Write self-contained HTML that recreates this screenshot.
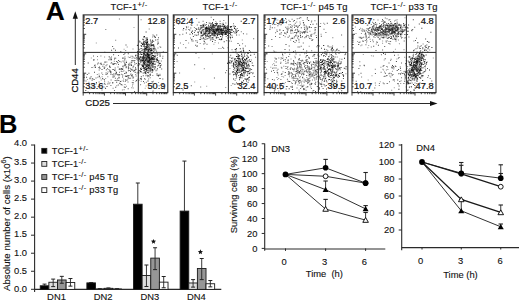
<!DOCTYPE html>
<html><head><meta charset="utf-8"><style>
html,body{margin:0;padding:0;background:#fff;width:520px;height:301px;overflow:hidden}
svg{display:block}
</style></head><body>
<svg width="520" height="301" viewBox="0 0 520 301">
<rect width="520" height="301" fill="#fff"/>
<path fill="#999" d="M90.8 57.4h1v1h-1zM86.9 79.1h1v1h-1zM91.5 78.4h1v1h-1zM122.1 84.6h1v1h-1zM87.6 91.3h1v1h-1zM132.3 84.1h1v1h-1zM130.4 55.7h1v1h-1zM102.4 64.5h1v1h-1zM102.2 66.1h1v1h-1zM107.2 83.6h1v1h-1zM103.7 86.5h1v1h-1zM116.0 63.6h1v1h-1zM131.7 82.0h1v1h-1zM120.7 80.7h1v1h-1zM110.9 58.4h1v1h-1zM127.4 78.5h1v1h-1zM89.6 88.3h1v1h-1zM132.7 77.0h1v1h-1zM105.2 78.1h1v1h-1zM132.1 77.4h1v1h-1zM133.0 59.9h1v1h-1zM109.1 83.3h1v1h-1zM127.9 66.6h1v1h-1zM110.4 62.7h1v1h-1zM127.8 56.4h1v1h-1zM119.0 68.3h1v1h-1zM98.0 67.0h1v1h-1zM105.1 84.1h1v1h-1zM109.9 57.6h1v1h-1zM93.6 66.6h1v1h-1zM115.4 70.8h1v1h-1zM124.2 58.2h1v1h-1zM98.5 73.5h1v1h-1zM130.2 77.4h1v1h-1zM108.2 59.3h1v1h-1zM97.0 59.2h1v1h-1zM123.6 48.8h1v1h-1zM95.8 42.4h1v1h-1zM133.5 27.1h1v1h-1zM142.8 39.2h1v1h-1zM162.0 21.2h1v1h-1zM159.4 46.2h1v1h-1zM153.7 35.6h1v1h-1zM152.9 80.7h1v1h-1zM145.6 85.6h1v1h-1zM144.7 87.8h1v1h-1zM159.5 73.8h1v1h-1zM152.1 91.5h1v1h-1zM156.4 61.7h1v1h-1zM156.3 58.0h1v1h-1zM158.1 82.1h1v1h-1zM146.8 55.9h1v1h-1zM152.4 82.9h1v1h-1z"/>
<path fill="#888" d="M114.3 57.6h1v1h-1zM125.5 71.5h1v1h-1zM100.7 79.4h1v1h-1zM105.8 69.4h1v1h-1zM107.8 81.6h1v1h-1zM135.0 69.0h1v1h-1zM124.8 58.2h1v1h-1zM125.8 60.8h1v1h-1zM132.7 80.0h1v1h-1zM101.6 76.2h1v1h-1zM99.8 77.4h1v1h-1zM135.4 54.5h1v1h-1zM96.0 83.3h1v1h-1zM127.9 68.3h1v1h-1zM118.5 77.7h1v1h-1zM130.0 73.7h1v1h-1zM97.3 76.7h1v1h-1zM119.2 68.2h1v1h-1zM136.8 78.8h1v1h-1zM114.4 74.4h1v1h-1zM137.5 55.6h1v1h-1zM117.9 74.0h1v1h-1zM122.7 66.6h1v1h-1zM115.5 73.5h1v1h-1zM130.6 73.6h1v1h-1zM125.2 50.1h1v1h-1zM107.6 83.2h1v1h-1zM126.7 46.4h1v1h-1zM96.8 74.0h1v1h-1zM117.1 61.7h1v1h-1zM122.6 80.3h1v1h-1zM122.1 57.9h1v1h-1zM131.6 57.7h1v1h-1zM131.8 74.1h1v1h-1zM110.0 66.7h1v1h-1zM120.7 61.4h1v1h-1zM135.2 73.9h1v1h-1zM144.9 78.8h1v1h-1zM123.4 70.3h1v1h-1zM102.2 73.9h1v1h-1zM134.9 72.0h1v1h-1zM128.4 75.2h1v1h-1zM123.1 78.6h1v1h-1zM134.4 63.9h1v1h-1zM140.7 80.8h1v1h-1zM124.8 75.5h1v1h-1zM99.9 67.7h1v1h-1zM122.4 70.9h1v1h-1zM108.3 68.9h1v1h-1zM149.8 73.6h1v1h-1zM119.8 83.3h1v1h-1zM94.8 66.3h1v1h-1zM159.6 62.8h1v1h-1zM138.6 79.8h1v1h-1zM123.0 80.7h1v1h-1zM132.0 85.4h1v1h-1zM109.9 70.6h1v1h-1zM107.0 68.0h1v1h-1zM88.4 81.8h1v1h-1zM118.6 68.7h1v1h-1zM144.7 62.3h1v1h-1zM138.3 64.6h1v1h-1zM125.4 66.3h1v1h-1zM133.7 57.6h1v1h-1zM118.8 73.9h1v1h-1zM129.6 67.7h1v1h-1zM125.0 79.2h1v1h-1zM131.2 87.3h1v1h-1zM110.5 73.4h1v1h-1zM108.7 59.2h1v1h-1zM106.3 69.1h1v1h-1zM137.5 58.6h1v1h-1zM132.4 67.2h1v1h-1zM128.0 75.5h1v1h-1zM124.1 64.7h1v1h-1zM129.2 64.7h1v1h-1zM112.1 76.4h1v1h-1zM152.3 75.1h1v1h-1zM116.5 80.0h1v1h-1zM98.8 75.3h1v1h-1zM140.6 72.0h1v1h-1zM109.1 65.2h1v1h-1zM104.1 56.5h1v1h-1zM132.7 87.6h1v1h-1zM104.9 88.0h1v1h-1zM109.5 82.2h1v1h-1zM104.3 66.9h1v1h-1zM93.9 79.0h1v1h-1zM133.1 76.6h1v1h-1zM115.8 71.7h1v1h-1zM107.3 76.3h1v1h-1zM132.5 48.6h1v1h-1zM138.0 56.5h1v1h-1zM136.0 57.6h1v1h-1zM133.2 69.8h1v1h-1zM132.8 77.6h1v1h-1zM121.9 89.5h1v1h-1z"/>
<path fill="#777" d="M155.9 59.5h1v1h-1zM152.3 58.8h1v1h-1zM150.0 48.2h1v1h-1zM145.9 46.0h1v1h-1zM147.9 54.0h1v1h-1zM149.2 66.3h1v1h-1zM152.3 57.4h1v1h-1zM142.0 60.1h1v1h-1zM137.5 64.5h1v1h-1zM156.9 56.9h1v1h-1zM146.1 58.9h1v1h-1zM151.7 59.0h1v1h-1zM160.8 60.4h1v1h-1zM151.4 65.0h1v1h-1zM149.6 67.3h1v1h-1zM153.2 40.9h1v1h-1zM156.4 69.6h1v1h-1zM144.1 58.6h1v1h-1zM146.7 53.1h1v1h-1zM144.8 73.1h1v1h-1zM152.5 44.0h1v1h-1zM141.8 49.6h1v1h-1zM146.8 64.4h1v1h-1zM153.7 47.3h1v1h-1zM156.8 55.1h1v1h-1zM139.2 49.3h1v1h-1zM148.7 61.2h1v1h-1zM151.3 45.0h1v1h-1zM144.2 60.7h1v1h-1zM140.5 58.9h1v1h-1zM136.4 58.8h1v1h-1zM143.3 49.0h1v1h-1zM149.7 63.7h1v1h-1zM141.2 58.9h1v1h-1zM148.2 61.1h1v1h-1zM156.9 59.0h1v1h-1zM149.1 64.7h1v1h-1zM145.3 58.5h1v1h-1zM153.3 58.4h1v1h-1zM153.4 51.7h1v1h-1zM143.0 59.0h1v1h-1zM142.4 48.4h1v1h-1zM147.4 75.6h1v1h-1zM145.7 51.7h1v1h-1zM148.0 60.8h1v1h-1zM140.8 42.5h1v1h-1zM160.9 64.4h1v1h-1zM142.2 60.0h1v1h-1zM146.6 55.7h1v1h-1zM144.2 44.3h1v1h-1zM152.9 51.1h1v1h-1zM142.3 56.5h1v1h-1zM153.9 55.7h1v1h-1zM145.6 58.6h1v1h-1zM148.5 46.0h1v1h-1zM147.2 62.3h1v1h-1zM148.8 58.1h1v1h-1zM148.2 43.6h1v1h-1zM144.5 52.1h1v1h-1zM146.7 74.8h1v1h-1zM142.9 45.8h1v1h-1zM133.0 70.8h1v1h-1zM156.1 50.7h1v1h-1zM148.0 58.3h1v1h-1zM148.1 52.5h1v1h-1zM147.5 61.1h1v1h-1zM148.9 47.4h1v1h-1zM146.2 57.7h1v1h-1zM149.3 61.0h1v1h-1zM150.6 61.4h1v1h-1zM154.9 63.6h1v1h-1zM140.3 62.2h1v1h-1zM147.9 72.5h1v1h-1zM144.3 67.5h1v1h-1zM143.0 62.1h1v1h-1zM143.7 53.9h1v1h-1zM133.3 65.4h1v1h-1zM152.8 61.6h1v1h-1zM155.9 60.7h1v1h-1zM140.2 67.9h1v1h-1zM145.9 63.2h1v1h-1zM152.2 53.0h1v1h-1zM155.2 55.3h1v1h-1zM149.1 50.7h1v1h-1zM149.7 57.8h1v1h-1zM148.4 68.6h1v1h-1zM162.4 55.8h1v1h-1zM151.2 69.3h1v1h-1zM152.0 41.8h1v1h-1zM146.7 52.7h1v1h-1zM148.6 75.8h1v1h-1zM140.2 61.9h1v1h-1zM148.3 44.7h1v1h-1zM148.1 58.5h1v1h-1zM148.1 78.4h1v1h-1zM149.2 61.3h1v1h-1zM145.6 53.3h1v1h-1zM151.5 53.3h1v1h-1zM157.2 61.7h1v1h-1zM137.6 53.5h1v1h-1zM150.8 69.5h1v1h-1zM157.5 47.5h1v1h-1zM145.0 59.8h1v1h-1zM143.9 55.1h1v1h-1zM136.9 55.0h1v1h-1zM151.6 65.8h1v1h-1zM149.7 71.3h1v1h-1zM145.7 65.5h1v1h-1zM149.1 59.1h1v1h-1zM149.9 65.6h1v1h-1zM150.2 55.3h1v1h-1zM147.2 50.8h1v1h-1zM147.3 76.2h1v1h-1zM156.2 58.6h1v1h-1zM136.8 54.6h1v1h-1zM147.5 53.0h1v1h-1zM141.3 58.2h1v1h-1zM150.5 53.5h1v1h-1zM154.6 55.4h1v1h-1zM146.8 65.9h1v1h-1zM148.1 65.3h1v1h-1zM153.8 50.2h1v1h-1zM151.2 58.8h1v1h-1zM146.6 68.0h1v1h-1zM144.0 62.9h1v1h-1zM144.9 67.2h1v1h-1zM136.3 57.1h1v1h-1zM142.6 44.1h1v1h-1zM146.7 61.5h1v1h-1zM147.1 64.0h1v1h-1zM145.4 41.8h1v1h-1zM143.1 43.4h1v1h-1zM142.0 38.8h1v1h-1zM152.3 40.4h1v1h-1zM153.6 35.4h1v1h-1zM152.1 36.4h1v1h-1zM150.6 46.4h1v1h-1zM150.5 45.9h1v1h-1zM145.0 40.2h1v1h-1zM148.6 45.2h1v1h-1zM143.6 43.0h1v1h-1zM143.7 37.0h1v1h-1zM148.4 45.0h1v1h-1zM144.2 40.8h1v1h-1zM146.5 44.3h1v1h-1zM149.4 45.2h1v1h-1zM138.8 40.4h1v1h-1zM146.7 45.0h1v1h-1zM149.9 48.6h1v1h-1zM146.2 48.3h1v1h-1zM146.9 48.6h1v1h-1zM149.7 52.0h1v1h-1zM112.9 69.1h1v1h-1zM135.3 80.8h1v1h-1zM112.6 87.8h1v1h-1zM107.5 71.4h1v1h-1zM113.0 74.5h1v1h-1zM121.1 73.8h1v1h-1zM125.8 85.7h1v1h-1zM106.3 61.6h1v1h-1zM97.0 55.9h1v1h-1zM124.8 81.0h1v1h-1zM99.8 63.1h1v1h-1zM109.4 57.4h1v1h-1zM114.0 89.9h1v1h-1zM112.0 74.3h1v1h-1zM135.0 67.4h1v1h-1zM124.5 84.0h1v1h-1zM132.6 56.6h1v1h-1zM123.6 89.3h1v1h-1zM116.3 85.3h1v1h-1zM113.8 60.8h1v1h-1zM123.3 57.8h1v1h-1zM125.0 64.7h1v1h-1zM100.4 55.5h1v1h-1zM100.1 62.8h1v1h-1zM99.0 84.2h1v1h-1zM113.8 75.7h1v1h-1zM130.7 61.8h1v1h-1zM118.0 55.1h1v1h-1zM131.7 55.7h1v1h-1zM91.6 79.9h1v1h-1zM100.9 62.8h1v1h-1zM92.6 78.9h1v1h-1zM92.6 83.4h1v1h-1zM132.4 82.2h1v1h-1zM104.1 80.8h1v1h-1zM110.8 71.6h1v1h-1zM118.9 18.4h1v1h-1zM105.3 29.1h1v1h-1zM115.2 39.8h1v1h-1zM162.8 51.2h1v1h-1zM140.6 19.3h1v1h-1zM141.2 43.0h1v1h-1zM143.3 37.2h1v1h-1zM148.7 28.6h1v1h-1zM157.2 65.6h1v1h-1zM142.3 91.5h1v1h-1zM158.6 85.3h1v1h-1zM142.7 57.0h1v1h-1zM153.2 57.7h1v1h-1zM143.9 82.5h1v1h-1zM149.0 65.8h1v1h-1zM155.0 66.5h1v1h-1zM149.7 77.2h1v1h-1z"/>
<path fill="#666" d="M139.9 78.0h1v1h-1zM124.3 63.2h1v1h-1zM103.8 83.5h1v1h-1zM114.7 67.6h1v1h-1zM110.4 73.7h1v1h-1zM129.4 64.3h1v1h-1zM140.1 84.3h1v1h-1zM131.7 74.9h1v1h-1zM130.0 71.1h1v1h-1zM110.6 79.6h1v1h-1zM113.3 76.4h1v1h-1zM115.2 57.7h1v1h-1zM102.5 78.4h1v1h-1zM119.0 71.7h1v1h-1zM114.7 62.9h1v1h-1zM145.4 75.2h1v1h-1zM131.6 69.8h1v1h-1zM101.5 89.4h1v1h-1zM102.0 78.1h1v1h-1zM117.2 78.3h1v1h-1zM118.0 64.1h1v1h-1zM137.6 52.3h1v1h-1zM131.6 76.0h1v1h-1zM135.2 55.6h1v1h-1zM112.9 76.4h1v1h-1zM125.3 72.7h1v1h-1zM93.0 55.5h1v1h-1zM138.3 72.2h1v1h-1zM100.6 87.6h1v1h-1zM150.2 49.4h1v1h-1zM93.2 86.4h1v1h-1zM104.5 61.8h1v1h-1zM131.6 69.9h1v1h-1zM85.5 80.5h1v1h-1zM116.1 73.2h1v1h-1zM124.4 56.6h1v1h-1zM139.9 59.2h1v1h-1zM127.5 81.6h1v1h-1zM135.7 68.7h1v1h-1zM113.4 73.2h1v1h-1zM140.8 78.0h1v1h-1zM124.4 64.6h1v1h-1zM134.0 70.0h1v1h-1zM131.4 59.9h1v1h-1zM125.6 67.2h1v1h-1zM110.4 84.9h1v1h-1zM114.9 77.7h1v1h-1zM129.3 62.7h1v1h-1zM91.6 85.6h1v1h-1zM111.0 56.4h1v1h-1zM97.1 63.4h1v1h-1zM117.5 66.4h1v1h-1zM109.6 70.9h1v1h-1zM94.6 64.4h1v1h-1zM113.6 63.1h1v1h-1zM119.1 69.1h1v1h-1zM128.5 75.1h1v1h-1zM143.6 53.9h1v1h-1zM110.1 72.0h1v1h-1zM112.4 63.6h1v1h-1zM123.6 65.3h1v1h-1zM138.4 72.4h1v1h-1zM129.5 78.1h1v1h-1zM152.5 56.6h1v1h-1zM114.0 63.0h1v1h-1zM95.5 77.4h1v1h-1zM105.5 65.2h1v1h-1zM134.3 60.0h1v1h-1zM128.1 67.1h1v1h-1zM98.8 76.3h1v1h-1zM120.3 50.9h1v1h-1zM124.0 72.9h1v1h-1zM124.7 64.1h1v1h-1zM98.6 81.4h1v1h-1zM138.6 63.0h1v1h-1zM110.4 59.2h1v1h-1zM135.0 67.2h1v1h-1zM134.4 71.4h1v1h-1zM116.5 79.8h1v1h-1zM101.3 72.5h1v1h-1zM125.5 75.9h1v1h-1zM152.8 63.1h1v1h-1zM109.0 66.1h1v1h-1zM106.5 64.2h1v1h-1zM122.5 60.5h1v1h-1zM104.2 82.7h1v1h-1zM138.4 54.1h1v1h-1zM130.8 75.1h1v1h-1zM98.7 69.5h1v1h-1zM124.5 62.5h1v1h-1zM144.0 69.3h1v1h-1zM135.6 75.4h1v1h-1zM122.4 57.2h1v1h-1zM155.5 70.2h1v1h-1zM145.8 81.7h1v1h-1zM128.4 77.4h1v1h-1zM92.2 77.9h1v1h-1z"/>
<path fill="#555" d="M143.0 55.1h1v1h-1zM143.4 59.9h1v1h-1zM147.2 43.3h1v1h-1zM149.1 58.6h1v1h-1zM153.4 58.7h1v1h-1zM140.0 70.5h1v1h-1zM151.7 59.6h1v1h-1zM146.0 60.7h1v1h-1zM144.1 47.8h1v1h-1zM146.5 56.2h1v1h-1zM142.4 57.3h1v1h-1zM154.3 56.1h1v1h-1zM143.6 56.4h1v1h-1zM147.4 57.5h1v1h-1zM143.8 61.2h1v1h-1zM150.5 49.4h1v1h-1zM140.0 60.1h1v1h-1zM145.5 68.3h1v1h-1zM148.6 67.2h1v1h-1zM144.1 47.3h1v1h-1zM145.0 57.2h1v1h-1zM147.7 54.4h1v1h-1zM145.7 55.3h1v1h-1zM145.4 62.3h1v1h-1zM153.6 66.1h1v1h-1zM156.7 75.0h1v1h-1zM136.9 45.0h1v1h-1zM143.2 57.6h1v1h-1zM143.6 50.5h1v1h-1zM148.0 66.5h1v1h-1zM154.9 56.5h1v1h-1zM148.8 70.3h1v1h-1zM152.9 59.3h1v1h-1zM147.7 48.2h1v1h-1zM134.1 62.2h1v1h-1zM150.3 69.1h1v1h-1zM153.5 67.2h1v1h-1zM151.6 71.9h1v1h-1zM142.4 56.1h1v1h-1zM147.2 45.5h1v1h-1zM149.6 53.9h1v1h-1zM150.3 50.1h1v1h-1zM151.5 61.2h1v1h-1zM143.3 67.2h1v1h-1zM148.3 56.5h1v1h-1zM150.6 44.7h1v1h-1zM144.8 55.8h1v1h-1zM142.2 57.5h1v1h-1zM147.8 63.4h1v1h-1zM154.0 60.8h1v1h-1zM141.8 60.8h1v1h-1zM146.4 70.4h1v1h-1zM139.3 60.4h1v1h-1zM146.0 54.7h1v1h-1zM153.4 58.6h1v1h-1zM144.2 71.7h1v1h-1zM142.5 58.6h1v1h-1zM142.6 64.5h1v1h-1zM150.6 49.4h1v1h-1zM138.4 48.7h1v1h-1zM142.8 75.2h1v1h-1zM146.5 47.2h1v1h-1zM140.2 56.6h1v1h-1zM148.3 55.7h1v1h-1zM147.7 74.9h1v1h-1zM147.9 64.2h1v1h-1zM148.5 61.0h1v1h-1zM149.3 59.8h1v1h-1zM141.9 59.8h1v1h-1zM149.8 62.9h1v1h-1zM140.2 60.8h1v1h-1zM134.6 57.7h1v1h-1zM158.1 61.3h1v1h-1zM149.1 62.4h1v1h-1zM146.8 62.4h1v1h-1zM146.5 44.6h1v1h-1zM148.4 53.9h1v1h-1zM150.2 68.6h1v1h-1zM148.2 57.6h1v1h-1zM152.8 57.3h1v1h-1zM151.2 67.8h1v1h-1zM149.6 51.7h1v1h-1zM145.0 66.8h1v1h-1zM147.8 72.0h1v1h-1zM144.3 64.7h1v1h-1zM142.9 55.9h1v1h-1zM142.8 45.4h1v1h-1zM146.5 57.0h1v1h-1zM152.3 63.8h1v1h-1zM150.5 44.6h1v1h-1zM154.6 61.2h1v1h-1zM137.5 59.7h1v1h-1zM145.1 54.4h1v1h-1zM156.4 53.2h1v1h-1zM146.4 49.8h1v1h-1zM153.6 57.2h1v1h-1zM137.8 71.7h1v1h-1zM146.9 65.4h1v1h-1zM150.5 53.5h1v1h-1zM150.9 48.6h1v1h-1zM148.7 64.4h1v1h-1zM149.6 56.8h1v1h-1zM144.5 58.2h1v1h-1zM143.0 80.9h1v1h-1zM143.2 50.7h1v1h-1zM145.9 43.9h1v1h-1zM144.1 49.1h1v1h-1zM162.2 57.7h1v1h-1zM147.0 44.2h1v1h-1zM160.0 66.4h1v1h-1zM152.6 62.9h1v1h-1zM153.3 58.8h1v1h-1zM161.2 68.6h1v1h-1zM154.3 47.8h1v1h-1zM151.2 59.3h1v1h-1zM146.0 67.8h1v1h-1zM155.4 49.6h1v1h-1zM152.4 62.5h1v1h-1zM145.4 59.3h1v1h-1zM144.0 78.3h1v1h-1zM152.8 64.6h1v1h-1zM152.0 39.8h1v1h-1zM139.9 51.2h1v1h-1zM151.7 58.2h1v1h-1zM146.3 67.7h1v1h-1zM158.3 62.2h1v1h-1zM138.6 56.6h1v1h-1zM140.6 61.3h1v1h-1zM141.0 64.5h1v1h-1zM143.1 60.1h1v1h-1zM145.7 48.5h1v1h-1zM152.2 40.6h1v1h-1zM150.9 43.5h1v1h-1zM149.2 52.5h1v1h-1zM146.5 38.6h1v1h-1zM148.2 44.1h1v1h-1zM142.9 42.4h1v1h-1zM148.4 55.0h1v1h-1zM150.4 43.4h1v1h-1zM148.6 47.0h1v1h-1zM153.0 45.1h1v1h-1zM143.5 35.9h1v1h-1zM143.6 52.1h1v1h-1zM148.6 47.5h1v1h-1zM157.5 41.6h1v1h-1zM139.6 41.3h1v1h-1zM144.3 44.0h1v1h-1zM145.3 41.8h1v1h-1zM144.5 45.9h1v1h-1zM153.3 44.4h1v1h-1zM139.2 41.4h1v1h-1zM148.8 44.0h1v1h-1zM136.6 72.4h1v1h-1zM134.1 91.1h1v1h-1zM127.7 88.2h1v1h-1zM128.0 65.5h1v1h-1zM127.8 77.2h1v1h-1zM99.0 66.6h1v1h-1zM103.5 63.8h1v1h-1zM85.3 90.0h1v1h-1zM90.6 76.3h1v1h-1zM114.5 69.2h1v1h-1zM124.2 59.5h1v1h-1zM107.0 73.2h1v1h-1zM98.9 75.9h1v1h-1zM89.5 78.2h1v1h-1zM97.8 62.4h1v1h-1zM117.8 84.5h1v1h-1zM112.4 69.1h1v1h-1zM118.4 75.3h1v1h-1zM114.7 80.0h1v1h-1zM128.0 68.2h1v1h-1zM88.4 72.8h1v1h-1zM124.1 59.5h1v1h-1zM86.8 73.9h1v1h-1zM129.3 69.9h1v1h-1zM97.7 86.0h1v1h-1zM130.8 63.7h1v1h-1zM123.8 86.5h1v1h-1zM125.4 79.7h1v1h-1zM132.6 82.2h1v1h-1zM124.7 86.9h1v1h-1zM110.8 59.3h1v1h-1zM123.6 61.6h1v1h-1zM126.6 79.5h1v1h-1zM111.1 62.3h1v1h-1zM94.2 65.0h1v1h-1zM93.4 58.9h1v1h-1zM104.3 51.7h1v1h-1zM112.1 45.9h1v1h-1zM156.2 34.6h1v1h-1zM152.5 34.6h1v1h-1zM160.2 46.8h1v1h-1zM158.0 37.2h1v1h-1zM157.9 42.7h1v1h-1zM152.2 81.5h1v1h-1zM140.7 67.4h1v1h-1zM162.3 78.4h1v1h-1zM151.5 81.3h1v1h-1zM162.4 84.0h1v1h-1zM149.7 75.0h1v1h-1zM152.6 90.4h1v1h-1zM148.3 71.4h1v1h-1zM159.6 55.5h1v1h-1zM164.1 88.3h1v1h-1z"/>
<path fill="#444" d="M112.2 82.6h1v1h-1zM112.3 81.9h1v1h-1zM142.6 64.7h1v1h-1zM136.1 79.9h1v1h-1zM111.1 49.8h1v1h-1zM101.5 69.1h1v1h-1zM117.1 74.3h1v1h-1zM118.5 77.1h1v1h-1zM120.6 68.8h1v1h-1zM128.1 63.8h1v1h-1zM106.5 85.9h1v1h-1zM94.9 67.0h1v1h-1zM121.2 68.0h1v1h-1zM93.3 59.7h1v1h-1zM122.1 76.5h1v1h-1zM113.3 48.3h1v1h-1zM114.0 58.6h1v1h-1zM145.5 73.2h1v1h-1zM138.1 64.9h1v1h-1zM129.4 56.9h1v1h-1zM124.4 52.8h1v1h-1zM87.7 62.6h1v1h-1zM94.0 71.7h1v1h-1zM138.9 57.8h1v1h-1zM108.7 56.2h1v1h-1zM125.4 75.7h1v1h-1zM105.6 73.9h1v1h-1zM91.5 67.1h1v1h-1zM137.7 65.2h1v1h-1zM122.3 68.6h1v1h-1zM131.1 65.0h1v1h-1zM120.8 84.3h1v1h-1zM140.7 79.1h1v1h-1zM126.2 76.0h1v1h-1zM123.4 54.1h1v1h-1zM119.2 74.2h1v1h-1zM95.9 81.9h1v1h-1zM125.5 44.4h1v1h-1zM141.1 60.1h1v1h-1zM113.1 54.3h1v1h-1zM119.3 60.9h1v1h-1zM109.4 66.8h1v1h-1zM120.3 68.4h1v1h-1zM127.5 75.2h1v1h-1zM115.2 86.7h1v1h-1zM105.1 87.8h1v1h-1zM112.4 63.5h1v1h-1zM110.8 58.8h1v1h-1zM122.2 74.6h1v1h-1zM114.2 70.0h1v1h-1zM122.3 65.8h1v1h-1zM104.6 61.4h1v1h-1zM135.7 63.1h1v1h-1zM120.7 83.9h1v1h-1zM105.6 72.6h1v1h-1zM118.1 60.0h1v1h-1zM130.3 68.4h1v1h-1zM116.2 81.8h1v1h-1zM126.6 75.5h1v1h-1zM149.9 63.0h1v1h-1zM120.8 70.8h1v1h-1zM98.9 67.5h1v1h-1zM118.3 79.9h1v1h-1zM131.8 60.2h1v1h-1zM131.4 69.1h1v1h-1zM134.4 69.8h1v1h-1zM127.9 70.3h1v1h-1zM125.3 64.3h1v1h-1zM89.6 77.4h1v1h-1zM121.8 69.1h1v1h-1zM126.1 66.6h1v1h-1zM115.9 72.0h1v1h-1zM100.7 64.1h1v1h-1zM139.2 51.2h1v1h-1zM115.2 51.9h1v1h-1zM135.1 55.1h1v1h-1zM133.6 60.5h1v1h-1zM126.0 62.0h1v1h-1zM119.9 80.9h1v1h-1zM117.3 62.3h1v1h-1zM115.2 73.3h1v1h-1zM115.0 49.8h1v1h-1zM109.3 69.8h1v1h-1zM131.3 61.7h1v1h-1zM127.8 53.3h1v1h-1zM132.7 66.2h1v1h-1zM86.1 76.8h1v1h-1zM138.7 69.9h1v1h-1zM116.2 60.9h1v1h-1zM103.9 79.2h1v1h-1zM103.8 68.1h1v1h-1zM103.6 66.6h1v1h-1zM126.0 72.2h1v1h-1zM109.8 71.2h1v1h-1zM119.2 82.7h1v1h-1zM130.8 64.8h1v1h-1zM113.3 64.0h1v1h-1z"/>
<path fill="#333" d="M143.6 56.7h1v1h-1zM150.5 63.2h1v1h-1zM141.4 42.8h1v1h-1zM145.5 37.6h1v1h-1zM144.1 68.0h1v1h-1zM148.9 48.6h1v1h-1zM141.9 65.5h1v1h-1zM144.8 71.2h1v1h-1zM154.8 66.6h1v1h-1zM152.3 69.7h1v1h-1zM147.8 62.0h1v1h-1zM152.2 58.8h1v1h-1zM137.3 44.7h1v1h-1zM151.2 60.7h1v1h-1zM142.7 59.3h1v1h-1zM137.5 58.0h1v1h-1zM152.8 51.8h1v1h-1zM143.1 57.6h1v1h-1zM147.7 69.7h1v1h-1zM146.9 55.8h1v1h-1zM140.5 71.0h1v1h-1zM151.0 52.6h1v1h-1zM148.3 61.5h1v1h-1zM152.2 69.0h1v1h-1zM152.8 63.6h1v1h-1zM153.3 63.2h1v1h-1zM153.1 58.9h1v1h-1zM140.2 51.7h1v1h-1zM144.9 50.6h1v1h-1zM140.8 76.2h1v1h-1zM148.9 58.3h1v1h-1zM145.6 31.4h1v1h-1zM148.2 59.4h1v1h-1zM154.5 53.2h1v1h-1zM152.7 55.1h1v1h-1zM147.5 56.7h1v1h-1zM157.1 43.6h1v1h-1zM148.8 57.3h1v1h-1zM148.9 63.3h1v1h-1zM149.1 57.1h1v1h-1zM146.8 72.0h1v1h-1zM147.4 56.8h1v1h-1zM156.9 68.2h1v1h-1zM156.6 59.4h1v1h-1zM150.1 60.8h1v1h-1zM148.8 64.0h1v1h-1zM139.1 57.7h1v1h-1zM148.2 49.1h1v1h-1zM145.9 68.2h1v1h-1zM147.4 65.8h1v1h-1zM154.2 55.8h1v1h-1zM151.8 70.5h1v1h-1zM144.9 72.5h1v1h-1zM142.8 61.9h1v1h-1zM141.4 50.3h1v1h-1zM145.7 66.3h1v1h-1zM151.8 57.7h1v1h-1zM139.0 58.7h1v1h-1zM144.4 49.8h1v1h-1zM143.2 62.7h1v1h-1zM148.8 60.4h1v1h-1zM143.2 66.0h1v1h-1zM142.6 67.8h1v1h-1zM138.1 51.6h1v1h-1zM155.6 58.7h1v1h-1zM142.8 58.5h1v1h-1zM145.5 57.0h1v1h-1zM137.1 56.5h1v1h-1zM145.5 56.7h1v1h-1zM139.3 63.7h1v1h-1zM150.9 64.4h1v1h-1zM153.7 45.8h1v1h-1zM146.5 69.8h1v1h-1zM150.8 53.1h1v1h-1zM154.4 64.0h1v1h-1zM150.2 58.5h1v1h-1zM150.6 66.6h1v1h-1zM157.9 64.8h1v1h-1zM159.3 66.7h1v1h-1zM147.5 50.8h1v1h-1zM140.1 53.4h1v1h-1zM143.5 68.3h1v1h-1zM146.6 59.6h1v1h-1zM149.7 59.5h1v1h-1zM140.6 45.0h1v1h-1zM143.6 63.2h1v1h-1zM152.4 57.1h1v1h-1zM159.8 65.1h1v1h-1zM157.9 75.4h1v1h-1zM146.6 64.8h1v1h-1zM155.2 39.4h1v1h-1zM145.7 48.7h1v1h-1zM148.1 56.3h1v1h-1zM152.4 70.2h1v1h-1zM148.0 55.3h1v1h-1zM142.4 65.0h1v1h-1zM145.6 59.7h1v1h-1zM139.8 70.9h1v1h-1zM140.3 55.9h1v1h-1zM143.4 52.6h1v1h-1zM149.1 62.0h1v1h-1zM147.6 46.6h1v1h-1zM147.0 44.5h1v1h-1zM153.9 58.7h1v1h-1zM148.3 54.9h1v1h-1zM147.5 60.3h1v1h-1zM145.3 64.4h1v1h-1zM145.2 67.0h1v1h-1zM145.8 69.3h1v1h-1zM142.4 65.9h1v1h-1zM147.9 51.1h1v1h-1zM142.2 57.9h1v1h-1zM142.7 60.6h1v1h-1zM157.0 59.9h1v1h-1zM152.5 61.4h1v1h-1zM148.9 60.3h1v1h-1zM145.0 69.1h1v1h-1zM146.2 69.1h1v1h-1zM148.9 54.8h1v1h-1zM151.7 69.2h1v1h-1zM143.2 42.4h1v1h-1zM154.2 58.3h1v1h-1zM143.5 62.2h1v1h-1zM148.6 67.9h1v1h-1zM143.5 59.7h1v1h-1zM159.6 55.4h1v1h-1zM148.8 59.5h1v1h-1zM147.3 52.9h1v1h-1zM142.7 72.5h1v1h-1zM149.6 73.9h1v1h-1zM154.8 37.1h1v1h-1zM147.5 54.8h1v1h-1zM143.9 48.5h1v1h-1zM150.4 42.5h1v1h-1zM143.6 41.2h1v1h-1zM146.0 45.7h1v1h-1zM147.6 45.9h1v1h-1zM157.4 39.2h1v1h-1zM146.0 42.8h1v1h-1zM146.2 49.2h1v1h-1zM150.4 40.7h1v1h-1zM143.8 49.6h1v1h-1zM149.9 39.6h1v1h-1zM152.8 45.6h1v1h-1zM146.7 45.4h1v1h-1zM144.8 41.7h1v1h-1zM147.1 47.0h1v1h-1zM145.5 45.9h1v1h-1zM146.3 41.6h1v1h-1zM152.3 49.5h1v1h-1zM144.6 43.5h1v1h-1zM146.1 41.7h1v1h-1zM143.1 39.2h1v1h-1z"/>
<path fill="#111" d="M150.1 59.0h1v1h-1zM145.1 54.8h1v1h-1zM146.0 47.6h1v1h-1zM147.5 60.3h1v1h-1zM144.1 50.7h1v1h-1zM148.9 59.9h1v1h-1zM159.5 53.5h1v1h-1zM152.2 58.4h1v1h-1zM147.4 54.1h1v1h-1zM148.0 55.1h1v1h-1zM146.8 55.4h1v1h-1zM152.1 68.9h1v1h-1zM150.4 48.0h1v1h-1zM145.1 51.9h1v1h-1zM148.1 50.2h1v1h-1zM145.2 59.8h1v1h-1zM152.7 44.2h1v1h-1zM147.0 58.4h1v1h-1zM141.5 53.7h1v1h-1zM148.5 54.2h1v1h-1zM150.4 50.0h1v1h-1zM148.9 58.8h1v1h-1zM145.7 70.4h1v1h-1zM148.6 57.7h1v1h-1zM147.7 67.2h1v1h-1zM153.2 48.4h1v1h-1zM142.9 65.9h1v1h-1zM148.7 56.9h1v1h-1zM150.7 58.5h1v1h-1zM150.4 62.0h1v1h-1zM152.6 55.1h1v1h-1zM137.7 53.1h1v1h-1zM149.4 68.6h1v1h-1zM151.3 50.1h1v1h-1zM156.5 73.6h1v1h-1zM142.6 59.7h1v1h-1zM146.4 54.3h1v1h-1zM147.1 60.8h1v1h-1zM157.3 53.6h1v1h-1zM147.3 55.7h1v1h-1zM151.7 52.4h1v1h-1zM159.6 62.9h1v1h-1zM143.5 69.9h1v1h-1zM141.1 54.0h1v1h-1zM147.4 61.5h1v1h-1zM158.8 63.3h1v1h-1zM152.4 66.3h1v1h-1zM144.2 60.8h1v1h-1zM154.3 68.5h1v1h-1zM140.6 48.0h1v1h-1zM150.7 60.5h1v1h-1zM138.1 62.9h1v1h-1zM147.5 80.6h1v1h-1zM154.4 48.4h1v1h-1zM146.8 52.0h1v1h-1zM143.1 53.5h1v1h-1zM151.7 52.6h1v1h-1zM143.5 67.1h1v1h-1zM140.1 68.4h1v1h-1zM144.3 64.0h1v1h-1zM148.3 61.1h1v1h-1zM152.6 47.7h1v1h-1zM142.6 63.5h1v1h-1zM146.3 66.0h1v1h-1zM148.1 49.5h1v1h-1zM144.4 53.8h1v1h-1zM143.3 52.8h1v1h-1zM145.1 47.6h1v1h-1zM143.1 55.8h1v1h-1zM146.1 57.8h1v1h-1zM147.1 53.4h1v1h-1zM149.8 67.6h1v1h-1zM145.0 48.0h1v1h-1zM141.6 56.9h1v1h-1zM152.5 58.5h1v1h-1zM151.7 45.1h1v1h-1zM146.7 39.8h1v1h-1zM151.5 57.9h1v1h-1zM148.3 54.4h1v1h-1zM156.6 58.7h1v1h-1zM150.4 51.2h1v1h-1zM147.2 67.7h1v1h-1zM143.4 61.2h1v1h-1zM159.5 78.0h1v1h-1zM143.9 62.8h1v1h-1zM146.7 64.3h1v1h-1zM146.6 52.7h1v1h-1zM147.9 67.1h1v1h-1zM145.7 64.7h1v1h-1zM150.9 57.4h1v1h-1zM146.6 53.9h1v1h-1zM143.6 43.7h1v1h-1zM147.9 61.5h1v1h-1zM159.4 74.7h1v1h-1zM149.0 56.5h1v1h-1zM151.4 57.0h1v1h-1zM144.8 72.2h1v1h-1zM151.8 64.6h1v1h-1zM137.1 51.2h1v1h-1zM140.1 57.3h1v1h-1zM147.9 64.9h1v1h-1zM150.8 62.3h1v1h-1zM141.8 59.9h1v1h-1zM144.5 63.7h1v1h-1zM142.2 65.7h1v1h-1zM146.2 46.7h1v1h-1zM143.6 58.3h1v1h-1zM145.9 68.9h1v1h-1zM150.3 58.3h1v1h-1zM150.2 70.2h1v1h-1zM158.3 60.3h1v1h-1zM149.2 56.6h1v1h-1zM142.6 64.7h1v1h-1zM149.2 65.3h1v1h-1zM144.8 60.6h1v1h-1zM152.3 66.7h1v1h-1zM140.9 69.1h1v1h-1zM153.6 56.0h1v1h-1zM145.6 58.7h1v1h-1zM153.4 60.8h1v1h-1zM157.9 74.8h1v1h-1zM152.1 62.9h1v1h-1zM143.6 57.1h1v1h-1zM147.7 67.7h1v1h-1zM147.6 56.9h1v1h-1zM150.7 62.0h1v1h-1zM150.9 55.8h1v1h-1zM144.5 62.2h1v1h-1zM143.2 41.6h1v1h-1zM151.6 58.5h1v1h-1zM150.7 44.8h1v1h-1zM145.8 39.5h1v1h-1zM151.5 41.7h1v1h-1zM143.9 36.1h1v1h-1zM150.9 49.6h1v1h-1zM142.0 43.9h1v1h-1zM147.0 42.1h1v1h-1zM143.9 53.2h1v1h-1zM146.1 42.8h1v1h-1zM146.8 41.4h1v1h-1zM146.4 43.8h1v1h-1zM144.0 45.6h1v1h-1zM146.8 49.2h1v1h-1zM151.8 54.8h1v1h-1zM147.2 41.2h1v1h-1zM149.0 49.2h1v1h-1zM142.4 43.5h1v1h-1zM154.3 36.2h1v1h-1zM146.6 37.5h1v1h-1zM144.8 48.7h1v1h-1zM140.9 45.8h1v1h-1zM151.5 44.7h1v1h-1zM146.9 39.0h1v1h-1z"/>
<rect x="83.2" y="14.9" width="84.60" height="77.70" fill="none" stroke="#2a2a2a" stroke-width="1.1"/>
<line x1="138.3" y1="14.9" x2="138.3" y2="92.6" stroke="#2a2a2a" stroke-width="1"/>
<line x1="83.2" y1="52.4" x2="167.8" y2="52.4" stroke="#2a2a2a" stroke-width="1"/>
<path d="M83.2 92.6H86.2M83.2 92.6V95.6M83.2 86.8H84.8M89.6 92.6V94.2M83.2 83.3H84.8M93.3 92.6V94.2M83.2 80.9H84.8M95.9 92.6V94.2M83.2 79.0H84.8M98.0 92.6V94.2M83.2 77.5H84.8M99.7 92.6V94.2M83.2 76.2H84.8M101.1 92.6V94.2M83.2 75.1H84.8M102.3 92.6V94.2M83.2 74.1H84.8M103.4 92.6V94.2M83.2 73.2H86.2M104.4 92.6V95.6M83.2 67.3H84.8M110.7 92.6V94.2M83.2 63.9H84.8M114.4 92.6V94.2M83.2 61.5H84.8M117.1 92.6V94.2M83.2 59.6H84.8M119.1 92.6V94.2M83.2 58.1H84.8M120.8 92.6V94.2M83.2 56.8H84.8M122.2 92.6V94.2M83.2 55.6H84.8M123.5 92.6V94.2M83.2 54.6H84.8M124.5 92.6V94.2M83.2 53.8H86.2M125.5 92.6V95.6M83.2 47.9H84.8M131.9 92.6V94.2M83.2 44.5H84.8M135.6 92.6V94.2M83.2 42.1H84.8M138.2 92.6V94.2M83.2 40.2H84.8M140.3 92.6V94.2M83.2 38.6H84.8M142.0 92.6V94.2M83.2 37.3H84.8M143.4 92.6V94.2M83.2 36.2H84.8M144.6 92.6V94.2M83.2 35.2H84.8M145.7 92.6V94.2M83.2 34.3H86.2M146.7 92.6V95.6M83.2 28.5H84.8M153.0 92.6V94.2M83.2 25.1H84.8M156.7 92.6V94.2M83.2 22.6H84.8M159.4 92.6V94.2M83.2 20.7H84.8M161.4 92.6V94.2M83.2 19.2H84.8M163.1 92.6V94.2M83.2 17.9H84.8M164.5 92.6V94.2M83.2 16.8H84.8M165.8 92.6V94.2M83.2 15.8H84.8M166.8 92.6V94.2" stroke="#2a2a2a" stroke-width="0.9" fill="none"/>
<path fill="#999" d="M182.9 43.9h1v1h-1zM215.3 20.9h1v1h-1zM214.5 41.9h1v1h-1zM220.5 47.9h1v1h-1zM218.0 42.6h1v1h-1zM227.3 47.2h1v1h-1zM196.9 40.4h1v1h-1zM209.5 38.0h1v1h-1zM201.2 30.7h1v1h-1zM196.8 45.1h1v1h-1zM182.7 19.5h1v1h-1zM203.2 26.7h1v1h-1zM220.6 30.6h1v1h-1zM213.4 43.8h1v1h-1zM225.9 40.0h1v1h-1zM210.2 29.2h1v1h-1zM188.1 42.5h1v1h-1zM232.2 59.7h1v1h-1zM245.5 61.1h1v1h-1zM236.0 61.6h1v1h-1zM237.7 59.6h1v1h-1zM252.1 73.2h1v1h-1zM230.7 85.0h1v1h-1zM236.6 68.7h1v1h-1zM237.2 84.0h1v1h-1zM248.5 67.7h1v1h-1zM237.9 70.4h1v1h-1zM176.6 61.0h1v1h-1zM206.2 85.8h1v1h-1zM211.8 53.6h1v1h-1zM198.4 57.2h1v1h-1zM194.2 81.6h1v1h-1zM225.2 87.1h1v1h-1zM235.5 31.3h1v1h-1zM238.7 34.6h1v1h-1zM241.8 39.6h1v1h-1z"/>
<path fill="#888" d="M208.8 31.5h1v1h-1zM199.1 39.0h1v1h-1zM205.5 38.5h1v1h-1zM190.0 37.6h1v1h-1zM213.2 39.0h1v1h-1zM204.7 39.1h1v1h-1zM197.6 28.8h1v1h-1zM205.4 31.7h1v1h-1zM199.7 43.0h1v1h-1zM206.5 38.5h1v1h-1zM197.4 28.8h1v1h-1zM218.4 48.1h1v1h-1zM204.8 32.9h1v1h-1zM209.0 35.8h1v1h-1zM191.5 31.0h1v1h-1zM200.2 36.9h1v1h-1zM187.7 26.5h1v1h-1zM188.1 29.1h1v1h-1zM206.5 32.1h1v1h-1zM211.6 39.2h1v1h-1zM204.8 30.3h1v1h-1zM202.6 32.7h1v1h-1zM192.8 40.5h1v1h-1zM206.1 33.1h1v1h-1zM213.2 32.5h1v1h-1zM193.9 26.9h1v1h-1zM198.8 28.9h1v1h-1z"/>
<path fill="#777" d="M227.0 32.6h1v1h-1zM220.4 32.2h1v1h-1zM233.0 23.2h1v1h-1zM209.5 31.8h1v1h-1zM205.3 28.0h1v1h-1zM233.7 32.3h1v1h-1zM216.6 27.8h1v1h-1zM206.3 25.9h1v1h-1zM218.4 26.0h1v1h-1zM219.1 27.9h1v1h-1zM230.0 38.2h1v1h-1zM225.2 27.1h1v1h-1zM233.9 25.6h1v1h-1zM211.9 33.8h1v1h-1zM230.8 26.2h1v1h-1zM200.8 26.6h1v1h-1zM218.7 26.1h1v1h-1zM225.7 30.0h1v1h-1zM222.1 34.6h1v1h-1zM223.4 30.6h1v1h-1zM226.7 29.2h1v1h-1zM210.7 16.8h1v1h-1zM214.3 29.5h1v1h-1zM213.6 30.3h1v1h-1zM231.8 29.0h1v1h-1zM219.7 32.0h1v1h-1zM204.9 24.8h1v1h-1zM210.4 26.9h1v1h-1zM218.0 32.4h1v1h-1zM223.1 25.7h1v1h-1zM224.1 30.9h1v1h-1zM212.3 24.7h1v1h-1zM211.1 27.0h1v1h-1zM208.9 29.9h1v1h-1zM213.5 27.2h1v1h-1zM217.2 27.5h1v1h-1zM215.5 25.1h1v1h-1zM225.7 36.0h1v1h-1zM208.6 22.4h1v1h-1zM224.2 30.3h1v1h-1zM224.9 27.4h1v1h-1zM221.5 29.7h1v1h-1zM224.9 29.8h1v1h-1zM217.5 30.2h1v1h-1zM227.9 29.9h1v1h-1zM236.0 31.8h1v1h-1zM216.6 28.7h1v1h-1zM210.6 38.5h1v1h-1zM211.1 23.6h1v1h-1zM211.3 28.1h1v1h-1zM218.2 26.6h1v1h-1zM222.7 29.6h1v1h-1zM213.1 30.4h1v1h-1zM231.3 29.8h1v1h-1zM228.4 28.5h1v1h-1zM232.1 29.8h1v1h-1zM219.4 29.3h1v1h-1zM201.6 30.8h1v1h-1zM209.9 25.8h1v1h-1zM224.0 25.5h1v1h-1zM219.8 24.9h1v1h-1zM218.3 31.6h1v1h-1zM240.8 31.2h1v1h-1zM202.8 35.1h1v1h-1zM222.3 31.8h1v1h-1zM236.8 28.1h1v1h-1zM204.8 27.0h1v1h-1zM207.5 27.7h1v1h-1zM202.5 25.1h1v1h-1zM202.3 38.2h1v1h-1zM223.1 30.3h1v1h-1zM220.4 26.4h1v1h-1zM203.3 30.6h1v1h-1zM221.6 23.5h1v1h-1zM221.2 28.8h1v1h-1zM220.4 30.2h1v1h-1zM221.2 30.8h1v1h-1zM213.4 25.5h1v1h-1zM206.3 30.1h1v1h-1zM235.1 30.4h1v1h-1zM209.1 26.2h1v1h-1zM232.7 25.5h1v1h-1zM209.1 33.1h1v1h-1zM208.9 33.0h1v1h-1zM221.9 29.5h1v1h-1zM223.8 27.0h1v1h-1zM211.9 27.2h1v1h-1zM226.1 30.9h1v1h-1zM223.2 28.5h1v1h-1zM221.3 31.2h1v1h-1zM215.2 31.9h1v1h-1zM208.1 26.5h1v1h-1zM210.3 32.6h1v1h-1zM211.2 27.3h1v1h-1zM222.5 24.1h1v1h-1zM219.4 26.8h1v1h-1zM217.6 25.2h1v1h-1zM216.7 27.4h1v1h-1zM211.2 25.9h1v1h-1zM219.7 29.9h1v1h-1zM213.8 34.3h1v1h-1zM210.6 27.3h1v1h-1zM218.9 31.3h1v1h-1zM225.2 34.0h1v1h-1zM204.9 36.6h1v1h-1zM200.8 31.0h1v1h-1zM208.1 25.6h1v1h-1zM206.0 23.9h1v1h-1zM205.2 27.8h1v1h-1zM224.5 24.9h1v1h-1zM211.7 35.0h1v1h-1zM233.4 25.7h1v1h-1zM216.5 27.6h1v1h-1zM202.9 34.0h1v1h-1zM216.4 37.3h1v1h-1zM212.5 37.5h1v1h-1zM217.4 30.6h1v1h-1zM212.4 26.6h1v1h-1zM246.3 33.6h1v1h-1zM202.9 36.9h1v1h-1zM216.9 25.9h1v1h-1zM203.1 25.0h1v1h-1zM212.8 27.5h1v1h-1zM223.2 29.2h1v1h-1zM208.8 29.5h1v1h-1zM187.1 22.0h1v1h-1zM223.3 20.1h1v1h-1zM209.5 35.1h1v1h-1zM196.2 18.1h1v1h-1zM223.2 47.9h1v1h-1zM219.7 25.9h1v1h-1zM203.1 33.6h1v1h-1zM226.4 40.2h1v1h-1zM179.9 42.5h1v1h-1zM222.4 47.1h1v1h-1zM203.7 23.4h1v1h-1zM204.2 48.2h1v1h-1zM187.1 18.6h1v1h-1zM205.0 29.6h1v1h-1zM225.3 22.4h1v1h-1zM178.1 23.6h1v1h-1zM222.0 46.7h1v1h-1zM242.8 48.8h1v1h-1zM241.6 54.7h1v1h-1zM241.0 62.1h1v1h-1zM249.1 59.0h1v1h-1zM244.9 67.9h1v1h-1zM249.4 72.8h1v1h-1zM238.5 62.0h1v1h-1zM241.0 54.1h1v1h-1zM239.4 58.5h1v1h-1zM243.8 73.7h1v1h-1zM232.9 64.2h1v1h-1zM243.1 60.7h1v1h-1zM241.3 68.5h1v1h-1zM235.6 67.5h1v1h-1zM228.6 62.2h1v1h-1zM235.7 62.0h1v1h-1zM234.5 63.8h1v1h-1zM235.6 52.3h1v1h-1zM241.6 65.6h1v1h-1zM241.9 62.9h1v1h-1zM237.6 57.2h1v1h-1zM240.3 76.7h1v1h-1zM240.9 70.6h1v1h-1zM239.6 58.8h1v1h-1zM240.9 55.9h1v1h-1zM243.1 61.1h1v1h-1zM232.8 62.7h1v1h-1zM237.6 56.0h1v1h-1zM237.5 71.8h1v1h-1zM246.9 56.2h1v1h-1zM237.3 68.8h1v1h-1zM226.1 70.1h1v1h-1zM248.8 70.3h1v1h-1zM246.4 57.9h1v1h-1zM243.8 52.4h1v1h-1zM236.4 62.6h1v1h-1zM244.1 61.2h1v1h-1zM246.2 64.5h1v1h-1zM234.8 58.4h1v1h-1zM245.3 70.5h1v1h-1zM242.1 67.5h1v1h-1zM233.2 69.1h1v1h-1zM241.4 58.6h1v1h-1zM235.5 58.6h1v1h-1zM231.5 49.2h1v1h-1zM242.1 43.2h1v1h-1zM234.5 71.8h1v1h-1zM238.2 67.9h1v1h-1zM239.6 62.6h1v1h-1zM231.8 60.7h1v1h-1zM240.1 60.4h1v1h-1zM241.5 77.3h1v1h-1zM238.4 60.8h1v1h-1zM234.1 64.4h1v1h-1zM244.0 66.9h1v1h-1zM231.6 65.3h1v1h-1zM240.1 60.2h1v1h-1zM233.5 51.7h1v1h-1zM243.1 75.6h1v1h-1zM240.3 62.0h1v1h-1zM239.3 67.5h1v1h-1zM247.8 65.6h1v1h-1zM235.5 78.1h1v1h-1zM255.1 56.8h1v1h-1zM244.1 62.9h1v1h-1zM238.6 55.9h1v1h-1zM239.8 61.2h1v1h-1zM231.2 58.1h1v1h-1zM253.1 65.2h1v1h-1zM243.0 66.6h1v1h-1zM244.9 45.4h1v1h-1zM242.2 61.3h1v1h-1zM233.3 64.2h1v1h-1zM243.7 70.2h1v1h-1zM236.5 63.7h1v1h-1zM241.9 56.7h1v1h-1zM235.4 61.2h1v1h-1zM241.0 62.5h1v1h-1zM232.4 51.8h1v1h-1zM235.3 64.8h1v1h-1zM242.1 70.0h1v1h-1zM238.7 63.2h1v1h-1zM247.6 56.2h1v1h-1zM241.5 77.6h1v1h-1zM229.4 68.0h1v1h-1zM233.9 60.4h1v1h-1zM239.0 70.3h1v1h-1zM244.9 72.0h1v1h-1zM244.6 52.8h1v1h-1zM247.7 78.1h1v1h-1zM250.9 59.4h1v1h-1zM236.0 82.2h1v1h-1zM200.2 86.5h1v1h-1zM203.8 68.2h1v1h-1zM186.9 88.1h1v1h-1zM195.5 53.1h1v1h-1zM175.7 88.4h1v1h-1zM179.1 72.4h1v1h-1zM230.8 40.8h1v1h-1zM229.1 40.4h1v1h-1z"/>
<path fill="#666" d="M201.0 35.1h1v1h-1zM200.3 31.5h1v1h-1zM196.8 24.5h1v1h-1zM200.6 38.2h1v1h-1zM201.3 27.1h1v1h-1zM197.1 31.8h1v1h-1zM216.6 36.6h1v1h-1zM191.5 38.7h1v1h-1zM202.3 34.3h1v1h-1zM226.2 32.5h1v1h-1zM200.6 34.8h1v1h-1zM206.2 35.4h1v1h-1zM203.5 40.5h1v1h-1zM205.1 32.5h1v1h-1zM202.6 20.7h1v1h-1zM212.7 28.8h1v1h-1zM211.7 34.3h1v1h-1zM182.3 33.7h1v1h-1zM185.5 29.2h1v1h-1zM196.8 42.1h1v1h-1zM190.6 24.3h1v1h-1zM214.4 30.5h1v1h-1zM182.6 29.4h1v1h-1zM206.8 29.2h1v1h-1zM185.9 26.3h1v1h-1zM202.7 26.8h1v1h-1z"/>
<path fill="#555" d="M207.2 31.0h1v1h-1zM226.9 25.3h1v1h-1zM224.1 32.0h1v1h-1zM198.2 28.6h1v1h-1zM209.3 27.2h1v1h-1zM207.5 30.6h1v1h-1zM222.9 27.2h1v1h-1zM208.3 33.1h1v1h-1zM206.5 33.4h1v1h-1zM197.9 31.4h1v1h-1zM222.6 22.7h1v1h-1zM208.3 27.9h1v1h-1zM209.3 27.4h1v1h-1zM219.2 27.4h1v1h-1zM222.1 32.7h1v1h-1zM214.0 26.4h1v1h-1zM211.1 29.7h1v1h-1zM219.7 29.1h1v1h-1zM212.2 32.7h1v1h-1zM211.7 28.2h1v1h-1zM223.9 27.4h1v1h-1zM217.7 30.1h1v1h-1zM218.6 28.6h1v1h-1zM215.9 33.4h1v1h-1zM209.6 27.2h1v1h-1zM212.2 38.5h1v1h-1zM219.7 29.1h1v1h-1zM242.9 33.2h1v1h-1zM221.8 32.1h1v1h-1zM231.4 34.7h1v1h-1zM220.9 28.6h1v1h-1zM213.4 31.1h1v1h-1zM200.3 26.6h1v1h-1zM211.9 31.1h1v1h-1zM217.6 31.2h1v1h-1zM219.6 20.8h1v1h-1zM217.6 28.0h1v1h-1zM218.6 34.3h1v1h-1zM218.9 30.7h1v1h-1zM200.1 32.5h1v1h-1zM220.2 31.5h1v1h-1zM202.2 26.2h1v1h-1zM216.3 27.9h1v1h-1zM226.7 31.7h1v1h-1zM224.3 30.4h1v1h-1zM214.1 26.8h1v1h-1zM206.0 21.9h1v1h-1zM197.9 34.2h1v1h-1zM210.4 32.6h1v1h-1zM201.2 25.1h1v1h-1zM221.7 26.1h1v1h-1zM217.1 27.2h1v1h-1zM227.0 28.9h1v1h-1zM230.2 29.1h1v1h-1zM218.3 25.7h1v1h-1zM223.6 33.5h1v1h-1zM219.7 25.2h1v1h-1zM205.4 36.4h1v1h-1zM217.3 32.9h1v1h-1zM219.9 30.4h1v1h-1zM216.3 28.5h1v1h-1zM204.6 24.6h1v1h-1zM208.0 24.7h1v1h-1zM227.6 26.3h1v1h-1zM209.5 35.5h1v1h-1zM204.9 31.8h1v1h-1zM200.6 31.8h1v1h-1zM223.4 32.6h1v1h-1zM214.0 26.4h1v1h-1zM212.8 32.4h1v1h-1zM198.2 27.2h1v1h-1zM211.3 26.9h1v1h-1zM221.8 25.7h1v1h-1zM217.2 31.4h1v1h-1zM199.9 25.1h1v1h-1zM210.4 34.9h1v1h-1zM213.9 31.3h1v1h-1zM206.9 27.7h1v1h-1zM220.7 29.2h1v1h-1zM230.2 27.0h1v1h-1zM214.3 34.6h1v1h-1zM226.3 31.7h1v1h-1zM226.7 28.3h1v1h-1zM225.8 27.6h1v1h-1zM206.4 29.5h1v1h-1zM209.9 39.6h1v1h-1zM209.0 33.2h1v1h-1zM226.8 27.7h1v1h-1zM229.3 30.7h1v1h-1zM213.8 28.8h1v1h-1zM230.0 33.7h1v1h-1zM198.0 32.5h1v1h-1zM219.4 33.2h1v1h-1zM217.8 31.4h1v1h-1zM190.3 27.5h1v1h-1zM224.7 29.2h1v1h-1zM205.4 28.7h1v1h-1zM208.6 27.6h1v1h-1zM224.1 28.1h1v1h-1zM218.4 29.2h1v1h-1zM229.0 31.1h1v1h-1zM224.2 25.6h1v1h-1zM215.2 24.7h1v1h-1zM217.4 29.3h1v1h-1zM220.4 25.5h1v1h-1zM198.5 21.8h1v1h-1zM196.0 28.9h1v1h-1zM211.4 37.3h1v1h-1zM225.5 27.2h1v1h-1zM224.9 30.3h1v1h-1zM215.1 28.2h1v1h-1zM215.8 32.6h1v1h-1zM222.3 28.5h1v1h-1zM230.9 29.5h1v1h-1zM217.6 27.9h1v1h-1zM203.0 37.8h1v1h-1zM227.2 31.6h1v1h-1zM219.1 27.8h1v1h-1zM235.7 29.7h1v1h-1zM217.7 36.9h1v1h-1zM212.7 32.5h1v1h-1zM226.5 29.9h1v1h-1zM216.3 30.1h1v1h-1zM209.1 32.6h1v1h-1zM219.5 38.9h1v1h-1zM213.7 26.4h1v1h-1zM203.8 38.6h1v1h-1zM206.5 43.8h1v1h-1zM196.5 46.1h1v1h-1zM217.7 30.3h1v1h-1zM227.5 31.4h1v1h-1zM214.7 40.0h1v1h-1zM179.3 34.3h1v1h-1zM217.4 26.4h1v1h-1zM203.9 41.0h1v1h-1zM178.0 47.5h1v1h-1zM221.2 38.1h1v1h-1zM191.6 40.5h1v1h-1zM185.3 47.2h1v1h-1zM226.5 30.0h1v1h-1zM211.6 33.4h1v1h-1zM246.1 65.6h1v1h-1zM250.0 51.6h1v1h-1zM246.2 63.5h1v1h-1zM237.6 66.6h1v1h-1zM228.0 80.6h1v1h-1zM232.3 57.6h1v1h-1zM240.8 74.0h1v1h-1zM239.0 79.2h1v1h-1zM242.8 61.4h1v1h-1zM243.2 69.3h1v1h-1zM243.8 72.1h1v1h-1zM246.7 54.7h1v1h-1zM231.1 57.7h1v1h-1zM244.3 61.9h1v1h-1zM239.0 78.7h1v1h-1zM237.0 69.7h1v1h-1zM243.6 65.4h1v1h-1zM246.9 75.0h1v1h-1zM234.6 58.0h1v1h-1zM229.4 56.7h1v1h-1zM241.7 64.6h1v1h-1zM242.1 74.6h1v1h-1zM245.0 67.6h1v1h-1zM241.8 68.9h1v1h-1zM239.1 84.1h1v1h-1zM238.0 65.6h1v1h-1zM239.3 69.3h1v1h-1zM241.7 65.4h1v1h-1zM238.6 51.7h1v1h-1zM233.7 74.0h1v1h-1zM241.1 71.2h1v1h-1zM243.8 72.3h1v1h-1zM238.0 53.9h1v1h-1zM241.3 81.6h1v1h-1zM238.9 76.9h1v1h-1zM238.1 63.1h1v1h-1zM245.2 85.5h1v1h-1zM234.5 69.7h1v1h-1zM246.1 65.8h1v1h-1zM250.6 72.0h1v1h-1zM253.7 76.1h1v1h-1zM235.1 72.9h1v1h-1zM247.5 61.5h1v1h-1zM244.2 56.1h1v1h-1zM246.4 70.9h1v1h-1zM235.1 62.0h1v1h-1zM247.0 78.8h1v1h-1zM242.3 68.5h1v1h-1zM246.3 64.5h1v1h-1zM244.1 59.1h1v1h-1zM246.7 74.6h1v1h-1zM229.7 62.4h1v1h-1zM247.0 52.3h1v1h-1zM244.0 66.3h1v1h-1zM237.0 73.2h1v1h-1zM238.6 72.1h1v1h-1zM241.3 70.5h1v1h-1zM235.4 50.8h1v1h-1zM238.2 75.1h1v1h-1zM244.4 64.1h1v1h-1zM239.3 61.8h1v1h-1zM251.1 68.9h1v1h-1zM234.6 79.7h1v1h-1zM243.0 51.8h1v1h-1zM246.4 54.7h1v1h-1zM243.2 50.6h1v1h-1zM248.3 76.9h1v1h-1zM233.7 72.3h1v1h-1zM229.4 73.5h1v1h-1zM246.3 65.2h1v1h-1zM239.7 70.8h1v1h-1zM235.1 72.4h1v1h-1zM246.9 78.0h1v1h-1zM242.6 67.9h1v1h-1zM246.9 61.2h1v1h-1zM246.7 65.4h1v1h-1zM248.0 57.1h1v1h-1zM243.9 63.4h1v1h-1zM242.1 64.3h1v1h-1zM243.7 75.4h1v1h-1zM240.2 65.0h1v1h-1zM243.3 68.9h1v1h-1zM241.6 55.8h1v1h-1zM247.5 59.8h1v1h-1zM239.3 60.5h1v1h-1zM253.8 53.8h1v1h-1zM244.5 78.2h1v1h-1zM242.0 58.7h1v1h-1zM236.6 63.5h1v1h-1zM230.2 54.7h1v1h-1zM251.9 64.9h1v1h-1zM253.0 83.9h1v1h-1zM244.4 72.8h1v1h-1zM194.2 64.2h1v1h-1zM182.5 89.4h1v1h-1zM213.9 77.4h1v1h-1zM190.8 85.3h1v1h-1zM225.1 72.2h1v1h-1zM176.8 54.8h1v1h-1zM240.9 50.8h1v1h-1zM240.0 51.3h1v1h-1zM253.2 38.3h1v1h-1z"/>
<path fill="#444" d="M186.1 27.3h1v1h-1zM209.9 34.9h1v1h-1zM200.6 35.7h1v1h-1zM204.5 42.5h1v1h-1zM193.9 31.9h1v1h-1zM195.2 44.8h1v1h-1zM204.2 33.1h1v1h-1zM185.9 32.5h1v1h-1zM207.4 38.0h1v1h-1zM192.9 36.0h1v1h-1zM185.5 40.1h1v1h-1zM191.1 39.3h1v1h-1zM215.9 36.7h1v1h-1zM203.3 43.6h1v1h-1zM189.5 33.7h1v1h-1zM201.7 27.3h1v1h-1zM199.9 38.9h1v1h-1zM191.0 31.9h1v1h-1zM204.6 27.4h1v1h-1zM195.4 40.2h1v1h-1zM208.0 28.4h1v1h-1zM199.2 30.5h1v1h-1zM214.2 35.0h1v1h-1zM215.5 24.8h1v1h-1zM210.3 29.1h1v1h-1zM212.0 41.0h1v1h-1zM214.5 34.9h1v1h-1z"/>
<path fill="#333" d="M206.6 35.7h1v1h-1zM211.6 29.8h1v1h-1zM230.4 31.8h1v1h-1zM213.3 26.5h1v1h-1zM218.6 29.1h1v1h-1zM202.6 29.0h1v1h-1zM202.6 23.9h1v1h-1zM209.5 28.8h1v1h-1zM220.5 39.2h1v1h-1zM209.4 37.0h1v1h-1zM217.5 31.5h1v1h-1zM202.6 29.6h1v1h-1zM214.5 30.3h1v1h-1zM227.4 37.6h1v1h-1zM229.5 30.3h1v1h-1zM208.7 30.4h1v1h-1zM222.2 34.3h1v1h-1zM213.0 26.2h1v1h-1zM214.4 27.6h1v1h-1zM212.1 30.6h1v1h-1zM225.5 27.9h1v1h-1zM208.7 30.7h1v1h-1zM218.3 34.1h1v1h-1zM207.2 34.3h1v1h-1zM223.9 30.9h1v1h-1zM226.3 31.9h1v1h-1zM203.3 31.5h1v1h-1zM224.5 34.1h1v1h-1zM214.3 33.5h1v1h-1zM211.7 25.0h1v1h-1zM216.8 29.3h1v1h-1zM211.8 32.9h1v1h-1zM222.5 31.5h1v1h-1zM213.7 31.4h1v1h-1zM211.7 26.1h1v1h-1zM213.1 31.2h1v1h-1zM208.6 29.2h1v1h-1zM234.7 32.5h1v1h-1zM218.5 30.6h1v1h-1zM216.6 30.0h1v1h-1zM204.5 33.7h1v1h-1zM208.8 29.6h1v1h-1zM208.6 28.0h1v1h-1zM222.7 28.3h1v1h-1zM225.0 31.4h1v1h-1zM217.0 25.8h1v1h-1zM212.2 36.9h1v1h-1zM220.1 36.0h1v1h-1zM226.5 31.9h1v1h-1zM210.2 31.2h1v1h-1zM211.5 31.8h1v1h-1zM216.2 25.2h1v1h-1zM222.9 27.9h1v1h-1zM214.5 35.5h1v1h-1zM218.8 38.7h1v1h-1zM225.5 32.9h1v1h-1zM212.6 33.8h1v1h-1zM212.2 24.3h1v1h-1zM204.4 28.8h1v1h-1zM219.5 27.8h1v1h-1zM205.5 30.8h1v1h-1zM218.7 33.9h1v1h-1zM207.7 32.9h1v1h-1zM233.2 31.0h1v1h-1zM218.1 30.6h1v1h-1zM220.8 32.7h1v1h-1zM225.1 32.2h1v1h-1zM223.7 41.3h1v1h-1zM205.6 27.6h1v1h-1zM225.7 33.8h1v1h-1zM204.9 31.4h1v1h-1zM206.1 31.0h1v1h-1zM234.9 26.1h1v1h-1zM227.2 27.1h1v1h-1zM212.0 26.3h1v1h-1zM230.9 28.8h1v1h-1zM204.9 28.3h1v1h-1zM195.5 28.1h1v1h-1zM217.1 27.6h1v1h-1zM227.1 35.0h1v1h-1zM221.7 30.2h1v1h-1zM226.4 26.1h1v1h-1zM200.9 27.4h1v1h-1zM208.5 29.8h1v1h-1zM191.3 24.8h1v1h-1zM206.9 29.8h1v1h-1zM200.4 27.4h1v1h-1zM215.4 29.2h1v1h-1zM203.7 32.7h1v1h-1zM225.3 31.2h1v1h-1zM218.4 30.0h1v1h-1zM194.5 34.4h1v1h-1zM221.8 36.4h1v1h-1zM215.1 29.8h1v1h-1zM210.1 35.6h1v1h-1zM229.6 35.6h1v1h-1zM213.4 33.6h1v1h-1zM201.6 29.8h1v1h-1zM225.3 29.8h1v1h-1zM236.1 34.6h1v1h-1zM208.1 27.5h1v1h-1zM211.6 22.9h1v1h-1zM216.1 24.0h1v1h-1zM221.0 32.1h1v1h-1zM220.9 33.5h1v1h-1zM219.3 28.7h1v1h-1zM218.7 32.2h1v1h-1zM213.5 24.8h1v1h-1zM220.4 26.0h1v1h-1zM221.9 29.9h1v1h-1zM202.8 28.9h1v1h-1zM237.8 30.1h1v1h-1zM221.3 30.6h1v1h-1zM214.7 25.8h1v1h-1zM215.8 30.9h1v1h-1zM220.1 26.2h1v1h-1zM220.5 32.3h1v1h-1zM206.5 27.7h1v1h-1zM225.5 30.0h1v1h-1zM189.2 29.4h1v1h-1zM191.9 30.5h1v1h-1zM221.7 33.6h1v1h-1zM217.0 28.4h1v1h-1zM210.2 25.3h1v1h-1zM205.5 34.7h1v1h-1zM235.5 49.2h1v1h-1zM244.6 62.3h1v1h-1zM243.0 80.2h1v1h-1zM238.7 64.2h1v1h-1zM250.0 68.5h1v1h-1zM239.9 76.6h1v1h-1zM235.9 47.9h1v1h-1zM239.3 61.2h1v1h-1zM240.4 68.0h1v1h-1zM238.7 64.7h1v1h-1zM245.4 71.2h1v1h-1zM229.6 60.3h1v1h-1zM242.9 59.9h1v1h-1zM245.9 62.5h1v1h-1zM242.6 47.7h1v1h-1zM251.7 62.5h1v1h-1zM242.9 56.8h1v1h-1zM244.9 69.9h1v1h-1zM242.3 70.2h1v1h-1zM244.9 59.5h1v1h-1zM239.2 54.9h1v1h-1zM248.9 60.4h1v1h-1zM243.5 70.4h1v1h-1zM239.8 48.2h1v1h-1zM241.5 69.9h1v1h-1zM233.1 66.1h1v1h-1zM233.0 64.7h1v1h-1zM239.1 44.8h1v1h-1zM246.0 80.5h1v1h-1zM234.1 67.7h1v1h-1zM247.2 72.6h1v1h-1zM239.4 65.8h1v1h-1zM236.1 76.6h1v1h-1zM239.5 77.5h1v1h-1zM244.8 78.8h1v1h-1zM240.8 66.4h1v1h-1zM248.9 50.1h1v1h-1zM237.5 58.1h1v1h-1zM242.3 73.6h1v1h-1zM249.4 70.2h1v1h-1zM235.2 64.5h1v1h-1zM232.3 71.7h1v1h-1zM243.4 67.5h1v1h-1zM232.4 83.3h1v1h-1zM247.3 68.1h1v1h-1zM233.4 66.9h1v1h-1zM234.8 61.7h1v1h-1zM237.5 43.1h1v1h-1zM237.7 61.4h1v1h-1zM243.1 67.9h1v1h-1zM248.7 68.5h1v1h-1zM243.9 70.2h1v1h-1zM230.8 62.3h1v1h-1zM245.5 66.7h1v1h-1zM242.1 82.0h1v1h-1zM247.6 81.8h1v1h-1zM235.6 72.5h1v1h-1zM247.4 66.7h1v1h-1zM236.7 53.6h1v1h-1zM248.0 71.1h1v1h-1zM235.7 63.4h1v1h-1zM240.2 59.5h1v1h-1zM242.6 70.0h1v1h-1zM238.4 55.8h1v1h-1zM235.7 75.3h1v1h-1zM237.3 72.0h1v1h-1zM233.0 74.2h1v1h-1zM237.3 67.0h1v1h-1zM236.5 70.4h1v1h-1zM249.0 65.4h1v1h-1zM234.7 49.0h1v1h-1zM238.0 64.2h1v1h-1zM245.9 59.2h1v1h-1zM234.4 83.7h1v1h-1zM248.7 73.2h1v1h-1zM246.9 71.0h1v1h-1zM242.6 65.0h1v1h-1zM238.5 58.2h1v1h-1zM245.9 67.9h1v1h-1zM242.2 67.1h1v1h-1zM235.3 60.6h1v1h-1zM242.5 63.3h1v1h-1z"/>
<path fill="#111" d="M222.1 34.6h1v1h-1zM207.1 27.5h1v1h-1zM221.3 31.7h1v1h-1zM228.2 29.1h1v1h-1zM202.0 35.2h1v1h-1zM216.1 29.4h1v1h-1zM213.0 24.2h1v1h-1zM216.9 35.0h1v1h-1zM202.8 24.9h1v1h-1zM213.4 29.2h1v1h-1zM217.4 33.2h1v1h-1zM225.3 33.6h1v1h-1zM214.8 23.1h1v1h-1zM206.0 27.1h1v1h-1zM207.3 35.2h1v1h-1zM227.2 28.6h1v1h-1zM229.8 37.1h1v1h-1zM206.6 30.3h1v1h-1zM213.1 30.5h1v1h-1zM199.9 28.6h1v1h-1zM204.9 34.8h1v1h-1zM208.4 28.7h1v1h-1zM216.9 23.2h1v1h-1zM210.8 27.9h1v1h-1zM214.4 31.7h1v1h-1zM213.2 35.3h1v1h-1zM214.4 24.9h1v1h-1zM212.9 24.8h1v1h-1zM183.2 27.9h1v1h-1zM229.8 26.2h1v1h-1zM217.6 29.2h1v1h-1zM213.2 29.6h1v1h-1zM224.6 26.2h1v1h-1zM204.8 32.7h1v1h-1zM221.5 30.2h1v1h-1zM221.2 38.9h1v1h-1zM229.2 29.1h1v1h-1zM213.9 32.8h1v1h-1zM226.3 29.6h1v1h-1zM209.6 22.7h1v1h-1zM231.8 36.7h1v1h-1zM210.4 27.0h1v1h-1zM219.6 23.2h1v1h-1zM216.2 30.0h1v1h-1zM220.9 33.7h1v1h-1zM196.3 34.8h1v1h-1zM201.1 32.0h1v1h-1zM212.0 22.3h1v1h-1zM220.1 29.3h1v1h-1zM235.3 28.7h1v1h-1zM216.7 34.0h1v1h-1zM226.1 31.6h1v1h-1zM208.3 33.3h1v1h-1zM208.8 28.4h1v1h-1zM219.6 33.2h1v1h-1zM213.1 19.2h1v1h-1zM224.9 27.3h1v1h-1zM208.2 31.6h1v1h-1zM221.8 32.3h1v1h-1zM225.5 34.0h1v1h-1zM217.1 29.4h1v1h-1zM215.5 31.6h1v1h-1zM236.1 32.2h1v1h-1zM222.8 32.0h1v1h-1zM230.0 31.8h1v1h-1zM219.6 33.8h1v1h-1zM214.8 33.2h1v1h-1zM221.2 28.9h1v1h-1zM205.9 28.1h1v1h-1zM220.3 30.2h1v1h-1zM227.4 29.2h1v1h-1zM211.3 33.4h1v1h-1zM234.1 27.9h1v1h-1zM222.4 25.4h1v1h-1zM231.4 32.0h1v1h-1zM205.3 28.1h1v1h-1zM210.2 24.4h1v1h-1zM218.1 26.4h1v1h-1zM205.5 29.6h1v1h-1zM233.9 27.6h1v1h-1zM213.6 29.2h1v1h-1zM223.5 32.5h1v1h-1zM218.1 29.0h1v1h-1zM225.4 33.6h1v1h-1zM230.8 25.9h1v1h-1zM209.3 30.6h1v1h-1zM206.5 28.4h1v1h-1zM203.3 25.8h1v1h-1zM216.0 22.8h1v1h-1zM212.5 27.6h1v1h-1zM208.1 36.2h1v1h-1zM205.8 27.7h1v1h-1zM214.1 31.0h1v1h-1zM217.5 28.3h1v1h-1zM223.1 23.9h1v1h-1zM240.7 20.7h1v1h-1zM223.7 26.0h1v1h-1zM227.1 31.2h1v1h-1zM225.2 27.5h1v1h-1zM221.5 33.4h1v1h-1zM229.9 33.4h1v1h-1zM212.3 29.0h1v1h-1zM222.9 29.8h1v1h-1zM215.8 37.4h1v1h-1zM203.6 33.8h1v1h-1zM218.4 24.9h1v1h-1zM215.5 29.1h1v1h-1zM210.8 29.6h1v1h-1zM218.6 32.1h1v1h-1zM215.0 32.6h1v1h-1zM201.0 32.8h1v1h-1zM192.0 33.2h1v1h-1zM216.8 29.3h1v1h-1zM209.7 29.5h1v1h-1zM208.9 31.8h1v1h-1zM194.7 30.2h1v1h-1zM221.1 30.3h1v1h-1zM228.8 32.9h1v1h-1zM213.5 31.5h1v1h-1zM220.7 28.2h1v1h-1zM213.6 32.6h1v1h-1zM225.0 32.5h1v1h-1zM228.8 32.6h1v1h-1zM236.6 30.8h1v1h-1zM216.5 28.9h1v1h-1zM247.6 53.0h1v1h-1zM231.1 60.7h1v1h-1zM242.9 61.9h1v1h-1zM236.0 56.1h1v1h-1zM237.5 56.0h1v1h-1zM228.8 62.3h1v1h-1zM248.9 76.8h1v1h-1zM240.5 64.1h1v1h-1zM248.2 63.8h1v1h-1zM248.4 79.4h1v1h-1zM242.9 50.3h1v1h-1zM236.6 68.3h1v1h-1zM243.0 72.3h1v1h-1zM241.3 65.0h1v1h-1zM238.6 64.0h1v1h-1zM232.7 71.1h1v1h-1zM243.2 64.7h1v1h-1zM246.9 52.1h1v1h-1zM241.8 58.2h1v1h-1zM238.6 62.9h1v1h-1zM235.5 66.3h1v1h-1zM233.3 62.5h1v1h-1zM241.7 63.4h1v1h-1zM246.5 57.5h1v1h-1zM240.1 75.3h1v1h-1zM245.2 68.3h1v1h-1zM237.0 60.4h1v1h-1zM246.0 58.1h1v1h-1zM236.4 66.1h1v1h-1zM239.6 63.4h1v1h-1zM237.1 69.1h1v1h-1zM239.5 71.7h1v1h-1zM236.0 60.0h1v1h-1zM233.1 78.5h1v1h-1zM252.5 72.4h1v1h-1zM227.0 62.8h1v1h-1zM237.7 55.2h1v1h-1zM243.1 69.0h1v1h-1zM235.9 74.2h1v1h-1zM237.2 57.7h1v1h-1zM241.1 73.0h1v1h-1zM235.3 73.8h1v1h-1zM228.3 61.2h1v1h-1zM237.3 65.1h1v1h-1zM238.4 69.5h1v1h-1zM242.7 57.6h1v1h-1zM238.0 61.7h1v1h-1zM242.0 75.3h1v1h-1zM244.7 59.7h1v1h-1zM237.1 70.0h1v1h-1zM250.2 54.7h1v1h-1zM241.3 66.1h1v1h-1zM246.1 78.8h1v1h-1zM234.1 58.7h1v1h-1zM240.2 60.9h1v1h-1zM247.6 64.8h1v1h-1zM236.7 69.9h1v1h-1zM239.9 74.1h1v1h-1zM243.4 65.0h1v1h-1zM248.8 72.8h1v1h-1zM250.1 60.9h1v1h-1zM238.3 61.5h1v1h-1zM245.6 63.1h1v1h-1zM242.0 63.3h1v1h-1zM238.2 59.5h1v1h-1zM236.5 72.3h1v1h-1zM242.1 58.3h1v1h-1zM241.3 81.8h1v1h-1zM241.1 61.9h1v1h-1zM242.7 62.2h1v1h-1zM236.0 71.0h1v1h-1zM240.9 74.8h1v1h-1zM244.2 58.7h1v1h-1zM239.2 58.2h1v1h-1zM243.9 54.4h1v1h-1zM242.0 59.6h1v1h-1zM233.0 63.6h1v1h-1zM241.2 53.5h1v1h-1zM243.6 62.6h1v1h-1zM238.4 57.4h1v1h-1zM242.7 67.4h1v1h-1zM236.8 83.2h1v1h-1z"/>
<rect x="173.3" y="14.9" width="84.50" height="77.70" fill="none" stroke="#2a2a2a" stroke-width="1.1"/>
<line x1="228.4" y1="14.9" x2="228.4" y2="92.6" stroke="#2a2a2a" stroke-width="1"/>
<line x1="173.3" y1="52.4" x2="257.8" y2="52.4" stroke="#2a2a2a" stroke-width="1"/>
<path d="M173.3 92.6H176.3M173.3 92.6V95.6M173.3 86.8H174.9M179.7 92.6V94.2M173.3 83.3H174.9M183.4 92.6V94.2M173.3 80.9H174.9M186.0 92.6V94.2M173.3 79.0H174.9M188.1 92.6V94.2M173.3 77.5H174.9M189.7 92.6V94.2M173.3 76.2H174.9M191.2 92.6V94.2M173.3 75.1H174.9M192.4 92.6V94.2M173.3 74.1H174.9M193.5 92.6V94.2M173.3 73.2H176.3M194.4 92.6V95.6M173.3 67.3H174.9M200.8 92.6V94.2M173.3 63.9H174.9M204.5 92.6V94.2M173.3 61.5H174.9M207.1 92.6V94.2M173.3 59.6H174.9M209.2 92.6V94.2M173.3 58.1H174.9M210.9 92.6V94.2M173.3 56.8H174.9M212.3 92.6V94.2M173.3 55.6H174.9M213.5 92.6V94.2M173.3 54.6H174.9M214.6 92.6V94.2M173.3 53.8H176.3M215.6 92.6V95.6M173.3 47.9H174.9M221.9 92.6V94.2M173.3 44.5H174.9M225.6 92.6V94.2M173.3 42.1H174.9M228.3 92.6V94.2M173.3 40.2H174.9M230.3 92.6V94.2M173.3 38.6H174.9M232.0 92.6V94.2M173.3 37.3H174.9M233.4 92.6V94.2M173.3 36.2H174.9M234.6 92.6V94.2M173.3 35.2H174.9M235.7 92.6V94.2M173.3 34.3H176.3M236.7 92.6V95.6M173.3 28.5H174.9M243.0 92.6V94.2M173.3 25.1H174.9M246.8 92.6V94.2M173.3 22.6H174.9M249.4 92.6V94.2M173.3 20.7H174.9M251.4 92.6V94.2M173.3 19.2H174.9M253.1 92.6V94.2M173.3 17.9H174.9M254.5 92.6V94.2M173.3 16.8H174.9M255.8 92.6V94.2M173.3 15.8H174.9M256.8 92.6V94.2" stroke="#2a2a2a" stroke-width="0.9" fill="none"/>
<path fill="#999" d="M269.8 26.9h1v1h-1zM280.7 51.7h1v1h-1zM275.5 19.6h1v1h-1zM277.3 19.4h1v1h-1zM310.6 38.2h1v1h-1zM280.5 24.6h1v1h-1zM295.5 39.7h1v1h-1zM310.0 35.3h1v1h-1zM268.7 19.1h1v1h-1zM279.7 29.5h1v1h-1zM275.4 51.4h1v1h-1zM314.3 29.2h1v1h-1zM285.6 18.7h1v1h-1zM276.2 21.9h1v1h-1zM281.3 18.3h1v1h-1zM280.2 21.7h1v1h-1zM275.3 24.0h1v1h-1zM266.7 61.0h1v1h-1zM284.9 82.1h1v1h-1zM296.8 62.4h1v1h-1zM268.5 85.0h1v1h-1zM307.5 72.6h1v1h-1zM304.0 53.3h1v1h-1zM306.9 86.3h1v1h-1zM280.7 73.9h1v1h-1zM315.4 71.7h1v1h-1zM272.1 64.2h1v1h-1zM273.3 62.9h1v1h-1zM294.8 81.0h1v1h-1zM296.2 69.1h1v1h-1zM280.8 66.7h1v1h-1zM291.0 82.2h1v1h-1zM274.0 60.6h1v1h-1zM280.4 58.8h1v1h-1zM277.7 74.6h1v1h-1zM300.5 72.7h1v1h-1zM278.2 90.4h1v1h-1zM308.3 68.7h1v1h-1zM283.8 83.3h1v1h-1zM277.1 79.1h1v1h-1zM315.3 72.4h1v1h-1zM270.3 66.7h1v1h-1zM298.8 91.1h1v1h-1zM304.2 71.2h1v1h-1zM296.0 70.9h1v1h-1zM271.1 87.4h1v1h-1zM327.7 73.3h1v1h-1zM344.4 68.1h1v1h-1zM323.6 81.1h1v1h-1zM321.2 81.5h1v1h-1zM333.5 75.0h1v1h-1zM336.7 80.7h1v1h-1zM339.3 58.6h1v1h-1zM343.0 88.1h1v1h-1zM343.2 46.2h1v1h-1zM333.1 49.3h1v1h-1z"/>
<path fill="#888" d="M282.8 21.3h1v1h-1zM298.0 36.0h1v1h-1zM311.3 39.7h1v1h-1zM306.2 31.6h1v1h-1zM298.6 30.6h1v1h-1zM303.8 26.8h1v1h-1zM295.9 34.4h1v1h-1zM300.0 36.9h1v1h-1zM310.5 34.0h1v1h-1zM302.8 31.0h1v1h-1zM296.3 25.8h1v1h-1zM274.4 17.2h1v1h-1zM303.5 24.5h1v1h-1zM284.7 36.2h1v1h-1zM293.9 36.0h1v1h-1zM286.8 31.9h1v1h-1zM290.1 24.0h1v1h-1zM298.3 38.8h1v1h-1zM306.4 28.3h1v1h-1zM290.5 33.1h1v1h-1zM306.0 26.5h1v1h-1zM291.8 26.2h1v1h-1zM299.8 33.5h1v1h-1zM292.5 32.4h1v1h-1zM296.8 28.8h1v1h-1zM291.7 28.6h1v1h-1zM285.8 33.6h1v1h-1zM295.2 31.9h1v1h-1zM278.5 24.1h1v1h-1zM288.4 19.7h1v1h-1zM312.3 38.9h1v1h-1zM305.3 29.7h1v1h-1zM296.7 32.1h1v1h-1zM323.2 22.8h1v1h-1zM279.1 22.9h1v1h-1zM311.5 33.7h1v1h-1zM315.7 35.1h1v1h-1zM296.2 21.4h1v1h-1zM287.6 29.5h1v1h-1zM274.2 27.3h1v1h-1zM303.6 25.1h1v1h-1zM299.5 21.4h1v1h-1zM287.1 29.7h1v1h-1zM296.1 32.9h1v1h-1zM315.0 28.9h1v1h-1zM320.2 23.0h1v1h-1zM320.6 33.7h1v1h-1zM324.2 23.8h1v1h-1zM290.8 27.0h1v1h-1zM306.1 34.8h1v1h-1zM294.6 29.9h1v1h-1zM280.7 21.3h1v1h-1zM300.3 31.0h1v1h-1zM286.1 21.0h1v1h-1zM269.4 29.1h1v1h-1zM280.1 21.7h1v1h-1zM300.4 17.3h1v1h-1zM319.3 25.9h1v1h-1zM299.6 16.9h1v1h-1zM290.0 30.2h1v1h-1zM294.4 25.4h1v1h-1zM293.7 80.0h1v1h-1zM308.9 67.7h1v1h-1zM302.5 60.4h1v1h-1zM286.9 86.0h1v1h-1zM284.6 75.0h1v1h-1zM305.8 55.8h1v1h-1zM297.4 84.4h1v1h-1zM316.1 62.1h1v1h-1zM299.8 67.2h1v1h-1zM285.3 63.0h1v1h-1zM307.8 78.5h1v1h-1zM278.2 77.9h1v1h-1zM295.3 76.2h1v1h-1zM311.6 75.1h1v1h-1zM287.4 68.9h1v1h-1zM287.5 62.8h1v1h-1zM303.8 81.7h1v1h-1zM285.1 60.8h1v1h-1zM299.8 76.0h1v1h-1zM298.5 89.5h1v1h-1zM301.7 72.7h1v1h-1zM293.1 69.1h1v1h-1zM317.3 66.9h1v1h-1zM314.6 71.2h1v1h-1zM314.4 58.1h1v1h-1zM311.0 74.5h1v1h-1zM303.3 89.2h1v1h-1zM306.2 71.4h1v1h-1zM298.2 58.7h1v1h-1zM297.4 78.3h1v1h-1zM299.8 59.9h1v1h-1zM293.3 77.7h1v1h-1zM303.6 64.1h1v1h-1zM302.4 80.5h1v1h-1zM305.0 70.4h1v1h-1zM317.3 66.8h1v1h-1zM319.6 69.3h1v1h-1zM311.3 83.2h1v1h-1zM299.1 65.1h1v1h-1zM307.1 79.4h1v1h-1zM311.2 40.1h1v1h-1zM313.1 77.2h1v1h-1zM305.7 86.7h1v1h-1zM300.6 81.5h1v1h-1zM303.3 74.0h1v1h-1zM290.5 58.4h1v1h-1zM302.3 71.2h1v1h-1zM314.4 51.8h1v1h-1zM306.5 60.5h1v1h-1zM308.5 79.8h1v1h-1zM273.4 86.4h1v1h-1zM318.2 70.2h1v1h-1zM297.6 68.6h1v1h-1zM293.0 76.1h1v1h-1zM309.3 76.6h1v1h-1zM290.6 72.0h1v1h-1zM310.8 63.8h1v1h-1zM303.6 81.5h1v1h-1zM299.0 66.0h1v1h-1zM298.5 71.8h1v1h-1zM299.7 68.4h1v1h-1zM282.5 71.3h1v1h-1zM303.2 69.2h1v1h-1zM315.7 61.4h1v1h-1zM312.0 75.3h1v1h-1zM315.8 77.0h1v1h-1zM291.0 72.2h1v1h-1zM314.6 65.9h1v1h-1zM306.3 76.9h1v1h-1zM303.1 72.5h1v1h-1zM322.8 68.0h1v1h-1zM303.2 62.6h1v1h-1zM299.8 66.5h1v1h-1zM308.9 57.2h1v1h-1zM288.9 76.3h1v1h-1zM318.4 77.5h1v1h-1zM318.2 71.9h1v1h-1zM298.3 72.0h1v1h-1zM290.7 62.8h1v1h-1zM328.7 76.6h1v1h-1zM309.2 78.0h1v1h-1zM293.4 61.6h1v1h-1zM295.5 71.2h1v1h-1zM310.3 69.0h1v1h-1zM316.4 63.1h1v1h-1zM283.3 65.7h1v1h-1zM317.4 81.2h1v1h-1zM287.9 59.6h1v1h-1zM319.7 67.2h1v1h-1zM288.8 74.5h1v1h-1zM311.4 75.9h1v1h-1zM301.1 83.6h1v1h-1zM299.7 84.9h1v1h-1zM305.5 70.5h1v1h-1zM316.9 71.5h1v1h-1zM291.1 76.1h1v1h-1zM305.7 53.0h1v1h-1zM281.5 72.9h1v1h-1zM295.9 63.8h1v1h-1zM297.6 67.2h1v1h-1zM285.7 62.8h1v1h-1zM302.2 73.2h1v1h-1zM290.6 72.9h1v1h-1zM315.6 69.1h1v1h-1zM309.9 72.7h1v1h-1zM301.3 67.0h1v1h-1zM322.5 83.8h1v1h-1zM324.2 60.3h1v1h-1zM307.1 66.4h1v1h-1zM298.2 59.2h1v1h-1zM295.5 76.2h1v1h-1zM282.5 57.5h1v1h-1zM308.7 45.7h1v1h-1zM281.5 75.9h1v1h-1zM316.5 72.5h1v1h-1zM305.1 68.0h1v1h-1zM283.1 76.6h1v1h-1zM311.9 63.8h1v1h-1zM284.5 52.7h1v1h-1zM326.9 67.6h1v1h-1zM298.9 82.8h1v1h-1zM294.4 55.7h1v1h-1zM301.3 68.6h1v1h-1zM310.3 76.6h1v1h-1zM327.5 73.9h1v1h-1zM322.1 53.0h1v1h-1zM319.6 65.0h1v1h-1zM319.4 83.6h1v1h-1zM337.1 70.5h1v1h-1zM326.0 80.2h1v1h-1zM323.9 62.7h1v1h-1zM327.9 63.5h1v1h-1zM305.3 56.7h1v1h-1zM318.6 76.7h1v1h-1zM331.3 74.9h1v1h-1zM329.0 69.0h1v1h-1zM331.7 72.7h1v1h-1zM327.7 59.4h1v1h-1zM323.2 74.5h1v1h-1zM321.1 62.3h1v1h-1zM315.0 70.8h1v1h-1zM332.2 52.2h1v1h-1zM340.5 62.3h1v1h-1zM315.0 83.9h1v1h-1zM345.4 73.2h1v1h-1zM324.0 66.8h1v1h-1zM315.0 73.4h1v1h-1zM337.4 63.7h1v1h-1zM328.5 61.6h1v1h-1zM333.9 65.1h1v1h-1zM315.3 74.6h1v1h-1zM324.9 75.4h1v1h-1zM310.1 72.7h1v1h-1zM342.5 52.1h1v1h-1zM330.2 70.4h1v1h-1zM325.4 76.8h1v1h-1zM316.9 61.2h1v1h-1zM328.5 52.0h1v1h-1zM320.7 64.2h1v1h-1zM322.7 68.1h1v1h-1z"/>
<path fill="#777" d="M280.8 32.0h1v1h-1zM279.4 20.3h1v1h-1zM269.5 28.6h1v1h-1zM271.6 46.0h1v1h-1zM309.4 30.7h1v1h-1zM273.3 50.5h1v1h-1zM287.4 26.4h1v1h-1zM299.9 35.4h1v1h-1zM281.8 19.4h1v1h-1zM297.7 25.9h1v1h-1zM290.2 39.6h1v1h-1zM286.1 28.2h1v1h-1zM302.5 20.1h1v1h-1zM274.0 51.5h1v1h-1zM288.5 24.3h1v1h-1zM310.9 21.5h1v1h-1zM295.3 25.5h1v1h-1zM276.4 77.1h1v1h-1zM267.3 78.2h1v1h-1zM299.7 62.7h1v1h-1zM275.6 65.0h1v1h-1zM314.3 67.6h1v1h-1zM297.3 66.8h1v1h-1zM278.3 57.5h1v1h-1zM280.2 63.0h1v1h-1zM293.9 67.8h1v1h-1zM274.5 57.4h1v1h-1zM274.4 89.6h1v1h-1zM282.0 53.6h1v1h-1zM316.2 69.6h1v1h-1zM305.6 89.7h1v1h-1zM280.7 57.3h1v1h-1zM282.4 55.3h1v1h-1zM276.6 70.3h1v1h-1zM272.0 67.7h1v1h-1zM293.4 73.9h1v1h-1zM279.5 86.2h1v1h-1zM287.0 67.2h1v1h-1zM293.6 62.4h1v1h-1zM310.3 86.4h1v1h-1zM309.6 84.4h1v1h-1zM274.0 72.1h1v1h-1zM312.2 55.8h1v1h-1zM271.4 85.4h1v1h-1zM266.1 68.7h1v1h-1zM281.0 84.2h1v1h-1zM323.7 55.0h1v1h-1zM335.2 65.0h1v1h-1zM316.6 60.4h1v1h-1zM328.6 62.0h1v1h-1zM328.7 46.4h1v1h-1zM334.1 61.2h1v1h-1zM335.6 61.5h1v1h-1zM330.4 68.6h1v1h-1zM322.6 67.2h1v1h-1zM332.4 80.0h1v1h-1zM334.2 64.9h1v1h-1zM331.1 78.9h1v1h-1zM336.7 56.4h1v1h-1zM330.4 61.4h1v1h-1zM330.8 49.8h1v1h-1zM329.3 65.7h1v1h-1zM337.8 61.7h1v1h-1zM325.0 55.9h1v1h-1zM336.1 70.7h1v1h-1zM341.3 80.6h1v1h-1zM331.0 68.7h1v1h-1zM327.5 61.1h1v1h-1zM338.7 75.3h1v1h-1zM322.0 62.6h1v1h-1zM319.5 64.0h1v1h-1zM340.6 60.9h1v1h-1zM321.6 61.0h1v1h-1zM327.4 62.9h1v1h-1zM333.2 81.5h1v1h-1zM337.5 68.1h1v1h-1zM327.8 58.5h1v1h-1zM329.4 54.4h1v1h-1zM318.7 55.7h1v1h-1zM337.9 65.5h1v1h-1zM327.5 64.1h1v1h-1zM327.3 50.3h1v1h-1zM333.0 84.5h1v1h-1zM330.5 80.1h1v1h-1zM332.3 37.2h1v1h-1zM326.2 49.2h1v1h-1zM320.8 64.6h1v1h-1zM336.7 48.4h1v1h-1zM327.0 65.8h1v1h-1zM332.1 69.3h1v1h-1zM335.7 53.8h1v1h-1zM330.8 66.5h1v1h-1zM332.8 81.6h1v1h-1zM333.1 74.1h1v1h-1zM320.0 69.3h1v1h-1zM326.5 63.5h1v1h-1zM328.3 56.5h1v1h-1zM325.4 62.4h1v1h-1zM323.3 76.9h1v1h-1zM331.1 54.8h1v1h-1zM337.2 62.7h1v1h-1zM332.8 76.4h1v1h-1zM333.5 76.4h1v1h-1zM339.8 51.7h1v1h-1zM337.3 64.5h1v1h-1zM327.9 73.2h1v1h-1zM327.8 61.4h1v1h-1zM335.7 74.5h1v1h-1zM332.5 64.1h1v1h-1zM322.7 62.5h1v1h-1zM333.0 55.9h1v1h-1zM338.5 53.0h1v1h-1zM335.1 64.2h1v1h-1zM325.3 62.6h1v1h-1zM324.9 72.8h1v1h-1zM331.3 57.5h1v1h-1zM326.2 91.1h1v1h-1zM321.7 63.9h1v1h-1zM344.3 54.3h1v1h-1zM324.2 80.0h1v1h-1zM331.3 55.9h1v1h-1zM324.1 80.9h1v1h-1zM326.5 81.5h1v1h-1zM337.9 90.8h1v1h-1zM324.7 68.8h1v1h-1zM324.6 50.9h1v1h-1zM336.6 49.3h1v1h-1z"/>
<path fill="#666" d="M306.7 26.7h1v1h-1zM303.8 24.2h1v1h-1zM307.1 31.8h1v1h-1zM302.8 42.4h1v1h-1zM308.8 26.0h1v1h-1zM291.6 18.8h1v1h-1zM293.7 37.3h1v1h-1zM279.3 36.9h1v1h-1zM272.3 23.9h1v1h-1zM307.1 27.9h1v1h-1zM314.3 27.2h1v1h-1zM294.8 22.8h1v1h-1zM275.0 36.0h1v1h-1zM283.5 19.9h1v1h-1zM286.6 31.4h1v1h-1zM292.0 30.2h1v1h-1zM298.4 39.4h1v1h-1zM304.0 28.9h1v1h-1zM297.6 30.6h1v1h-1zM276.4 29.6h1v1h-1zM285.9 22.3h1v1h-1zM298.7 17.9h1v1h-1zM295.4 35.6h1v1h-1zM294.0 32.0h1v1h-1zM292.9 20.7h1v1h-1zM294.9 34.8h1v1h-1zM305.0 31.5h1v1h-1zM291.2 29.6h1v1h-1zM277.6 22.9h1v1h-1zM290.3 31.5h1v1h-1zM314.4 20.3h1v1h-1zM290.1 29.5h1v1h-1zM301.5 31.9h1v1h-1zM299.8 23.6h1v1h-1zM274.2 24.1h1v1h-1zM310.6 35.3h1v1h-1zM291.5 25.3h1v1h-1zM307.9 20.1h1v1h-1zM313.6 33.2h1v1h-1zM303.9 31.5h1v1h-1zM311.2 20.6h1v1h-1zM305.6 25.6h1v1h-1zM296.7 18.3h1v1h-1zM306.9 17.1h1v1h-1zM294.5 41.9h1v1h-1zM290.7 38.0h1v1h-1zM303.5 31.8h1v1h-1zM294.0 27.0h1v1h-1zM310.0 24.1h1v1h-1zM299.2 46.4h1v1h-1zM283.1 35.0h1v1h-1zM279.0 33.6h1v1h-1zM300.4 36.7h1v1h-1zM275.1 32.2h1v1h-1zM304.3 37.3h1v1h-1zM314.6 30.3h1v1h-1zM288.5 27.7h1v1h-1zM323.5 28.8h1v1h-1zM325.4 31.9h1v1h-1zM308.4 36.5h1v1h-1zM298.6 41.7h1v1h-1zM319.9 79.0h1v1h-1zM296.8 78.2h1v1h-1zM300.5 81.4h1v1h-1zM291.8 74.1h1v1h-1zM294.8 57.3h1v1h-1zM304.6 64.9h1v1h-1zM317.4 65.9h1v1h-1zM296.3 72.9h1v1h-1zM330.1 74.9h1v1h-1zM288.4 72.7h1v1h-1zM293.2 60.7h1v1h-1zM311.2 50.2h1v1h-1zM298.9 57.9h1v1h-1zM284.7 58.9h1v1h-1zM294.7 76.1h1v1h-1zM306.5 79.6h1v1h-1zM294.9 75.8h1v1h-1zM300.0 70.0h1v1h-1zM313.5 73.4h1v1h-1zM296.7 68.3h1v1h-1zM297.5 63.5h1v1h-1zM313.9 75.0h1v1h-1zM313.6 55.4h1v1h-1zM316.4 76.3h1v1h-1zM277.5 68.7h1v1h-1zM318.8 82.5h1v1h-1zM295.4 78.0h1v1h-1zM297.6 73.5h1v1h-1zM293.7 77.8h1v1h-1zM291.4 75.1h1v1h-1zM327.7 68.6h1v1h-1zM308.5 70.8h1v1h-1zM298.7 62.3h1v1h-1zM310.7 82.8h1v1h-1zM330.3 68.6h1v1h-1zM295.0 82.3h1v1h-1zM307.5 61.1h1v1h-1zM295.5 81.7h1v1h-1zM300.1 79.8h1v1h-1zM301.7 68.7h1v1h-1zM307.2 79.4h1v1h-1zM299.2 72.8h1v1h-1zM323.1 64.9h1v1h-1zM306.5 67.1h1v1h-1zM312.7 75.4h1v1h-1zM296.5 71.3h1v1h-1zM301.7 69.6h1v1h-1zM313.2 64.1h1v1h-1zM300.2 64.3h1v1h-1zM296.6 64.5h1v1h-1zM294.9 50.4h1v1h-1zM293.0 60.1h1v1h-1zM273.8 79.4h1v1h-1zM315.9 71.0h1v1h-1zM313.5 71.6h1v1h-1zM299.3 77.2h1v1h-1zM297.0 65.7h1v1h-1zM306.3 54.9h1v1h-1zM309.5 75.3h1v1h-1zM308.4 75.3h1v1h-1zM292.9 63.1h1v1h-1zM310.2 73.9h1v1h-1zM296.7 67.2h1v1h-1zM304.9 79.5h1v1h-1zM313.7 62.5h1v1h-1zM304.5 80.3h1v1h-1zM287.4 66.3h1v1h-1zM289.7 68.3h1v1h-1zM280.4 79.0h1v1h-1zM295.1 73.7h1v1h-1zM293.6 64.7h1v1h-1zM295.7 68.5h1v1h-1zM312.5 66.7h1v1h-1zM274.1 64.7h1v1h-1zM291.9 73.3h1v1h-1zM318.6 75.9h1v1h-1zM308.1 56.7h1v1h-1zM303.1 74.2h1v1h-1zM288.9 49.4h1v1h-1zM305.6 61.6h1v1h-1zM310.2 61.6h1v1h-1zM288.2 56.1h1v1h-1zM308.7 58.0h1v1h-1zM311.9 79.6h1v1h-1zM297.3 69.9h1v1h-1zM293.7 68.8h1v1h-1zM305.7 81.1h1v1h-1zM307.2 65.7h1v1h-1zM285.7 88.5h1v1h-1zM313.8 67.2h1v1h-1zM315.9 74.1h1v1h-1zM292.1 68.8h1v1h-1zM293.0 63.7h1v1h-1zM292.8 79.8h1v1h-1zM300.1 87.9h1v1h-1zM292.1 68.3h1v1h-1zM311.9 39.8h1v1h-1zM303.3 84.7h1v1h-1zM309.8 71.3h1v1h-1zM280.4 61.7h1v1h-1zM308.5 66.2h1v1h-1zM307.8 67.6h1v1h-1zM307.6 78.3h1v1h-1zM308.8 81.3h1v1h-1zM312.7 72.5h1v1h-1zM299.3 73.0h1v1h-1zM310.9 88.0h1v1h-1zM293.4 70.5h1v1h-1zM300.2 62.2h1v1h-1zM285.4 65.9h1v1h-1zM299.5 54.5h1v1h-1zM321.1 84.2h1v1h-1zM299.0 66.5h1v1h-1zM314.2 69.5h1v1h-1zM298.0 75.4h1v1h-1zM297.4 61.8h1v1h-1zM307.9 79.7h1v1h-1zM291.8 83.1h1v1h-1zM296.5 87.6h1v1h-1zM303.6 78.5h1v1h-1zM304.9 79.5h1v1h-1zM306.0 60.4h1v1h-1zM312.4 90.5h1v1h-1zM306.7 65.0h1v1h-1zM324.2 78.5h1v1h-1zM332.1 65.9h1v1h-1zM339.1 68.0h1v1h-1zM317.9 71.4h1v1h-1zM321.3 86.0h1v1h-1zM328.0 71.8h1v1h-1zM322.7 58.9h1v1h-1zM328.5 63.9h1v1h-1zM318.7 60.9h1v1h-1zM315.7 58.0h1v1h-1zM330.4 73.0h1v1h-1zM313.3 90.1h1v1h-1zM324.4 68.2h1v1h-1zM319.6 76.9h1v1h-1zM320.2 72.4h1v1h-1zM324.0 80.7h1v1h-1zM315.5 63.3h1v1h-1zM333.3 66.7h1v1h-1zM321.7 68.4h1v1h-1zM335.8 75.4h1v1h-1zM325.2 78.2h1v1h-1zM315.4 64.1h1v1h-1zM326.0 80.6h1v1h-1zM336.1 62.4h1v1h-1zM324.0 74.5h1v1h-1zM332.1 45.4h1v1h-1zM322.5 58.9h1v1h-1zM336.2 72.4h1v1h-1zM338.7 60.4h1v1h-1zM317.0 69.0h1v1h-1zM331.5 60.5h1v1h-1zM333.9 76.9h1v1h-1zM321.1 71.0h1v1h-1zM335.9 79.7h1v1h-1zM325.2 69.2h1v1h-1z"/>
<path fill="#555" d="M268.2 45.4h1v1h-1zM277.4 25.2h1v1h-1zM284.5 48.9h1v1h-1zM288.9 35.5h1v1h-1zM287.3 28.8h1v1h-1zM300.7 45.7h1v1h-1zM303.8 32.0h1v1h-1zM271.3 38.9h1v1h-1zM293.1 51.0h1v1h-1zM269.8 25.4h1v1h-1zM276.7 31.1h1v1h-1zM285.0 17.9h1v1h-1zM287.3 28.3h1v1h-1zM305.5 36.2h1v1h-1zM316.4 46.3h1v1h-1zM288.7 45.6h1v1h-1zM271.0 70.8h1v1h-1zM273.5 67.6h1v1h-1zM304.2 88.4h1v1h-1zM289.9 68.7h1v1h-1zM275.5 67.5h1v1h-1zM295.1 75.0h1v1h-1zM307.9 81.7h1v1h-1zM299.1 62.6h1v1h-1zM274.7 88.4h1v1h-1zM306.3 69.2h1v1h-1zM280.4 88.8h1v1h-1zM303.3 88.9h1v1h-1zM282.1 54.0h1v1h-1zM273.1 70.0h1v1h-1zM289.2 53.7h1v1h-1zM281.7 58.0h1v1h-1zM315.0 91.1h1v1h-1zM286.9 78.7h1v1h-1zM295.8 80.3h1v1h-1zM304.0 70.7h1v1h-1zM297.9 81.1h1v1h-1zM266.5 53.3h1v1h-1zM276.8 72.1h1v1h-1zM306.2 75.1h1v1h-1zM271.9 79.0h1v1h-1zM282.3 82.8h1v1h-1zM273.9 90.5h1v1h-1zM297.8 70.5h1v1h-1zM275.7 61.6h1v1h-1zM316.6 72.5h1v1h-1zM332.2 55.3h1v1h-1zM327.9 58.2h1v1h-1zM334.5 72.4h1v1h-1zM323.5 60.3h1v1h-1zM330.1 60.5h1v1h-1zM333.2 57.7h1v1h-1zM327.1 70.9h1v1h-1zM335.7 71.9h1v1h-1zM329.8 61.7h1v1h-1zM337.5 66.3h1v1h-1zM330.5 46.4h1v1h-1zM330.8 49.0h1v1h-1zM330.7 72.2h1v1h-1zM333.0 61.6h1v1h-1zM337.7 65.1h1v1h-1zM331.0 48.3h1v1h-1zM334.0 80.1h1v1h-1zM331.0 73.7h1v1h-1zM320.1 66.2h1v1h-1zM328.1 79.3h1v1h-1zM332.1 75.2h1v1h-1zM325.3 71.6h1v1h-1zM336.6 75.8h1v1h-1zM326.7 60.9h1v1h-1zM326.2 71.5h1v1h-1zM339.6 69.2h1v1h-1zM333.4 58.4h1v1h-1zM330.9 59.1h1v1h-1zM336.9 83.8h1v1h-1zM340.7 62.4h1v1h-1zM343.0 76.0h1v1h-1zM332.7 68.5h1v1h-1zM326.4 61.2h1v1h-1zM333.8 64.4h1v1h-1zM316.7 75.8h1v1h-1zM326.9 63.2h1v1h-1zM329.3 65.8h1v1h-1zM324.7 59.9h1v1h-1zM337.5 69.6h1v1h-1zM326.3 70.6h1v1h-1zM322.6 88.0h1v1h-1zM331.4 64.7h1v1h-1zM333.1 79.5h1v1h-1zM335.1 66.1h1v1h-1zM338.4 49.9h1v1h-1zM331.5 75.1h1v1h-1zM331.0 61.8h1v1h-1zM320.6 66.9h1v1h-1zM323.5 59.7h1v1h-1zM332.5 60.5h1v1h-1zM308.9 71.8h1v1h-1zM331.4 59.9h1v1h-1zM323.4 64.5h1v1h-1zM329.2 76.2h1v1h-1zM327.9 64.5h1v1h-1zM331.6 71.6h1v1h-1zM325.9 85.0h1v1h-1zM335.1 53.3h1v1h-1zM328.1 63.2h1v1h-1zM334.7 50.6h1v1h-1zM319.2 68.5h1v1h-1zM331.0 65.3h1v1h-1zM314.3 79.6h1v1h-1zM318.1 61.7h1v1h-1zM327.2 58.4h1v1h-1zM345.5 68.5h1v1h-1zM327.7 74.4h1v1h-1zM341.4 58.7h1v1h-1zM325.1 53.5h1v1h-1zM323.3 55.1h1v1h-1zM335.3 74.8h1v1h-1zM334.8 74.7h1v1h-1zM337.4 66.6h1v1h-1zM330.5 77.1h1v1h-1zM331.1 66.8h1v1h-1zM325.9 72.6h1v1h-1zM336.7 84.8h1v1h-1zM341.2 84.7h1v1h-1zM333.6 18.2h1v1h-1zM341.1 34.6h1v1h-1z"/>
<path fill="#444" d="M297.1 29.5h1v1h-1zM295.9 40.2h1v1h-1zM312.5 23.7h1v1h-1zM293.9 19.9h1v1h-1zM326.8 22.7h1v1h-1zM316.2 23.4h1v1h-1zM303.1 22.5h1v1h-1zM304.3 27.5h1v1h-1zM273.8 18.4h1v1h-1zM297.6 30.9h1v1h-1zM271.8 27.3h1v1h-1zM292.2 37.9h1v1h-1zM307.5 35.0h1v1h-1zM306.8 18.6h1v1h-1zM282.0 21.9h1v1h-1zM289.5 21.0h1v1h-1zM319.7 25.9h1v1h-1zM284.7 32.7h1v1h-1zM308.2 20.1h1v1h-1zM290.0 26.6h1v1h-1zM285.3 26.7h1v1h-1zM302.9 21.9h1v1h-1zM304.5 31.0h1v1h-1zM306.7 29.2h1v1h-1zM310.8 35.7h1v1h-1zM310.7 27.0h1v1h-1zM318.0 40.1h1v1h-1zM298.1 31.2h1v1h-1zM314.5 32.2h1v1h-1zM304.1 32.5h1v1h-1zM280.6 23.7h1v1h-1zM295.2 29.3h1v1h-1zM309.3 37.9h1v1h-1zM284.0 32.5h1v1h-1zM287.0 31.6h1v1h-1zM295.8 31.9h1v1h-1zM291.7 37.4h1v1h-1zM300.0 34.9h1v1h-1zM298.8 24.9h1v1h-1zM282.8 29.9h1v1h-1zM303.4 31.7h1v1h-1zM299.7 32.4h1v1h-1zM280.4 33.5h1v1h-1zM316.0 36.9h1v1h-1zM302.0 32.5h1v1h-1zM285.5 44.0h1v1h-1zM300.8 27.2h1v1h-1zM297.2 37.5h1v1h-1zM291.4 29.9h1v1h-1zM285.5 22.1h1v1h-1zM279.2 29.4h1v1h-1zM296.2 25.5h1v1h-1zM293.7 24.6h1v1h-1zM297.6 35.6h1v1h-1zM297.3 26.9h1v1h-1zM320.8 35.7h1v1h-1zM305.8 36.3h1v1h-1zM293.1 40.9h1v1h-1zM308.8 27.0h1v1h-1zM315.3 27.1h1v1h-1zM302.0 36.3h1v1h-1zM287.6 36.7h1v1h-1zM285.6 68.1h1v1h-1zM287.5 80.7h1v1h-1zM305.4 59.8h1v1h-1zM314.2 53.9h1v1h-1zM314.6 64.8h1v1h-1zM309.0 74.1h1v1h-1zM301.5 85.3h1v1h-1zM323.0 55.5h1v1h-1zM309.2 67.5h1v1h-1zM314.2 77.4h1v1h-1zM285.9 57.2h1v1h-1zM298.6 59.3h1v1h-1zM309.4 80.3h1v1h-1zM292.2 63.5h1v1h-1zM287.5 59.7h1v1h-1zM275.6 57.9h1v1h-1zM311.1 66.6h1v1h-1zM311.0 64.8h1v1h-1zM313.2 54.6h1v1h-1zM307.2 82.7h1v1h-1zM312.9 61.3h1v1h-1zM329.1 52.3h1v1h-1zM295.6 71.1h1v1h-1zM319.6 74.7h1v1h-1zM291.6 77.4h1v1h-1zM318.6 61.8h1v1h-1zM304.5 62.0h1v1h-1zM297.6 46.6h1v1h-1zM291.8 85.7h1v1h-1zM318.7 45.6h1v1h-1zM300.5 66.2h1v1h-1zM292.7 77.3h1v1h-1zM281.3 67.4h1v1h-1zM292.1 88.9h1v1h-1zM311.2 83.0h1v1h-1zM302.1 77.2h1v1h-1zM319.0 88.5h1v1h-1zM297.4 72.1h1v1h-1zM309.0 63.1h1v1h-1zM315.8 78.5h1v1h-1zM311.2 68.0h1v1h-1zM291.3 63.2h1v1h-1zM300.5 71.2h1v1h-1zM306.2 50.6h1v1h-1zM307.6 68.4h1v1h-1zM305.0 67.6h1v1h-1zM317.6 68.6h1v1h-1zM302.8 63.0h1v1h-1zM289.3 80.9h1v1h-1zM302.9 48.8h1v1h-1zM291.7 87.1h1v1h-1zM300.9 64.5h1v1h-1zM323.5 69.0h1v1h-1zM320.8 68.4h1v1h-1zM294.8 83.3h1v1h-1zM298.7 80.0h1v1h-1zM307.0 63.1h1v1h-1zM307.3 86.3h1v1h-1zM298.6 82.2h1v1h-1zM299.0 71.7h1v1h-1zM306.8 54.9h1v1h-1zM299.1 62.4h1v1h-1zM288.7 88.2h1v1h-1zM301.5 86.6h1v1h-1zM322.5 78.1h1v1h-1zM309.0 68.8h1v1h-1zM316.8 85.9h1v1h-1zM319.6 77.7h1v1h-1zM301.1 74.2h1v1h-1zM290.5 63.5h1v1h-1zM323.7 84.3h1v1h-1zM318.8 87.2h1v1h-1zM290.5 67.2h1v1h-1zM285.9 86.0h1v1h-1zM309.5 83.7h1v1h-1zM303.3 73.4h1v1h-1zM287.8 73.8h1v1h-1zM306.6 62.2h1v1h-1zM276.8 84.8h1v1h-1zM308.8 62.1h1v1h-1zM325.7 61.0h1v1h-1zM283.1 59.8h1v1h-1zM284.8 72.1h1v1h-1zM299.4 64.1h1v1h-1zM326.0 88.5h1v1h-1zM306.9 71.6h1v1h-1zM320.2 83.4h1v1h-1zM313.1 62.0h1v1h-1zM307.2 81.6h1v1h-1zM296.5 70.3h1v1h-1zM277.2 72.4h1v1h-1zM310.7 72.5h1v1h-1zM321.5 75.2h1v1h-1zM306.0 70.4h1v1h-1zM303.2 87.9h1v1h-1zM312.6 69.8h1v1h-1zM302.2 76.7h1v1h-1zM304.0 62.2h1v1h-1zM301.1 52.1h1v1h-1zM340.6 67.1h1v1h-1zM301.1 60.5h1v1h-1zM297.4 79.5h1v1h-1zM326.5 64.8h1v1h-1zM304.0 66.3h1v1h-1zM288.8 73.2h1v1h-1zM311.0 83.8h1v1h-1zM301.8 59.7h1v1h-1zM290.4 86.2h1v1h-1zM312.1 73.8h1v1h-1zM314.5 83.2h1v1h-1zM288.6 71.9h1v1h-1zM287.5 61.8h1v1h-1zM306.5 59.1h1v1h-1zM275.6 58.7h1v1h-1zM310.5 68.5h1v1h-1zM308.4 70.5h1v1h-1zM299.1 80.3h1v1h-1zM294.9 62.9h1v1h-1zM288.3 71.1h1v1h-1zM298.9 71.1h1v1h-1zM295.5 53.4h1v1h-1zM302.4 86.1h1v1h-1zM281.2 73.7h1v1h-1zM288.7 80.9h1v1h-1zM334.8 73.6h1v1h-1zM308.6 73.5h1v1h-1zM339.6 88.2h1v1h-1zM319.7 68.0h1v1h-1zM326.3 72.7h1v1h-1zM328.7 72.7h1v1h-1zM327.5 74.9h1v1h-1zM329.1 72.2h1v1h-1zM315.1 69.9h1v1h-1zM324.4 73.1h1v1h-1zM342.9 78.0h1v1h-1zM321.0 66.7h1v1h-1zM320.4 71.7h1v1h-1zM323.7 66.0h1v1h-1zM328.6 74.3h1v1h-1zM334.0 71.7h1v1h-1zM321.0 47.8h1v1h-1zM314.5 61.9h1v1h-1zM317.4 54.5h1v1h-1zM329.7 62.5h1v1h-1zM329.2 65.0h1v1h-1zM318.7 63.2h1v1h-1zM341.2 90.2h1v1h-1zM332.1 71.4h1v1h-1zM322.4 52.3h1v1h-1zM337.5 68.8h1v1h-1zM334.6 56.6h1v1h-1zM320.7 74.2h1v1h-1zM328.0 76.0h1v1h-1zM340.1 63.2h1v1h-1zM336.0 74.9h1v1h-1zM319.9 60.1h1v1h-1zM315.2 81.8h1v1h-1zM339.0 67.6h1v1h-1zM324.6 85.5h1v1h-1zM337.6 76.9h1v1h-1z"/>
<path fill="#333" d="M321.4 79.2h1v1h-1zM330.2 61.5h1v1h-1zM332.2 67.4h1v1h-1zM333.7 62.2h1v1h-1zM332.7 49.4h1v1h-1zM327.9 64.2h1v1h-1zM333.0 74.3h1v1h-1zM328.5 65.1h1v1h-1zM331.7 50.5h1v1h-1zM330.3 57.9h1v1h-1zM327.0 58.4h1v1h-1zM325.0 77.9h1v1h-1zM329.9 69.1h1v1h-1zM326.8 58.9h1v1h-1zM315.4 60.4h1v1h-1zM324.4 63.5h1v1h-1zM323.3 67.1h1v1h-1zM334.3 65.4h1v1h-1zM335.1 68.3h1v1h-1zM324.3 72.7h1v1h-1zM333.2 58.7h1v1h-1zM342.3 74.2h1v1h-1zM329.2 67.9h1v1h-1zM332.2 66.0h1v1h-1zM318.1 78.8h1v1h-1zM334.0 86.4h1v1h-1zM329.9 60.2h1v1h-1zM332.0 58.4h1v1h-1zM316.2 65.2h1v1h-1zM327.6 60.9h1v1h-1zM330.8 54.0h1v1h-1zM328.4 56.1h1v1h-1zM343.8 67.7h1v1h-1zM332.0 63.0h1v1h-1zM324.7 71.9h1v1h-1zM330.2 62.5h1v1h-1zM329.1 59.4h1v1h-1zM339.3 63.3h1v1h-1zM319.1 65.6h1v1h-1zM323.4 71.8h1v1h-1zM330.8 73.3h1v1h-1zM332.2 65.2h1v1h-1zM328.6 66.0h1v1h-1zM333.3 65.1h1v1h-1zM324.2 65.7h1v1h-1zM320.2 67.5h1v1h-1zM330.2 64.5h1v1h-1zM339.5 67.4h1v1h-1zM328.6 59.3h1v1h-1zM336.3 74.1h1v1h-1zM332.4 78.3h1v1h-1zM326.3 52.8h1v1h-1zM331.2 57.1h1v1h-1zM330.5 70.6h1v1h-1zM322.0 79.6h1v1h-1zM332.7 74.4h1v1h-1zM320.9 69.7h1v1h-1zM333.2 66.3h1v1h-1zM329.2 69.0h1v1h-1zM337.4 66.5h1v1h-1zM324.2 61.7h1v1h-1zM331.2 66.7h1v1h-1zM336.1 68.8h1v1h-1zM331.4 81.7h1v1h-1zM324.4 74.0h1v1h-1zM324.2 52.8h1v1h-1zM337.8 62.8h1v1h-1zM331.9 47.9h1v1h-1zM329.9 83.1h1v1h-1zM331.3 67.1h1v1h-1z"/>
<path fill="#111" d="M322.0 61.0h1v1h-1zM328.0 72.4h1v1h-1zM336.2 84.3h1v1h-1zM320.5 59.4h1v1h-1zM322.0 63.9h1v1h-1zM320.2 62.0h1v1h-1zM334.9 75.5h1v1h-1zM345.6 66.3h1v1h-1zM331.9 47.2h1v1h-1zM322.4 60.0h1v1h-1zM330.7 62.0h1v1h-1zM323.6 68.3h1v1h-1zM331.2 65.1h1v1h-1zM320.3 59.0h1v1h-1zM323.2 45.1h1v1h-1zM344.0 57.8h1v1h-1zM334.2 66.4h1v1h-1zM327.6 73.6h1v1h-1zM340.5 72.8h1v1h-1zM342.0 72.0h1v1h-1zM333.6 77.2h1v1h-1zM332.3 59.5h1v1h-1zM334.5 61.6h1v1h-1zM329.9 69.7h1v1h-1zM317.4 45.0h1v1h-1zM336.1 81.6h1v1h-1zM345.1 53.5h1v1h-1zM320.9 54.2h1v1h-1zM321.5 64.3h1v1h-1zM321.2 61.7h1v1h-1zM327.9 63.9h1v1h-1zM336.1 49.6h1v1h-1zM331.8 80.9h1v1h-1zM332.2 69.8h1v1h-1zM317.4 62.6h1v1h-1zM324.1 48.7h1v1h-1zM326.2 54.3h1v1h-1zM328.6 62.3h1v1h-1zM343.1 74.8h1v1h-1zM338.0 74.8h1v1h-1zM333.1 77.2h1v1h-1zM327.7 73.6h1v1h-1zM326.4 51.8h1v1h-1zM331.5 71.3h1v1h-1zM337.5 65.5h1v1h-1zM335.6 74.5h1v1h-1zM338.1 64.6h1v1h-1zM322.9 62.9h1v1h-1zM327.5 45.5h1v1h-1zM334.5 61.4h1v1h-1zM319.9 67.4h1v1h-1zM327.4 70.1h1v1h-1zM336.2 81.4h1v1h-1zM320.7 83.5h1v1h-1zM324.0 71.0h1v1h-1zM330.3 75.1h1v1h-1zM326.8 67.2h1v1h-1zM332.1 63.2h1v1h-1zM338.8 75.9h1v1h-1zM338.9 72.9h1v1h-1zM324.9 70.5h1v1h-1zM332.1 67.2h1v1h-1zM323.4 75.9h1v1h-1zM325.0 71.6h1v1h-1zM329.1 79.1h1v1h-1zM318.3 76.3h1v1h-1zM332.0 66.8h1v1h-1zM333.4 71.5h1v1h-1zM328.0 68.9h1v1h-1zM336.8 65.6h1v1h-1z"/>
<rect x="264.1" y="14.9" width="83.70" height="77.70" fill="none" stroke="#2a2a2a" stroke-width="1.1"/>
<line x1="318.4" y1="14.9" x2="318.4" y2="92.6" stroke="#2a2a2a" stroke-width="1"/>
<line x1="264.1" y1="52.4" x2="347.8" y2="52.4" stroke="#2a2a2a" stroke-width="1"/>
<path d="M264.1 92.6H267.1M264.1 92.6V95.6M264.1 86.8H265.7M270.4 92.6V94.2M264.1 83.3H265.7M274.1 92.6V94.2M264.1 80.9H265.7M276.7 92.6V94.2M264.1 79.0H265.7M278.7 92.6V94.2M264.1 77.5H265.7M280.4 92.6V94.2M264.1 76.2H265.7M281.8 92.6V94.2M264.1 75.1H265.7M283.0 92.6V94.2M264.1 74.1H265.7M284.1 92.6V94.2M264.1 73.2H267.1M285.0 92.6V95.6M264.1 67.3H265.7M291.3 92.6V94.2M264.1 63.9H265.7M295.0 92.6V94.2M264.1 61.5H265.7M297.6 92.6V94.2M264.1 59.6H265.7M299.7 92.6V94.2M264.1 58.1H265.7M301.3 92.6V94.2M264.1 56.8H265.7M302.7 92.6V94.2M264.1 55.6H265.7M303.9 92.6V94.2M264.1 54.6H265.7M305.0 92.6V94.2M264.1 53.8H267.1M306.0 92.6V95.6M264.1 47.9H265.7M312.2 92.6V94.2M264.1 44.5H265.7M315.9 92.6V94.2M264.1 42.1H265.7M318.5 92.6V94.2M264.1 40.2H265.7M320.6 92.6V94.2M264.1 38.6H265.7M322.2 92.6V94.2M264.1 37.3H265.7M323.6 92.6V94.2M264.1 36.2H265.7M324.8 92.6V94.2M264.1 35.2H265.7M325.9 92.6V94.2M264.1 34.3H267.1M326.9 92.6V95.6M264.1 28.5H265.7M333.2 92.6V94.2M264.1 25.1H265.7M336.9 92.6V94.2M264.1 22.6H265.7M339.5 92.6V94.2M264.1 20.7H265.7M341.5 92.6V94.2M264.1 19.2H265.7M343.2 92.6V94.2M264.1 17.9H265.7M344.6 92.6V94.2M264.1 16.8H265.7M345.8 92.6V94.2M264.1 15.8H265.7M346.8 92.6V94.2" stroke="#2a2a2a" stroke-width="0.9" fill="none"/>
<path fill="#999" d="M374.7 37.0h1v1h-1zM354.9 26.5h1v1h-1zM382.4 23.2h1v1h-1zM367.4 47.2h1v1h-1zM357.1 40.9h1v1h-1zM364.9 40.0h1v1h-1zM360.3 45.3h1v1h-1zM368.6 19.5h1v1h-1zM388.0 37.0h1v1h-1zM360.0 27.7h1v1h-1zM394.9 48.7h1v1h-1zM362.2 37.2h1v1h-1zM360.9 30.3h1v1h-1zM401.7 37.0h1v1h-1zM368.2 44.9h1v1h-1zM382.1 40.4h1v1h-1zM358.3 20.7h1v1h-1zM432.8 57.5h1v1h-1zM411.6 56.7h1v1h-1zM424.7 59.4h1v1h-1zM412.1 65.5h1v1h-1zM414.0 87.4h1v1h-1zM417.8 76.2h1v1h-1zM413.3 75.7h1v1h-1zM410.1 64.4h1v1h-1zM371.5 75.3h1v1h-1zM375.1 84.7h1v1h-1zM358.3 74.2h1v1h-1zM372.4 90.0h1v1h-1zM362.8 54.0h1v1h-1zM398.9 88.8h1v1h-1zM396.4 58.5h1v1h-1zM383.7 59.5h1v1h-1zM393.8 87.2h1v1h-1zM370.9 55.3h1v1h-1zM399.5 73.0h1v1h-1zM387.1 82.9h1v1h-1zM379.8 81.3h1v1h-1zM367.7 79.4h1v1h-1zM397.9 58.0h1v1h-1zM383.1 69.4h1v1h-1zM360.2 91.0h1v1h-1zM418.9 47.2h1v1h-1zM424.7 22.5h1v1h-1z"/>
<path fill="#888" d="M383.1 35.3h1v1h-1zM391.3 27.9h1v1h-1zM396.2 38.4h1v1h-1zM396.2 30.1h1v1h-1zM396.2 36.2h1v1h-1zM384.8 24.2h1v1h-1zM386.6 34.7h1v1h-1zM389.1 32.8h1v1h-1zM386.0 30.8h1v1h-1zM400.8 36.5h1v1h-1zM393.9 33.9h1v1h-1zM386.4 35.5h1v1h-1zM373.2 34.1h1v1h-1zM389.0 28.1h1v1h-1zM400.4 31.2h1v1h-1zM380.2 32.0h1v1h-1zM377.6 36.7h1v1h-1zM396.6 19.3h1v1h-1zM380.3 34.5h1v1h-1zM386.7 40.3h1v1h-1zM393.5 28.7h1v1h-1zM395.6 27.5h1v1h-1zM384.7 31.3h1v1h-1zM387.2 26.9h1v1h-1zM400.6 30.6h1v1h-1zM380.0 29.4h1v1h-1zM385.8 28.6h1v1h-1zM403.9 37.6h1v1h-1zM386.6 32.9h1v1h-1zM388.5 41.0h1v1h-1zM387.3 27.3h1v1h-1zM388.9 30.5h1v1h-1zM374.6 33.8h1v1h-1zM386.5 32.9h1v1h-1zM367.4 24.4h1v1h-1zM394.0 20.5h1v1h-1zM363.9 30.1h1v1h-1zM395.8 27.3h1v1h-1zM382.0 34.5h1v1h-1zM382.9 30.4h1v1h-1zM390.0 35.7h1v1h-1zM387.9 23.3h1v1h-1zM373.3 32.1h1v1h-1zM387.2 27.7h1v1h-1zM389.8 29.8h1v1h-1zM385.5 28.8h1v1h-1zM384.1 32.3h1v1h-1zM372.5 25.9h1v1h-1zM387.5 29.2h1v1h-1zM377.4 31.5h1v1h-1zM395.9 26.6h1v1h-1zM365.7 29.8h1v1h-1zM403.3 24.5h1v1h-1zM398.1 34.1h1v1h-1zM390.4 33.0h1v1h-1zM380.0 38.4h1v1h-1zM364.8 40.1h1v1h-1zM394.2 23.7h1v1h-1zM385.5 40.6h1v1h-1zM399.6 32.9h1v1h-1zM391.1 31.2h1v1h-1zM374.1 29.6h1v1h-1zM398.0 39.5h1v1h-1zM388.1 26.9h1v1h-1zM381.3 27.8h1v1h-1zM384.4 26.1h1v1h-1zM401.7 31.4h1v1h-1zM383.2 24.3h1v1h-1zM396.3 25.6h1v1h-1zM374.4 23.2h1v1h-1zM405.3 23.9h1v1h-1zM373.6 31.8h1v1h-1zM378.1 33.1h1v1h-1zM400.6 31.6h1v1h-1zM406.0 30.5h1v1h-1zM391.6 28.5h1v1h-1zM386.5 24.8h1v1h-1zM384.8 31.8h1v1h-1zM400.5 34.4h1v1h-1zM375.9 29.5h1v1h-1zM394.9 26.2h1v1h-1zM383.3 30.8h1v1h-1zM382.3 30.5h1v1h-1zM416.0 37.8h1v1h-1zM390.9 30.4h1v1h-1zM365.9 30.3h1v1h-1zM397.6 24.4h1v1h-1zM375.0 32.1h1v1h-1zM385.3 31.7h1v1h-1zM387.2 34.0h1v1h-1zM398.9 43.2h1v1h-1zM381.4 27.6h1v1h-1zM395.8 29.4h1v1h-1zM388.5 30.2h1v1h-1zM401.1 27.4h1v1h-1zM386.7 28.4h1v1h-1zM374.3 31.2h1v1h-1zM393.1 28.0h1v1h-1zM372.0 21.7h1v1h-1zM395.8 38.8h1v1h-1zM404.5 17.2h1v1h-1zM400.0 35.8h1v1h-1zM388.3 31.8h1v1h-1zM413.4 40.4h1v1h-1zM394.6 25.0h1v1h-1zM384.8 34.4h1v1h-1zM391.0 26.7h1v1h-1zM376.1 35.6h1v1h-1zM388.4 26.4h1v1h-1zM360.9 32.9h1v1h-1zM376.0 34.1h1v1h-1zM366.1 42.2h1v1h-1zM369.1 35.6h1v1h-1zM364.6 34.0h1v1h-1zM378.5 34.8h1v1h-1zM380.7 27.9h1v1h-1zM379.0 23.1h1v1h-1zM370.7 33.8h1v1h-1zM375.8 26.7h1v1h-1zM362.3 30.9h1v1h-1zM374.9 24.0h1v1h-1zM378.0 37.1h1v1h-1zM376.9 42.0h1v1h-1zM372.2 28.8h1v1h-1zM355.5 33.0h1v1h-1zM378.0 28.6h1v1h-1zM362.0 40.5h1v1h-1zM382.8 26.0h1v1h-1zM370.0 41.0h1v1h-1zM363.9 31.0h1v1h-1zM367.5 28.5h1v1h-1zM377.9 33.3h1v1h-1zM369.6 38.7h1v1h-1zM382.1 42.8h1v1h-1zM365.1 31.8h1v1h-1zM372.6 33.6h1v1h-1zM368.8 32.4h1v1h-1zM373.5 25.0h1v1h-1zM375.8 43.4h1v1h-1zM371.8 31.0h1v1h-1zM363.4 29.2h1v1h-1zM369.6 26.9h1v1h-1zM366.4 27.9h1v1h-1zM358.7 36.8h1v1h-1zM366.6 37.8h1v1h-1zM404.2 56.8h1v1h-1zM390.1 59.9h1v1h-1zM389.3 75.5h1v1h-1zM387.0 66.6h1v1h-1zM393.2 68.6h1v1h-1zM401.1 72.4h1v1h-1zM387.4 69.1h1v1h-1zM400.6 80.3h1v1h-1zM393.1 50.9h1v1h-1zM382.4 68.7h1v1h-1zM394.0 80.4h1v1h-1zM380.4 66.7h1v1h-1zM385.1 75.8h1v1h-1zM385.9 69.6h1v1h-1zM397.7 54.5h1v1h-1zM400.2 83.0h1v1h-1zM386.2 75.3h1v1h-1zM384.0 75.7h1v1h-1zM390.3 76.6h1v1h-1zM391.9 70.7h1v1h-1zM386.2 66.1h1v1h-1zM400.2 70.0h1v1h-1zM384.0 71.6h1v1h-1z"/>
<path fill="#777" d="M387.9 28.1h1v1h-1zM395.5 27.0h1v1h-1zM395.5 24.4h1v1h-1zM390.4 30.6h1v1h-1zM406.1 25.7h1v1h-1zM396.6 21.4h1v1h-1zM395.0 29.8h1v1h-1zM379.3 33.0h1v1h-1zM393.4 28.3h1v1h-1zM380.6 33.7h1v1h-1zM394.5 26.5h1v1h-1zM400.5 24.2h1v1h-1zM388.3 27.8h1v1h-1zM401.6 28.9h1v1h-1zM400.3 26.9h1v1h-1zM384.8 30.0h1v1h-1zM390.1 27.9h1v1h-1zM400.4 26.3h1v1h-1zM385.5 30.2h1v1h-1zM383.7 28.9h1v1h-1zM400.5 24.5h1v1h-1zM386.3 27.6h1v1h-1zM392.2 28.9h1v1h-1zM381.1 26.4h1v1h-1zM395.5 27.2h1v1h-1zM395.3 19.7h1v1h-1zM396.9 28.6h1v1h-1zM402.3 30.6h1v1h-1zM397.4 27.9h1v1h-1zM391.6 23.7h1v1h-1zM397.4 31.1h1v1h-1zM405.2 27.5h1v1h-1zM380.0 25.8h1v1h-1zM393.4 28.0h1v1h-1zM379.7 32.5h1v1h-1zM389.0 24.4h1v1h-1zM392.0 26.9h1v1h-1zM391.7 33.4h1v1h-1zM400.4 30.6h1v1h-1zM384.9 26.5h1v1h-1zM397.8 30.9h1v1h-1zM397.5 30.7h1v1h-1zM360.3 36.8h1v1h-1zM378.9 27.6h1v1h-1zM389.4 19.0h1v1h-1zM375.6 34.4h1v1h-1zM365.3 34.5h1v1h-1zM377.5 19.5h1v1h-1zM366.0 39.0h1v1h-1zM361.4 44.5h1v1h-1zM368.2 36.8h1v1h-1zM387.5 26.6h1v1h-1zM404.9 37.2h1v1h-1zM382.4 36.7h1v1h-1zM394.4 38.0h1v1h-1zM370.8 23.9h1v1h-1zM370.8 46.5h1v1h-1zM403.5 49.2h1v1h-1zM381.1 35.3h1v1h-1zM422.7 60.1h1v1h-1zM419.1 55.5h1v1h-1zM411.3 70.6h1v1h-1zM410.9 67.7h1v1h-1zM423.1 59.2h1v1h-1zM415.2 73.4h1v1h-1zM422.6 43.5h1v1h-1zM405.8 60.1h1v1h-1zM416.2 76.6h1v1h-1zM419.6 46.0h1v1h-1zM405.8 74.2h1v1h-1zM413.8 65.8h1v1h-1zM410.8 80.3h1v1h-1zM409.6 72.7h1v1h-1zM411.2 71.2h1v1h-1zM415.2 76.2h1v1h-1zM412.9 67.6h1v1h-1zM416.9 77.7h1v1h-1zM414.0 64.4h1v1h-1zM417.6 62.0h1v1h-1zM412.3 69.4h1v1h-1zM408.3 83.3h1v1h-1zM417.9 72.0h1v1h-1zM418.9 56.1h1v1h-1zM408.9 74.7h1v1h-1zM414.5 82.6h1v1h-1zM413.1 65.8h1v1h-1zM419.1 70.4h1v1h-1zM407.3 70.1h1v1h-1zM422.9 55.3h1v1h-1zM411.4 78.6h1v1h-1zM419.1 66.9h1v1h-1zM412.2 67.0h1v1h-1zM418.5 58.4h1v1h-1zM401.0 77.3h1v1h-1zM411.6 78.0h1v1h-1zM419.9 69.6h1v1h-1zM410.7 58.0h1v1h-1zM416.2 73.3h1v1h-1zM412.9 69.7h1v1h-1zM410.1 79.9h1v1h-1zM411.4 65.3h1v1h-1zM413.8 64.1h1v1h-1zM416.8 62.8h1v1h-1zM416.3 57.4h1v1h-1zM412.8 74.3h1v1h-1zM410.3 74.6h1v1h-1zM410.9 80.2h1v1h-1zM417.2 62.1h1v1h-1zM416.1 63.6h1v1h-1zM420.7 55.7h1v1h-1zM420.1 66.1h1v1h-1zM407.3 72.8h1v1h-1zM427.9 47.1h1v1h-1zM413.2 72.3h1v1h-1zM422.5 58.1h1v1h-1zM416.8 67.8h1v1h-1zM417.3 73.3h1v1h-1zM412.5 72.4h1v1h-1zM412.1 78.9h1v1h-1zM412.5 74.6h1v1h-1zM414.2 75.0h1v1h-1zM409.9 70.5h1v1h-1zM419.0 60.6h1v1h-1zM416.0 70.8h1v1h-1zM410.6 64.6h1v1h-1zM414.3 78.3h1v1h-1zM414.7 52.0h1v1h-1zM416.1 66.3h1v1h-1zM421.0 64.2h1v1h-1zM413.1 53.8h1v1h-1zM420.6 55.3h1v1h-1zM420.9 57.2h1v1h-1zM424.6 67.6h1v1h-1zM415.7 68.8h1v1h-1zM414.5 72.9h1v1h-1zM422.2 55.9h1v1h-1zM411.9 76.6h1v1h-1zM419.7 59.9h1v1h-1zM414.7 70.3h1v1h-1zM411.9 65.5h1v1h-1zM412.2 76.3h1v1h-1zM409.4 64.4h1v1h-1zM408.8 63.5h1v1h-1zM429.2 49.6h1v1h-1zM413.3 62.4h1v1h-1zM404.0 74.2h1v1h-1zM405.9 68.9h1v1h-1zM413.5 75.7h1v1h-1zM417.0 73.2h1v1h-1zM421.9 58.3h1v1h-1zM420.2 50.0h1v1h-1zM420.9 54.4h1v1h-1zM418.1 65.4h1v1h-1zM415.5 67.9h1v1h-1zM412.7 68.9h1v1h-1zM407.8 74.4h1v1h-1zM424.6 45.9h1v1h-1zM412.6 60.5h1v1h-1zM416.6 69.4h1v1h-1zM419.2 59.0h1v1h-1zM419.5 62.4h1v1h-1zM419.8 57.5h1v1h-1zM420.2 53.3h1v1h-1zM414.3 76.7h1v1h-1zM416.9 73.7h1v1h-1zM407.2 66.0h1v1h-1zM418.1 54.7h1v1h-1zM411.7 76.1h1v1h-1zM413.9 65.9h1v1h-1zM410.2 77.0h1v1h-1zM423.9 66.1h1v1h-1zM415.6 60.8h1v1h-1zM420.1 69.0h1v1h-1zM418.6 53.9h1v1h-1zM426.7 61.4h1v1h-1zM409.2 71.0h1v1h-1zM410.3 59.2h1v1h-1zM417.1 47.5h1v1h-1zM405.6 65.2h1v1h-1zM422.3 46.9h1v1h-1zM412.4 57.4h1v1h-1zM420.9 64.7h1v1h-1zM421.5 64.1h1v1h-1zM418.9 53.8h1v1h-1zM413.7 89.6h1v1h-1zM409.9 57.7h1v1h-1zM429.7 77.9h1v1h-1zM411.9 58.8h1v1h-1zM413.8 89.9h1v1h-1zM408.9 86.5h1v1h-1zM427.2 76.9h1v1h-1zM415.2 76.8h1v1h-1zM378.9 83.0h1v1h-1zM374.8 82.4h1v1h-1zM384.9 53.4h1v1h-1zM378.8 85.0h1v1h-1zM400.0 73.4h1v1h-1zM404.6 75.0h1v1h-1zM372.8 55.4h1v1h-1zM360.2 83.4h1v1h-1zM383.6 76.1h1v1h-1zM374.8 68.7h1v1h-1zM366.7 83.2h1v1h-1zM398.0 88.7h1v1h-1zM391.2 89.8h1v1h-1zM359.3 61.2h1v1h-1zM361.1 76.4h1v1h-1zM405.7 86.6h1v1h-1zM357.1 91.0h1v1h-1zM421.5 27.8h1v1h-1zM421.0 27.7h1v1h-1z"/>
<path fill="#666" d="M378.1 26.9h1v1h-1zM382.0 37.1h1v1h-1zM383.2 37.4h1v1h-1zM389.9 24.4h1v1h-1zM381.0 24.8h1v1h-1zM403.6 25.6h1v1h-1zM383.5 21.6h1v1h-1zM395.6 23.7h1v1h-1zM391.3 29.3h1v1h-1zM381.3 32.0h1v1h-1zM396.9 29.7h1v1h-1zM395.2 29.1h1v1h-1zM385.5 31.0h1v1h-1zM392.3 38.8h1v1h-1zM382.9 23.0h1v1h-1zM387.2 26.0h1v1h-1zM380.4 27.4h1v1h-1zM404.3 29.2h1v1h-1zM390.6 29.9h1v1h-1zM383.1 22.6h1v1h-1zM382.7 33.8h1v1h-1zM401.8 28.7h1v1h-1zM392.2 27.0h1v1h-1zM386.5 18.2h1v1h-1zM383.4 32.5h1v1h-1zM398.7 28.6h1v1h-1zM395.8 25.8h1v1h-1zM386.2 23.3h1v1h-1zM383.5 34.6h1v1h-1zM393.8 38.7h1v1h-1zM388.5 25.2h1v1h-1zM399.0 31.2h1v1h-1zM388.9 32.4h1v1h-1zM373.5 36.6h1v1h-1zM395.6 30.5h1v1h-1zM377.7 26.9h1v1h-1zM391.6 27.6h1v1h-1zM387.8 31.2h1v1h-1zM393.2 36.5h1v1h-1zM388.0 27.3h1v1h-1zM390.2 22.7h1v1h-1zM383.1 25.1h1v1h-1zM378.9 38.8h1v1h-1zM377.5 30.1h1v1h-1zM382.4 34.3h1v1h-1zM381.5 21.0h1v1h-1zM408.4 36.4h1v1h-1zM391.1 32.4h1v1h-1zM378.9 28.3h1v1h-1zM390.7 22.9h1v1h-1zM381.6 25.9h1v1h-1zM389.5 43.5h1v1h-1zM384.8 17.6h1v1h-1zM376.8 27.4h1v1h-1zM384.7 30.4h1v1h-1zM391.1 30.3h1v1h-1zM390.9 35.9h1v1h-1zM390.1 41.1h1v1h-1zM373.3 29.0h1v1h-1zM381.3 25.9h1v1h-1zM395.7 26.8h1v1h-1zM381.3 28.5h1v1h-1zM387.7 24.7h1v1h-1zM402.5 30.9h1v1h-1zM394.6 27.8h1v1h-1zM377.1 29.8h1v1h-1zM373.2 24.7h1v1h-1zM384.5 32.1h1v1h-1zM377.4 35.1h1v1h-1zM395.5 33.1h1v1h-1zM393.2 31.5h1v1h-1zM396.5 36.5h1v1h-1zM389.1 24.6h1v1h-1zM372.8 41.3h1v1h-1zM391.3 25.1h1v1h-1zM378.8 25.9h1v1h-1zM391.1 37.1h1v1h-1zM382.6 30.1h1v1h-1zM386.2 34.5h1v1h-1zM384.7 34.4h1v1h-1zM381.0 23.9h1v1h-1zM380.7 36.8h1v1h-1zM385.1 28.3h1v1h-1zM387.1 27.9h1v1h-1zM381.0 29.1h1v1h-1zM394.2 31.4h1v1h-1zM391.2 22.7h1v1h-1zM414.2 26.8h1v1h-1zM375.0 22.0h1v1h-1zM372.6 25.8h1v1h-1zM377.7 34.2h1v1h-1zM375.6 27.2h1v1h-1zM388.1 27.6h1v1h-1zM392.1 30.6h1v1h-1zM401.0 37.6h1v1h-1zM390.3 33.9h1v1h-1zM400.2 34.3h1v1h-1zM368.7 22.2h1v1h-1zM385.2 28.5h1v1h-1zM378.6 29.4h1v1h-1zM411.5 30.2h1v1h-1zM368.5 33.7h1v1h-1zM380.6 27.6h1v1h-1zM398.1 31.4h1v1h-1zM374.6 24.1h1v1h-1zM397.3 28.1h1v1h-1zM398.9 24.9h1v1h-1zM377.4 36.4h1v1h-1zM376.6 28.4h1v1h-1zM388.6 29.9h1v1h-1zM364.9 33.0h1v1h-1zM378.9 29.8h1v1h-1zM359.1 29.0h1v1h-1zM377.9 34.2h1v1h-1zM369.9 33.9h1v1h-1zM365.6 34.7h1v1h-1zM373.2 36.3h1v1h-1zM365.4 44.2h1v1h-1zM380.6 33.5h1v1h-1zM370.3 32.2h1v1h-1zM368.4 37.1h1v1h-1zM368.5 33.3h1v1h-1zM370.1 32.4h1v1h-1zM368.4 30.2h1v1h-1zM374.0 34.4h1v1h-1zM379.9 34.2h1v1h-1zM373.4 26.3h1v1h-1zM363.2 36.7h1v1h-1zM358.5 42.1h1v1h-1zM370.3 32.5h1v1h-1zM387.6 37.9h1v1h-1zM374.9 34.3h1v1h-1zM388.8 28.5h1v1h-1zM372.9 28.0h1v1h-1zM377.1 31.4h1v1h-1zM385.8 41.4h1v1h-1zM360.8 38.1h1v1h-1zM371.6 34.5h1v1h-1zM382.0 28.8h1v1h-1zM382.2 37.2h1v1h-1zM366.8 24.8h1v1h-1zM359.5 41.4h1v1h-1zM378.9 38.3h1v1h-1zM382.5 33.3h1v1h-1zM362.4 29.7h1v1h-1zM371.1 30.5h1v1h-1zM373.9 30.1h1v1h-1zM390.6 58.7h1v1h-1zM380.9 54.3h1v1h-1zM363.9 65.2h1v1h-1zM400.0 67.9h1v1h-1zM393.5 78.9h1v1h-1zM384.8 53.9h1v1h-1zM388.5 62.4h1v1h-1zM406.1 72.5h1v1h-1zM394.8 65.4h1v1h-1zM382.7 82.6h1v1h-1zM404.7 70.7h1v1h-1zM380.6 71.8h1v1h-1zM386.6 83.1h1v1h-1zM403.5 71.2h1v1h-1zM391.9 67.6h1v1h-1zM397.7 83.4h1v1h-1zM401.0 62.5h1v1h-1zM392.5 74.1h1v1h-1zM405.1 77.4h1v1h-1zM405.9 57.4h1v1h-1zM389.0 81.3h1v1h-1zM400.0 73.5h1v1h-1z"/>
<path fill="#555" d="M382.8 20.3h1v1h-1zM401.4 33.5h1v1h-1zM380.4 31.2h1v1h-1zM398.7 23.8h1v1h-1zM398.4 33.1h1v1h-1zM402.1 32.1h1v1h-1zM391.9 32.0h1v1h-1zM391.3 32.5h1v1h-1zM404.6 27.0h1v1h-1zM386.5 28.2h1v1h-1zM395.0 23.1h1v1h-1zM397.7 24.4h1v1h-1zM388.3 26.6h1v1h-1zM380.1 27.6h1v1h-1zM393.8 33.2h1v1h-1zM390.1 25.0h1v1h-1zM381.8 32.6h1v1h-1zM394.1 28.4h1v1h-1zM380.7 31.0h1v1h-1zM389.5 24.7h1v1h-1zM393.2 25.3h1v1h-1zM394.8 29.5h1v1h-1zM385.0 27.1h1v1h-1zM397.1 33.6h1v1h-1zM391.8 30.1h1v1h-1zM400.3 25.0h1v1h-1zM379.5 34.0h1v1h-1zM380.7 27.8h1v1h-1zM379.8 25.6h1v1h-1zM387.8 26.5h1v1h-1zM393.2 29.2h1v1h-1zM412.2 28.9h1v1h-1zM385.0 29.8h1v1h-1zM393.4 27.4h1v1h-1zM392.2 29.2h1v1h-1zM391.7 33.3h1v1h-1zM391.2 27.9h1v1h-1zM390.1 21.0h1v1h-1zM381.9 31.4h1v1h-1zM392.3 29.8h1v1h-1zM374.6 35.1h1v1h-1zM386.3 29.2h1v1h-1zM395.7 34.2h1v1h-1zM383.2 37.1h1v1h-1zM361.7 28.5h1v1h-1zM392.6 27.2h1v1h-1zM395.5 40.4h1v1h-1zM373.2 32.2h1v1h-1zM403.7 40.6h1v1h-1zM388.4 43.0h1v1h-1zM375.5 50.0h1v1h-1zM361.3 37.6h1v1h-1zM384.2 46.1h1v1h-1zM403.2 24.7h1v1h-1zM373.3 19.2h1v1h-1zM388.5 31.8h1v1h-1zM372.2 39.5h1v1h-1zM382.1 49.4h1v1h-1zM392.6 27.0h1v1h-1zM416.6 60.4h1v1h-1zM416.2 53.1h1v1h-1zM420.3 61.8h1v1h-1zM414.2 74.1h1v1h-1zM417.4 57.7h1v1h-1zM406.6 90.1h1v1h-1zM418.4 55.8h1v1h-1zM418.8 57.2h1v1h-1zM412.0 69.8h1v1h-1zM427.0 67.9h1v1h-1zM413.4 89.4h1v1h-1zM410.0 82.8h1v1h-1zM410.0 74.1h1v1h-1zM423.5 56.5h1v1h-1zM415.5 48.3h1v1h-1zM413.0 61.8h1v1h-1zM421.4 56.9h1v1h-1zM420.7 45.3h1v1h-1zM416.6 51.5h1v1h-1zM425.1 38.5h1v1h-1zM414.6 58.2h1v1h-1zM415.6 75.9h1v1h-1zM419.5 60.9h1v1h-1zM407.7 60.6h1v1h-1zM418.6 72.5h1v1h-1zM415.8 74.8h1v1h-1zM418.3 69.7h1v1h-1zM410.7 64.7h1v1h-1zM416.6 71.2h1v1h-1zM417.3 69.8h1v1h-1zM417.8 75.1h1v1h-1zM409.9 59.1h1v1h-1zM412.3 67.6h1v1h-1zM412.3 58.1h1v1h-1zM417.4 45.6h1v1h-1zM408.7 78.7h1v1h-1zM416.2 60.1h1v1h-1zM416.7 61.5h1v1h-1zM410.6 59.4h1v1h-1zM404.4 78.5h1v1h-1zM425.8 47.0h1v1h-1zM406.3 79.8h1v1h-1zM416.3 65.4h1v1h-1zM413.3 69.6h1v1h-1zM424.4 61.2h1v1h-1zM410.2 90.9h1v1h-1zM413.7 78.2h1v1h-1zM420.7 69.5h1v1h-1zM413.5 64.2h1v1h-1zM421.7 57.0h1v1h-1zM407.3 83.4h1v1h-1zM417.2 64.1h1v1h-1zM413.9 60.3h1v1h-1zM412.5 71.1h1v1h-1zM418.8 64.4h1v1h-1zM419.6 51.4h1v1h-1zM416.7 69.8h1v1h-1zM421.9 62.5h1v1h-1zM414.3 74.7h1v1h-1zM426.3 44.4h1v1h-1zM410.8 86.0h1v1h-1zM420.0 52.2h1v1h-1zM412.5 79.4h1v1h-1zM424.6 52.0h1v1h-1zM410.9 76.2h1v1h-1zM417.5 58.6h1v1h-1zM419.5 82.6h1v1h-1zM409.2 56.0h1v1h-1zM411.3 58.0h1v1h-1zM416.8 74.9h1v1h-1zM413.5 57.8h1v1h-1zM418.2 58.0h1v1h-1zM416.7 55.9h1v1h-1zM413.8 71.9h1v1h-1zM417.1 59.2h1v1h-1zM415.2 65.7h1v1h-1zM419.6 76.8h1v1h-1zM410.1 71.4h1v1h-1zM415.0 65.8h1v1h-1zM406.8 80.5h1v1h-1zM408.8 72.3h1v1h-1zM418.3 67.6h1v1h-1zM415.3 64.6h1v1h-1zM420.0 70.1h1v1h-1zM417.0 69.2h1v1h-1zM412.9 55.8h1v1h-1zM411.6 82.6h1v1h-1zM415.3 56.8h1v1h-1zM409.6 61.0h1v1h-1zM409.5 65.6h1v1h-1zM417.8 52.2h1v1h-1zM416.0 73.4h1v1h-1zM412.5 75.3h1v1h-1zM414.5 61.8h1v1h-1zM409.0 75.2h1v1h-1zM424.8 45.2h1v1h-1zM415.8 63.7h1v1h-1zM416.2 68.1h1v1h-1zM415.5 60.9h1v1h-1zM413.8 49.6h1v1h-1zM413.4 70.9h1v1h-1zM414.0 74.7h1v1h-1zM420.2 52.1h1v1h-1zM415.9 69.6h1v1h-1zM410.9 86.6h1v1h-1zM399.3 81.1h1v1h-1zM417.8 58.9h1v1h-1zM415.7 61.6h1v1h-1zM411.2 59.9h1v1h-1zM414.3 59.0h1v1h-1zM412.6 54.7h1v1h-1zM411.9 78.1h1v1h-1zM412.3 72.7h1v1h-1zM420.8 56.0h1v1h-1zM409.9 77.2h1v1h-1zM414.7 75.7h1v1h-1zM414.5 68.5h1v1h-1zM414.4 69.3h1v1h-1zM417.4 55.1h1v1h-1zM416.0 75.9h1v1h-1zM411.5 61.3h1v1h-1zM409.2 63.6h1v1h-1zM417.2 68.8h1v1h-1zM416.4 58.6h1v1h-1zM419.4 63.4h1v1h-1zM408.9 86.7h1v1h-1zM416.4 83.1h1v1h-1zM431.3 80.4h1v1h-1zM415.8 75.5h1v1h-1zM427.9 75.3h1v1h-1zM408.4 56.4h1v1h-1zM420.2 77.9h1v1h-1zM386.4 75.1h1v1h-1zM355.7 80.7h1v1h-1zM398.6 85.6h1v1h-1zM388.4 73.3h1v1h-1zM374.9 73.0h1v1h-1zM374.3 87.5h1v1h-1zM358.4 67.9h1v1h-1zM383.6 83.2h1v1h-1zM399.8 66.4h1v1h-1zM398.2 73.2h1v1h-1zM390.8 73.3h1v1h-1zM359.5 65.3h1v1h-1zM363.6 64.7h1v1h-1zM360.5 72.8h1v1h-1zM403.4 82.9h1v1h-1zM383.4 64.9h1v1h-1zM411.1 29.8h1v1h-1zM415.0 40.0h1v1h-1z"/>
<path fill="#444" d="M383.6 24.6h1v1h-1zM375.0 29.5h1v1h-1zM397.4 30.1h1v1h-1zM401.1 33.6h1v1h-1zM395.9 29.7h1v1h-1zM385.4 32.0h1v1h-1zM401.4 31.1h1v1h-1zM385.3 27.7h1v1h-1zM380.0 25.7h1v1h-1zM391.0 25.2h1v1h-1zM379.3 35.2h1v1h-1zM408.1 24.6h1v1h-1zM397.6 24.8h1v1h-1zM387.8 30.6h1v1h-1zM407.6 27.4h1v1h-1zM393.8 30.7h1v1h-1zM390.0 37.9h1v1h-1zM375.3 33.7h1v1h-1zM384.5 21.7h1v1h-1zM392.6 27.3h1v1h-1zM381.0 31.9h1v1h-1zM369.3 27.3h1v1h-1zM368.4 32.0h1v1h-1zM382.3 31.6h1v1h-1zM379.6 31.9h1v1h-1zM371.9 26.3h1v1h-1zM394.2 31.2h1v1h-1zM388.5 19.5h1v1h-1zM407.1 33.9h1v1h-1zM379.0 27.0h1v1h-1zM418.8 23.6h1v1h-1zM388.1 34.7h1v1h-1zM390.2 32.8h1v1h-1zM407.8 30.8h1v1h-1zM393.0 36.1h1v1h-1zM390.8 33.3h1v1h-1zM367.7 28.8h1v1h-1zM374.4 33.2h1v1h-1zM397.9 36.1h1v1h-1zM391.8 25.1h1v1h-1zM400.4 28.4h1v1h-1zM397.7 32.3h1v1h-1zM375.4 34.6h1v1h-1zM376.1 30.8h1v1h-1zM394.5 37.4h1v1h-1zM412.8 19.2h1v1h-1zM430.4 31.7h1v1h-1zM407.1 30.8h1v1h-1zM392.5 32.6h1v1h-1zM396.4 30.5h1v1h-1zM371.5 31.3h1v1h-1zM379.5 26.6h1v1h-1zM386.2 34.6h1v1h-1zM388.1 23.1h1v1h-1zM382.2 32.4h1v1h-1zM382.0 29.2h1v1h-1zM383.7 33.6h1v1h-1zM386.4 23.7h1v1h-1zM383.6 36.5h1v1h-1zM385.5 36.4h1v1h-1zM369.8 33.0h1v1h-1zM383.3 26.9h1v1h-1zM372.3 30.2h1v1h-1zM403.1 23.1h1v1h-1zM388.6 36.7h1v1h-1zM395.0 39.1h1v1h-1zM393.0 32.6h1v1h-1zM394.3 27.3h1v1h-1zM388.6 34.3h1v1h-1zM388.7 29.6h1v1h-1zM399.8 30.4h1v1h-1zM400.5 25.8h1v1h-1zM385.6 28.4h1v1h-1zM397.8 27.0h1v1h-1zM377.4 27.0h1v1h-1zM392.9 24.7h1v1h-1zM385.5 31.4h1v1h-1zM388.5 37.0h1v1h-1zM391.4 25.8h1v1h-1zM398.0 28.2h1v1h-1zM368.5 28.0h1v1h-1zM384.7 28.6h1v1h-1zM374.5 27.5h1v1h-1zM405.5 29.2h1v1h-1zM394.7 33.3h1v1h-1zM379.4 26.0h1v1h-1zM402.4 26.7h1v1h-1zM375.2 28.3h1v1h-1zM391.1 38.0h1v1h-1zM392.5 35.2h1v1h-1zM393.8 27.8h1v1h-1zM386.8 37.8h1v1h-1zM379.2 27.2h1v1h-1zM388.7 37.1h1v1h-1zM394.9 25.9h1v1h-1zM371.5 27.7h1v1h-1zM405.1 26.6h1v1h-1zM382.7 25.2h1v1h-1zM391.6 24.6h1v1h-1zM393.4 30.6h1v1h-1zM379.1 32.9h1v1h-1zM404.3 29.8h1v1h-1zM401.6 29.7h1v1h-1zM383.5 30.1h1v1h-1zM376.3 27.1h1v1h-1zM377.4 28.5h1v1h-1zM393.8 32.1h1v1h-1zM399.8 33.9h1v1h-1zM390.9 25.6h1v1h-1zM394.8 23.0h1v1h-1zM377.9 26.8h1v1h-1zM375.9 25.5h1v1h-1zM368.5 30.0h1v1h-1zM379.6 25.2h1v1h-1zM377.9 29.8h1v1h-1zM371.3 29.1h1v1h-1zM365.6 37.2h1v1h-1zM370.9 29.6h1v1h-1zM375.2 29.9h1v1h-1zM374.9 33.2h1v1h-1zM372.0 32.3h1v1h-1zM365.6 36.0h1v1h-1zM375.4 28.8h1v1h-1zM385.2 34.0h1v1h-1zM374.5 29.8h1v1h-1zM353.0 30.0h1v1h-1zM358.2 44.1h1v1h-1zM376.2 33.1h1v1h-1zM372.5 27.2h1v1h-1zM384.3 33.9h1v1h-1zM373.1 22.7h1v1h-1zM365.2 33.3h1v1h-1zM378.3 32.4h1v1h-1zM366.3 40.6h1v1h-1zM362.8 40.7h1v1h-1zM376.5 34.0h1v1h-1zM370.4 30.7h1v1h-1zM382.6 29.8h1v1h-1zM377.7 33.0h1v1h-1zM371.1 29.0h1v1h-1zM382.9 37.1h1v1h-1zM367.1 31.4h1v1h-1zM376.3 23.8h1v1h-1zM368.4 22.5h1v1h-1zM376.3 41.5h1v1h-1zM373.2 45.8h1v1h-1zM359.7 37.3h1v1h-1zM392.9 66.0h1v1h-1zM396.7 70.1h1v1h-1zM398.1 69.1h1v1h-1zM382.6 65.7h1v1h-1zM395.3 66.0h1v1h-1zM405.7 71.7h1v1h-1zM397.2 79.4h1v1h-1zM389.3 72.7h1v1h-1zM405.6 75.5h1v1h-1zM392.7 79.5h1v1h-1zM384.9 72.8h1v1h-1zM398.5 57.0h1v1h-1zM383.0 53.1h1v1h-1zM395.9 61.1h1v1h-1zM377.9 44.8h1v1h-1zM391.4 67.2h1v1h-1zM391.4 66.6h1v1h-1zM393.4 67.3h1v1h-1zM397.4 83.0h1v1h-1zM391.7 74.7h1v1h-1zM384.7 58.3h1v1h-1zM394.0 54.7h1v1h-1zM392.0 65.0h1v1h-1z"/>
<path fill="#333" d="M378.0 30.0h1v1h-1zM404.4 33.9h1v1h-1zM394.6 28.1h1v1h-1zM391.9 31.6h1v1h-1zM377.6 28.7h1v1h-1zM399.2 24.3h1v1h-1zM381.6 28.1h1v1h-1zM391.7 31.4h1v1h-1zM393.4 31.8h1v1h-1zM391.4 28.0h1v1h-1zM385.8 24.9h1v1h-1zM393.1 35.3h1v1h-1zM386.2 33.4h1v1h-1zM382.9 30.9h1v1h-1zM385.4 26.8h1v1h-1zM378.3 27.3h1v1h-1zM387.5 29.1h1v1h-1zM384.8 32.8h1v1h-1zM385.5 31.4h1v1h-1zM387.7 28.7h1v1h-1zM391.8 30.5h1v1h-1zM376.3 29.6h1v1h-1zM396.5 26.4h1v1h-1zM382.0 19.3h1v1h-1zM397.3 33.1h1v1h-1zM399.9 27.3h1v1h-1zM388.7 29.3h1v1h-1zM403.3 29.4h1v1h-1zM393.1 30.7h1v1h-1zM389.8 29.5h1v1h-1zM391.4 32.5h1v1h-1zM384.6 29.3h1v1h-1zM395.5 25.7h1v1h-1zM385.3 24.9h1v1h-1zM376.9 29.1h1v1h-1zM379.9 30.3h1v1h-1zM395.5 25.0h1v1h-1zM387.7 29.2h1v1h-1zM395.8 27.1h1v1h-1zM392.0 29.6h1v1h-1zM373.5 29.1h1v1h-1zM390.6 28.7h1v1h-1zM392.3 26.5h1v1h-1zM420.6 73.2h1v1h-1zM411.8 57.3h1v1h-1zM410.6 69.5h1v1h-1zM408.3 74.0h1v1h-1zM404.2 80.8h1v1h-1zM419.7 71.7h1v1h-1zM410.3 64.8h1v1h-1zM416.7 66.4h1v1h-1zM423.7 61.1h1v1h-1zM411.8 66.4h1v1h-1zM422.3 51.4h1v1h-1zM413.0 50.2h1v1h-1zM420.1 72.9h1v1h-1zM414.0 79.6h1v1h-1zM414.4 74.6h1v1h-1zM411.9 68.5h1v1h-1zM426.0 62.0h1v1h-1zM417.1 79.2h1v1h-1zM413.4 77.8h1v1h-1zM405.7 71.4h1v1h-1zM408.1 82.9h1v1h-1zM407.8 74.0h1v1h-1zM420.5 62.6h1v1h-1zM414.3 66.9h1v1h-1zM408.1 73.3h1v1h-1zM415.8 79.4h1v1h-1zM423.0 58.4h1v1h-1zM423.9 55.4h1v1h-1zM421.1 63.3h1v1h-1zM420.0 68.1h1v1h-1zM411.5 70.0h1v1h-1zM419.7 71.6h1v1h-1zM413.0 65.3h1v1h-1zM419.3 56.1h1v1h-1zM424.4 70.9h1v1h-1zM419.4 58.2h1v1h-1zM412.2 68.0h1v1h-1zM420.0 69.5h1v1h-1zM407.6 82.0h1v1h-1zM416.5 74.9h1v1h-1zM415.5 62.4h1v1h-1zM412.6 69.0h1v1h-1zM410.5 70.2h1v1h-1zM411.2 65.0h1v1h-1zM414.3 67.0h1v1h-1zM416.8 64.2h1v1h-1zM418.4 71.7h1v1h-1zM407.5 89.4h1v1h-1zM419.1 63.9h1v1h-1zM413.8 72.3h1v1h-1zM415.6 58.1h1v1h-1zM415.4 54.0h1v1h-1zM413.9 72.3h1v1h-1zM408.1 79.8h1v1h-1zM411.1 61.8h1v1h-1zM420.4 61.9h1v1h-1zM415.9 60.3h1v1h-1zM416.7 61.6h1v1h-1zM415.5 62.8h1v1h-1zM418.7 58.3h1v1h-1zM419.6 67.5h1v1h-1zM419.6 68.6h1v1h-1zM417.4 71.4h1v1h-1zM424.4 48.8h1v1h-1zM419.1 61.4h1v1h-1zM416.3 59.3h1v1h-1zM420.5 59.5h1v1h-1zM420.4 58.5h1v1h-1zM413.9 67.4h1v1h-1zM408.9 62.1h1v1h-1zM418.0 56.2h1v1h-1zM431.4 47.0h1v1h-1zM419.8 66.1h1v1h-1zM419.0 61.1h1v1h-1zM419.8 51.6h1v1h-1zM425.4 46.7h1v1h-1zM418.3 66.4h1v1h-1zM412.8 67.2h1v1h-1zM425.8 49.8h1v1h-1zM420.9 63.8h1v1h-1zM424.5 58.9h1v1h-1zM419.0 58.8h1v1h-1zM410.9 75.5h1v1h-1zM405.0 63.2h1v1h-1zM425.6 54.5h1v1h-1zM405.8 70.9h1v1h-1zM423.4 71.5h1v1h-1zM410.6 62.3h1v1h-1zM411.7 67.3h1v1h-1zM422.4 72.4h1v1h-1zM413.4 73.4h1v1h-1zM408.3 61.4h1v1h-1zM413.3 73.5h1v1h-1zM413.9 60.8h1v1h-1zM421.2 69.9h1v1h-1zM412.2 58.3h1v1h-1zM411.3 66.9h1v1h-1zM413.1 71.3h1v1h-1zM415.2 87.7h1v1h-1zM413.0 84.0h1v1h-1zM422.0 52.2h1v1h-1zM409.9 64.4h1v1h-1zM422.6 67.2h1v1h-1zM417.9 61.3h1v1h-1zM429.0 69.6h1v1h-1zM416.5 62.3h1v1h-1zM417.4 62.9h1v1h-1zM422.9 55.6h1v1h-1zM426.9 40.9h1v1h-1zM414.3 85.0h1v1h-1zM418.3 54.5h1v1h-1zM417.1 67.7h1v1h-1zM409.2 56.7h1v1h-1zM422.3 48.3h1v1h-1zM419.5 62.8h1v1h-1zM419.3 73.5h1v1h-1zM415.2 66.6h1v1h-1zM420.7 58.8h1v1h-1zM417.1 57.6h1v1h-1zM412.8 65.0h1v1h-1zM420.6 64.6h1v1h-1zM405.0 71.8h1v1h-1zM416.3 65.1h1v1h-1zM416.6 71.1h1v1h-1z"/>
<path fill="#111" d="M399.9 27.2h1v1h-1zM397.9 32.2h1v1h-1zM393.5 31.4h1v1h-1zM400.0 33.8h1v1h-1zM389.8 25.3h1v1h-1zM387.4 31.5h1v1h-1zM389.3 28.9h1v1h-1zM391.4 32.8h1v1h-1zM394.4 23.3h1v1h-1zM396.3 35.4h1v1h-1zM390.1 29.8h1v1h-1zM393.4 24.6h1v1h-1zM404.1 24.8h1v1h-1zM388.9 26.4h1v1h-1zM386.9 31.3h1v1h-1zM379.5 25.7h1v1h-1zM389.7 26.5h1v1h-1zM397.5 28.9h1v1h-1zM403.3 30.7h1v1h-1zM396.6 22.7h1v1h-1zM397.5 34.2h1v1h-1zM381.3 29.1h1v1h-1zM391.5 28.9h1v1h-1zM394.6 31.9h1v1h-1zM401.7 30.8h1v1h-1zM384.3 31.2h1v1h-1zM395.5 29.8h1v1h-1zM388.9 30.7h1v1h-1zM395.0 35.4h1v1h-1zM375.7 33.3h1v1h-1zM382.8 32.8h1v1h-1zM397.0 28.8h1v1h-1zM397.2 26.6h1v1h-1zM406.7 27.2h1v1h-1zM392.0 28.5h1v1h-1zM393.2 25.5h1v1h-1zM385.9 28.5h1v1h-1zM394.6 30.7h1v1h-1zM395.5 30.0h1v1h-1zM396.6 27.5h1v1h-1zM387.1 24.9h1v1h-1zM384.3 21.4h1v1h-1zM407.4 80.9h1v1h-1zM414.1 64.6h1v1h-1zM421.0 59.9h1v1h-1zM414.6 68.0h1v1h-1zM407.2 71.5h1v1h-1zM421.3 67.4h1v1h-1zM419.6 57.0h1v1h-1zM412.3 74.3h1v1h-1zM412.8 69.5h1v1h-1zM427.3 51.5h1v1h-1zM411.0 62.8h1v1h-1zM419.0 69.5h1v1h-1zM407.8 77.8h1v1h-1zM422.7 54.4h1v1h-1zM428.5 46.0h1v1h-1zM412.7 69.9h1v1h-1zM415.1 75.6h1v1h-1zM427.5 48.3h1v1h-1zM407.9 76.7h1v1h-1zM411.2 74.5h1v1h-1zM420.9 57.8h1v1h-1zM418.4 73.5h1v1h-1zM417.2 60.9h1v1h-1zM416.3 62.6h1v1h-1zM412.9 62.4h1v1h-1zM408.3 69.4h1v1h-1zM416.9 77.7h1v1h-1zM415.5 76.6h1v1h-1zM419.3 76.9h1v1h-1zM418.1 68.6h1v1h-1zM412.9 75.4h1v1h-1zM409.4 68.2h1v1h-1zM408.6 82.8h1v1h-1zM423.8 61.5h1v1h-1zM404.6 76.6h1v1h-1zM417.3 61.6h1v1h-1zM406.1 82.6h1v1h-1zM419.6 47.9h1v1h-1zM415.7 65.3h1v1h-1zM407.4 82.3h1v1h-1zM414.6 65.0h1v1h-1zM425.1 69.6h1v1h-1zM419.3 65.5h1v1h-1zM415.1 58.9h1v1h-1zM416.5 62.0h1v1h-1zM413.5 75.0h1v1h-1zM422.5 75.2h1v1h-1zM411.2 69.5h1v1h-1zM418.3 59.6h1v1h-1zM421.1 63.4h1v1h-1zM413.0 65.7h1v1h-1zM418.3 71.6h1v1h-1zM414.4 68.7h1v1h-1zM419.0 53.1h1v1h-1zM422.7 64.1h1v1h-1zM421.4 76.2h1v1h-1zM415.3 65.7h1v1h-1zM404.2 73.4h1v1h-1zM420.1 69.3h1v1h-1zM410.8 71.7h1v1h-1zM420.6 66.2h1v1h-1zM415.7 68.8h1v1h-1zM413.1 64.3h1v1h-1zM419.2 73.4h1v1h-1zM414.0 74.4h1v1h-1zM409.5 75.3h1v1h-1zM416.5 80.7h1v1h-1zM412.6 69.7h1v1h-1zM417.1 73.2h1v1h-1zM421.4 75.1h1v1h-1zM417.8 68.7h1v1h-1zM414.1 62.0h1v1h-1zM421.1 53.6h1v1h-1zM421.7 54.2h1v1h-1zM416.7 60.8h1v1h-1zM418.3 71.9h1v1h-1zM415.6 77.4h1v1h-1zM415.8 67.1h1v1h-1zM416.5 60.8h1v1h-1zM425.9 63.4h1v1h-1zM410.6 74.3h1v1h-1zM416.3 60.9h1v1h-1zM423.9 61.5h1v1h-1zM409.8 72.5h1v1h-1zM411.0 68.8h1v1h-1zM408.7 71.8h1v1h-1zM422.0 57.4h1v1h-1zM417.2 58.0h1v1h-1zM415.5 62.7h1v1h-1zM416.2 69.8h1v1h-1zM414.9 76.3h1v1h-1zM420.6 54.6h1v1h-1zM411.9 71.6h1v1h-1zM413.8 73.0h1v1h-1zM415.8 65.2h1v1h-1zM414.9 64.6h1v1h-1zM412.2 69.5h1v1h-1zM406.0 60.6h1v1h-1zM415.3 61.3h1v1h-1zM413.9 58.2h1v1h-1zM412.2 69.9h1v1h-1zM411.2 63.4h1v1h-1zM402.4 72.9h1v1h-1zM417.3 42.3h1v1h-1zM408.9 70.4h1v1h-1zM424.9 65.4h1v1h-1zM417.4 59.9h1v1h-1zM423.1 54.7h1v1h-1zM424.2 50.0h1v1h-1zM406.6 82.5h1v1h-1zM413.9 66.7h1v1h-1zM409.5 79.8h1v1h-1zM422.2 80.0h1v1h-1zM409.8 64.1h1v1h-1zM419.2 52.1h1v1h-1zM416.7 69.9h1v1h-1zM417.2 60.2h1v1h-1zM414.9 74.1h1v1h-1zM424.3 63.2h1v1h-1zM428.4 41.8h1v1h-1zM408.7 74.4h1v1h-1zM406.3 67.7h1v1h-1zM416.9 77.8h1v1h-1zM419.1 70.5h1v1h-1zM419.6 65.6h1v1h-1z"/>
<rect x="352.0" y="14.9" width="84.00" height="77.70" fill="none" stroke="#2a2a2a" stroke-width="1.1"/>
<line x1="406.4" y1="14.9" x2="406.4" y2="92.6" stroke="#2a2a2a" stroke-width="1"/>
<line x1="352.0" y1="52.4" x2="436.0" y2="52.4" stroke="#2a2a2a" stroke-width="1"/>
<path d="M352.0 92.6H355.0M352.0 92.6V95.6M352.0 86.8H353.6M358.3 92.6V94.2M352.0 83.3H353.6M362.0 92.6V94.2M352.0 80.9H353.6M364.6 92.6V94.2M352.0 79.0H353.6M366.7 92.6V94.2M352.0 77.5H353.6M368.3 92.6V94.2M352.0 76.2H353.6M369.7 92.6V94.2M352.0 75.1H353.6M371.0 92.6V94.2M352.0 74.1H353.6M372.0 92.6V94.2M352.0 73.2H355.0M373.0 92.6V95.6M352.0 67.3H353.6M379.3 92.6V94.2M352.0 63.9H353.6M383.0 92.6V94.2M352.0 61.5H353.6M385.6 92.6V94.2M352.0 59.6H353.6M387.7 92.6V94.2M352.0 58.1H353.6M389.3 92.6V94.2M352.0 56.8H353.6M390.7 92.6V94.2M352.0 55.6H353.6M392.0 92.6V94.2M352.0 54.6H353.6M393.0 92.6V94.2M352.0 53.8H355.0M394.0 92.6V95.6M352.0 47.9H353.6M400.3 92.6V94.2M352.0 44.5H353.6M404.0 92.6V94.2M352.0 42.1H353.6M406.6 92.6V94.2M352.0 40.2H353.6M408.7 92.6V94.2M352.0 38.6H353.6M410.3 92.6V94.2M352.0 37.3H353.6M411.7 92.6V94.2M352.0 36.2H353.6M413.0 92.6V94.2M352.0 35.2H353.6M414.0 92.6V94.2M352.0 34.3H355.0M415.0 92.6V95.6M352.0 28.5H353.6M421.3 92.6V94.2M352.0 25.1H353.6M425.0 92.6V94.2M352.0 22.6H353.6M427.6 92.6V94.2M352.0 20.7H353.6M429.7 92.6V94.2M352.0 19.2H353.6M431.3 92.6V94.2M352.0 17.9H353.6M432.7 92.6V94.2M352.0 16.8H353.6M434.0 92.6V94.2M352.0 15.8H353.6M435.0 92.6V94.2" stroke="#2a2a2a" stroke-width="0.9" fill="none"/>
<text font-family="Liberation Sans, sans-serif" stroke="#111" stroke-width="0.22" font-size="9.3" fill="#111" x="85.3" y="23.8">2.7</text>
<text font-family="Liberation Sans, sans-serif" stroke="#111" stroke-width="0.22" font-size="9.3" fill="#111" x="165.5" y="23.8" text-anchor="end">12.8</text>
<text font-family="Liberation Sans, sans-serif" stroke="#111" stroke-width="0.22" font-size="9.3" fill="#111" x="85.3" y="89.3">33.6</text>
<text font-family="Liberation Sans, sans-serif" stroke="#111" stroke-width="0.22" font-size="9.3" fill="#111" x="165.5" y="89.3" text-anchor="end">50.9</text>
<text font-family="Liberation Sans, sans-serif" stroke="#111" stroke-width="0.22" font-size="9.3" fill="#111" x="175.4" y="23.8">62.4</text>
<text font-family="Liberation Sans, sans-serif" stroke="#111" stroke-width="0.22" font-size="9.3" fill="#111" x="255.5" y="23.8" text-anchor="end">2.7</text>
<text font-family="Liberation Sans, sans-serif" stroke="#111" stroke-width="0.22" font-size="9.3" fill="#111" x="175.4" y="89.3">2.5</text>
<text font-family="Liberation Sans, sans-serif" stroke="#111" stroke-width="0.22" font-size="9.3" fill="#111" x="255.5" y="89.3" text-anchor="end">32.4</text>
<text font-family="Liberation Sans, sans-serif" stroke="#111" stroke-width="0.22" font-size="9.3" fill="#111" x="266.20000000000005" y="23.8">17.4</text>
<text font-family="Liberation Sans, sans-serif" stroke="#111" stroke-width="0.22" font-size="9.3" fill="#111" x="345.5" y="23.8" text-anchor="end">2.6</text>
<text font-family="Liberation Sans, sans-serif" stroke="#111" stroke-width="0.22" font-size="9.3" fill="#111" x="266.20000000000005" y="89.3">40.5</text>
<text font-family="Liberation Sans, sans-serif" stroke="#111" stroke-width="0.22" font-size="9.3" fill="#111" x="345.5" y="89.3" text-anchor="end">39.5</text>
<text font-family="Liberation Sans, sans-serif" stroke="#111" stroke-width="0.22" font-size="9.3" fill="#111" x="354.1" y="23.8">36.7</text>
<text font-family="Liberation Sans, sans-serif" stroke="#111" stroke-width="0.22" font-size="9.3" fill="#111" x="433.7" y="23.8" text-anchor="end">4.8</text>
<text font-family="Liberation Sans, sans-serif" stroke="#111" stroke-width="0.22" font-size="9.3" fill="#111" x="354.1" y="89.3">10.7</text>
<text font-family="Liberation Sans, sans-serif" stroke="#111" stroke-width="0.22" font-size="9.3" fill="#111" x="433.7" y="89.3" text-anchor="end">47.8</text>
<text font-family="Liberation Sans, sans-serif" stroke="#111" stroke-width="0.12" font-size="9.4" fill="#111" x="110.6" y="9.8">TCF-1<tspan font-size="7.4" dy="-3.2" dx="0.3" letter-spacing="0.5">+/-</tspan><tspan dy="3.2"></tspan></text>
<text font-family="Liberation Sans, sans-serif" stroke="#111" stroke-width="0.12" font-size="9.4" fill="#111" x="202.5" y="9.8">TCF-1<tspan font-size="7.4" dy="-3.2" dx="0.3" letter-spacing="0.5">-/-</tspan><tspan dy="3.2"></tspan></text>
<text font-family="Liberation Sans, sans-serif" stroke="#111" stroke-width="0.12" font-size="9.4" fill="#111" x="280.6" y="9.8">TCF-1<tspan font-size="7.4" dy="-3.2" dx="0.3" letter-spacing="0.5">-/-</tspan><tspan dy="3.2"> p45 Tg</tspan></text>
<text font-family="Liberation Sans, sans-serif" stroke="#111" stroke-width="0.12" font-size="9.4" fill="#111" x="370.6" y="9.8">TCF-1<tspan font-size="7.4" dy="-3.2" dx="0.3" letter-spacing="0.5">-/-</tspan><tspan dy="3.2"> p33 Tg</tspan></text>
<text font-family="Liberation Sans, sans-serif" stroke="#111" stroke-width="0.12" font-size="26.3" font-weight="bold" fill="#000" x="45.8" y="19.7">A</text>
<line x1="75.3" y1="18" x2="75.3" y2="65" stroke="#2a2a2a" stroke-width="1"/>
<path d="M72.7 18.8L75.3 11.3L77.9 18.8Z" fill="#111"/>
<text font-family="Liberation Sans, sans-serif" stroke="#111" stroke-width="0.22" font-size="9.5" fill="#111" transform="translate(78.3 92.6) rotate(-90)">CD44</text>
<text font-family="Liberation Sans, sans-serif" stroke="#111" stroke-width="0.22" font-size="9.6" fill="#111" x="85.3" y="105.7">CD25</text>
<line x1="113" y1="103.5" x2="431" y2="103.5" stroke="#2a2a2a" stroke-width="1"/>
<path d="M430 100.9L437.5 103.5L430 106.1Z" fill="#111"/>
<text font-family="Liberation Sans, sans-serif" stroke="#111" stroke-width="0.12" font-size="25.5" font-weight="bold" fill="#000" x="-1" y="132.7">B</text>
<line x1="34.6" y1="144.6" x2="34.6" y2="292" stroke="#2a2a2a" stroke-width="1.1"/>
<line x1="34.6" y1="289.4" x2="221.3" y2="289.4" stroke="#2a2a2a" stroke-width="1.1"/>
<line x1="31" y1="289.30" x2="34.6" y2="289.30" stroke="#2a2a2a" stroke-width="1"/>
<text font-family="Liberation Sans, sans-serif" stroke="#111" stroke-width="0.12" font-size="9.4" fill="#111" x="27.0" y="291.90" text-anchor="end">0.0</text>
<line x1="31" y1="271.26" x2="34.6" y2="271.26" stroke="#2a2a2a" stroke-width="1"/>
<text font-family="Liberation Sans, sans-serif" stroke="#111" stroke-width="0.12" font-size="9.4" fill="#111" x="27.0" y="273.71" text-anchor="end">0.5</text>
<line x1="31" y1="253.23" x2="34.6" y2="253.23" stroke="#2a2a2a" stroke-width="1"/>
<text font-family="Liberation Sans, sans-serif" stroke="#111" stroke-width="0.12" font-size="9.4" fill="#111" x="27.0" y="255.52" text-anchor="end">1.0</text>
<line x1="31" y1="235.19" x2="34.6" y2="235.19" stroke="#2a2a2a" stroke-width="1"/>
<text font-family="Liberation Sans, sans-serif" stroke="#111" stroke-width="0.12" font-size="9.4" fill="#111" x="27.0" y="237.34" text-anchor="end">1.5</text>
<line x1="31" y1="217.16" x2="34.6" y2="217.16" stroke="#2a2a2a" stroke-width="1"/>
<text font-family="Liberation Sans, sans-serif" stroke="#111" stroke-width="0.12" font-size="9.4" fill="#111" x="27.0" y="219.15" text-anchor="end">2.0</text>
<line x1="31" y1="199.12" x2="34.6" y2="199.12" stroke="#2a2a2a" stroke-width="1"/>
<text font-family="Liberation Sans, sans-serif" stroke="#111" stroke-width="0.12" font-size="9.4" fill="#111" x="27.0" y="200.96" text-anchor="end">2.5</text>
<line x1="31" y1="181.09" x2="34.6" y2="181.09" stroke="#2a2a2a" stroke-width="1"/>
<text font-family="Liberation Sans, sans-serif" stroke="#111" stroke-width="0.12" font-size="9.4" fill="#111" x="27.0" y="182.77" text-anchor="end">3.0</text>
<line x1="31" y1="163.06" x2="34.6" y2="163.06" stroke="#2a2a2a" stroke-width="1"/>
<text font-family="Liberation Sans, sans-serif" stroke="#111" stroke-width="0.12" font-size="9.4" fill="#111" x="27.0" y="164.59" text-anchor="end">3.5</text>
<line x1="31" y1="145.02" x2="34.6" y2="145.02" stroke="#2a2a2a" stroke-width="1"/>
<text font-family="Liberation Sans, sans-serif" stroke="#111" stroke-width="0.12" font-size="9.4" fill="#111" x="27.0" y="146.40" text-anchor="end">4.0</text>
<text font-family="Liberation Sans, sans-serif" stroke="#111" stroke-width="0.12" font-size="9.7" fill="#111" transform="translate(9.6 291) rotate(-90)">Absolute number of cells (x10<tspan font-size="7" dy="-3.6">6</tspan><tspan dy="3.6">)</tspan></text>
<rect x="40.24" y="285.77" width="8.63" height="3.62" fill="#000" stroke="#1a1a1a" stroke-width="0.9"/>
<line x1="44.55" y1="284.11" x2="44.55" y2="285.77" stroke="#222" stroke-width="0.9"/>
<line x1="42.55" y1="284.11" x2="46.55" y2="284.11" stroke="#222" stroke-width="1"/>
<rect x="48.87" y="282.26" width="8.63" height="7.14" fill="#dedede" stroke="#1a1a1a" stroke-width="0.9"/>
<line x1="53.18" y1="279.10" x2="53.18" y2="286.61" stroke="#222" stroke-width="0.9"/>
<line x1="51.18" y1="279.10" x2="55.18" y2="279.10" stroke="#222" stroke-width="1"/>
<line x1="51.18" y1="286.61" x2="55.18" y2="286.61" stroke="#222" stroke-width="1"/>
<rect x="57.50" y="279.97" width="8.63" height="9.43" fill="#969696" stroke="#1a1a1a" stroke-width="0.9"/>
<line x1="61.81" y1="276.35" x2="61.81" y2="283.24" stroke="#222" stroke-width="0.9"/>
<line x1="59.81" y1="276.35" x2="63.81" y2="276.35" stroke="#222" stroke-width="1"/>
<line x1="59.81" y1="283.24" x2="63.81" y2="283.24" stroke="#222" stroke-width="1"/>
<rect x="66.13" y="282.51" width="8.63" height="6.89" fill="#fff" stroke="#1a1a1a" stroke-width="0.9"/>
<line x1="70.44" y1="278.52" x2="70.44" y2="286.14" stroke="#222" stroke-width="0.9"/>
<line x1="68.44" y1="278.52" x2="72.44" y2="278.52" stroke="#222" stroke-width="1"/>
<line x1="68.44" y1="286.14" x2="72.44" y2="286.14" stroke="#222" stroke-width="1"/>
<text font-family="Liberation Sans, sans-serif" stroke="#111" stroke-width="0.12" font-size="9.4" fill="#111" x="56.50" y="299.7" text-anchor="middle">DN1</text>
<rect x="86.87" y="282.88" width="8.63" height="6.52" fill="#000" stroke="#1a1a1a" stroke-width="0.9"/>
<line x1="91.18" y1="282.51" x2="91.18" y2="282.88" stroke="#222" stroke-width="0.9"/>
<line x1="89.18" y1="282.51" x2="93.18" y2="282.51" stroke="#222" stroke-width="1"/>
<rect x="95.50" y="288.96" width="8.63" height="0.44" fill="#dedede" stroke="#1a1a1a" stroke-width="0.9"/>
<line x1="99.81" y1="288.67" x2="99.81" y2="288.96" stroke="#222" stroke-width="0.9"/>
<line x1="97.81" y1="288.67" x2="101.81" y2="288.67" stroke="#222" stroke-width="1"/>
<rect x="104.13" y="288.31" width="8.63" height="1.09" fill="#969696" stroke="#1a1a1a" stroke-width="0.9"/>
<line x1="108.44" y1="287.95" x2="108.44" y2="288.31" stroke="#222" stroke-width="0.9"/>
<line x1="106.44" y1="287.95" x2="110.44" y2="287.95" stroke="#222" stroke-width="1"/>
<rect x="112.76" y="288.96" width="8.63" height="0.44" fill="#fff" stroke="#1a1a1a" stroke-width="0.9"/>
<line x1="117.07" y1="288.67" x2="117.07" y2="288.96" stroke="#222" stroke-width="0.9"/>
<line x1="115.07" y1="288.67" x2="119.07" y2="288.67" stroke="#222" stroke-width="1"/>
<text font-family="Liberation Sans, sans-serif" stroke="#111" stroke-width="0.12" font-size="9.4" fill="#111" x="103.13" y="299.7" text-anchor="middle">DN2</text>
<rect x="133.50" y="204.21" width="8.63" height="85.19" fill="#000" stroke="#1a1a1a" stroke-width="0.9"/>
<line x1="137.81" y1="183.01" x2="137.81" y2="204.21" stroke="#222" stroke-width="0.9"/>
<line x1="135.81" y1="183.01" x2="139.81" y2="183.01" stroke="#222" stroke-width="1"/>
<rect x="142.13" y="275.52" width="8.63" height="13.88" fill="#dedede" stroke="#1a1a1a" stroke-width="0.9"/>
<line x1="146.44" y1="265.00" x2="146.44" y2="286.50" stroke="#222" stroke-width="0.9"/>
<line x1="144.44" y1="265.00" x2="148.44" y2="265.00" stroke="#222" stroke-width="1"/>
<line x1="144.44" y1="286.50" x2="148.44" y2="286.50" stroke="#222" stroke-width="1"/>
<rect x="150.76" y="258.12" width="8.63" height="31.28" fill="#969696" stroke="#1a1a1a" stroke-width="0.9"/>
<line x1="155.07" y1="247.75" x2="155.07" y2="269.61" stroke="#222" stroke-width="0.9"/>
<line x1="153.07" y1="247.75" x2="157.07" y2="247.75" stroke="#222" stroke-width="1"/>
<line x1="153.07" y1="269.61" x2="157.07" y2="269.61" stroke="#222" stroke-width="1"/>
<rect x="159.39" y="282.15" width="8.63" height="7.25" fill="#fff" stroke="#1a1a1a" stroke-width="0.9"/>
<line x1="163.70" y1="276.50" x2="163.70" y2="287.77" stroke="#222" stroke-width="0.9"/>
<line x1="161.70" y1="276.50" x2="165.70" y2="276.50" stroke="#222" stroke-width="1"/>
<line x1="161.70" y1="287.77" x2="165.70" y2="287.77" stroke="#222" stroke-width="1"/>
<text font-family="Liberation Sans, sans-serif" stroke="#111" stroke-width="0.12" font-size="9.4" fill="#111" x="149.76" y="299.7" text-anchor="middle">DN3</text>
<rect x="180.13" y="211.10" width="8.63" height="78.30" fill="#000" stroke="#1a1a1a" stroke-width="0.9"/>
<line x1="184.45" y1="161.07" x2="184.45" y2="211.10" stroke="#222" stroke-width="0.9"/>
<line x1="182.45" y1="161.07" x2="186.45" y2="161.07" stroke="#222" stroke-width="1"/>
<rect x="188.76" y="282.98" width="8.63" height="6.42" fill="#dedede" stroke="#1a1a1a" stroke-width="0.9"/>
<line x1="193.08" y1="279.61" x2="193.08" y2="287.12" stroke="#222" stroke-width="0.9"/>
<line x1="191.08" y1="279.61" x2="195.08" y2="279.61" stroke="#222" stroke-width="1"/>
<line x1="191.08" y1="287.12" x2="195.08" y2="287.12" stroke="#222" stroke-width="1"/>
<rect x="197.39" y="268.48" width="8.63" height="20.92" fill="#969696" stroke="#1a1a1a" stroke-width="0.9"/>
<line x1="201.71" y1="258.51" x2="201.71" y2="279.61" stroke="#222" stroke-width="0.9"/>
<line x1="199.71" y1="258.51" x2="203.71" y2="258.51" stroke="#222" stroke-width="1"/>
<line x1="199.71" y1="279.61" x2="203.71" y2="279.61" stroke="#222" stroke-width="1"/>
<rect x="206.02" y="283.75" width="8.63" height="5.65" fill="#fff" stroke="#1a1a1a" stroke-width="0.9"/>
<line x1="210.34" y1="280.52" x2="210.34" y2="286.86" stroke="#222" stroke-width="0.9"/>
<line x1="208.34" y1="280.52" x2="212.34" y2="280.52" stroke="#222" stroke-width="1"/>
<line x1="208.34" y1="286.86" x2="212.34" y2="286.86" stroke="#222" stroke-width="1"/>
<text font-family="Liberation Sans, sans-serif" stroke="#111" stroke-width="0.12" font-size="9.4" fill="#111" x="196.39" y="299.7" text-anchor="middle">DN4</text>
<polygon points="153.50,238.90 154.21,240.62 156.07,240.77 154.66,241.98 155.09,243.78 153.50,242.81 151.91,243.78 152.34,241.98 150.93,240.77 152.79,240.62" fill="#111"/>
<polygon points="200.40,249.30 201.11,251.02 202.97,251.17 201.56,252.38 201.99,254.18 200.40,253.22 198.81,254.18 199.24,252.38 197.83,251.17 199.69,251.02" fill="#111"/>
<rect x="41.8" y="148.40" width="5" height="4.8" fill="#000" stroke="#222" stroke-width="0.9"/>
<text font-family="Liberation Sans, sans-serif" stroke="#111" stroke-width="0.12" font-size="9.3" fill="#111" x="51.8" y="154.00">TCF-1<tspan font-size="7.2" dy="-3.2" dx="0.3" letter-spacing="0.5">+/-</tspan><tspan dy="3.2"></tspan></text>
<rect x="41.8" y="161.50" width="5" height="4.8" fill="#dedede" stroke="#222" stroke-width="0.9"/>
<text font-family="Liberation Sans, sans-serif" stroke="#111" stroke-width="0.12" font-size="9.3" fill="#111" x="51.8" y="167.10">TCF-1<tspan font-size="7.2" dy="-3.2" dx="0.3" letter-spacing="0.5">-/-</tspan><tspan dy="3.2"></tspan></text>
<rect x="41.8" y="174.60" width="5" height="4.8" fill="#969696" stroke="#222" stroke-width="0.9"/>
<text font-family="Liberation Sans, sans-serif" stroke="#111" stroke-width="0.12" font-size="9.3" fill="#111" x="51.8" y="180.20">TCF-1<tspan font-size="7.2" dy="-3.2" dx="0.3" letter-spacing="0.5">-/-</tspan><tspan dy="3.2"> p45 Tg</tspan></text>
<rect x="41.8" y="187.70" width="5" height="4.8" fill="#fff" stroke="#222" stroke-width="0.9"/>
<text font-family="Liberation Sans, sans-serif" stroke="#111" stroke-width="0.12" font-size="9.3" fill="#111" x="51.8" y="193.30">TCF-1<tspan font-size="7.2" dy="-3.2" dx="0.3" letter-spacing="0.5">-/-</tspan><tspan dy="3.2"> p33 Tg</tspan></text>
<text font-family="Liberation Sans, sans-serif" stroke="#111" stroke-width="0.12" font-size="25.5" font-weight="bold" fill="#000" x="227.4" y="132.7">C</text>
<text font-family="Liberation Sans, sans-serif" stroke="#111" stroke-width="0.12" font-size="9.4" fill="#111" transform="translate(236.8 233.2) rotate(-90)">Surviving cells (%)</text>
<line x1="264.7" y1="143.6" x2="264.7" y2="250.8" stroke="#2a2a2a" stroke-width="1.1"/>
<line x1="264.7" y1="249.00" x2="385.3" y2="249.00" stroke="#2a2a2a" stroke-width="1.1"/>
<line x1="261.7" y1="248.40" x2="264.7" y2="248.40" stroke="#2a2a2a" stroke-width="1"/>
<text font-family="Liberation Sans, sans-serif" stroke="#111" stroke-width="0.12" font-size="9.4" fill="#111" x="257.4" y="251.60" text-anchor="end">0</text>
<line x1="261.7" y1="233.45" x2="264.7" y2="233.45" stroke="#2a2a2a" stroke-width="1"/>
<text font-family="Liberation Sans, sans-serif" stroke="#111" stroke-width="0.12" font-size="9.4" fill="#111" x="257.4" y="236.65" text-anchor="end">20</text>
<line x1="261.7" y1="218.50" x2="264.7" y2="218.50" stroke="#2a2a2a" stroke-width="1"/>
<text font-family="Liberation Sans, sans-serif" stroke="#111" stroke-width="0.12" font-size="9.4" fill="#111" x="257.4" y="221.70" text-anchor="end">40</text>
<line x1="261.7" y1="203.55" x2="264.7" y2="203.55" stroke="#2a2a2a" stroke-width="1"/>
<text font-family="Liberation Sans, sans-serif" stroke="#111" stroke-width="0.12" font-size="9.4" fill="#111" x="257.4" y="206.75" text-anchor="end">60</text>
<line x1="261.7" y1="188.60" x2="264.7" y2="188.60" stroke="#2a2a2a" stroke-width="1"/>
<text font-family="Liberation Sans, sans-serif" stroke="#111" stroke-width="0.12" font-size="9.4" fill="#111" x="257.4" y="191.80" text-anchor="end">80</text>
<line x1="261.7" y1="173.65" x2="264.7" y2="173.65" stroke="#2a2a2a" stroke-width="1"/>
<text font-family="Liberation Sans, sans-serif" stroke="#111" stroke-width="0.12" font-size="9.4" fill="#111" x="257.4" y="176.85" text-anchor="end">100</text>
<line x1="261.7" y1="158.70" x2="264.7" y2="158.70" stroke="#2a2a2a" stroke-width="1"/>
<text font-family="Liberation Sans, sans-serif" stroke="#111" stroke-width="0.12" font-size="9.4" fill="#111" x="257.4" y="161.90" text-anchor="end">120</text>
<line x1="261.7" y1="143.75" x2="264.7" y2="143.75" stroke="#2a2a2a" stroke-width="1"/>
<text font-family="Liberation Sans, sans-serif" stroke="#111" stroke-width="0.12" font-size="9.4" fill="#111" x="257.4" y="146.95" text-anchor="end">140</text>
<line x1="285.5" y1="248.4" x2="285.5" y2="250.90" stroke="#2a2a2a" stroke-width="1"/>
<text font-family="Liberation Sans, sans-serif" stroke="#111" stroke-width="0.12" font-size="9.4" fill="#111" x="284.0" y="265.0" text-anchor="middle">0</text>
<line x1="325.6" y1="248.4" x2="325.6" y2="250.90" stroke="#2a2a2a" stroke-width="1"/>
<text font-family="Liberation Sans, sans-serif" stroke="#111" stroke-width="0.12" font-size="9.4" fill="#111" x="324.5" y="265.0" text-anchor="middle">3</text>
<line x1="365.6" y1="248.4" x2="365.6" y2="250.90" stroke="#2a2a2a" stroke-width="1"/>
<text font-family="Liberation Sans, sans-serif" stroke="#111" stroke-width="0.12" font-size="9.4" fill="#111" x="364.3" y="265.0" text-anchor="middle">6</text>
<text font-family="Liberation Sans, sans-serif" stroke="#111" stroke-width="0.12" font-size="9.4" fill="#111" x="271.2" y="152.2">DN3</text>
<text font-family="Liberation Sans, sans-serif" stroke="#111" stroke-width="0.12" font-size="9.4" fill="#111" x="305.8" y="276.6" xml:space="preserve">Time  (h)</text>
<polyline points="285.50,174.40 325.60,167.82 365.60,183.14" fill="none" stroke="#1a1a1a" stroke-width="0.9"/>
<polyline points="285.50,174.40 325.60,176.27 365.60,183.14" fill="none" stroke="#1a1a1a" stroke-width="0.9"/>
<polyline points="285.50,174.40 325.60,189.65 365.60,208.86" fill="none" stroke="#1a1a1a" stroke-width="0.9"/>
<polyline points="285.50,174.40 325.60,209.08 365.60,220.14" fill="none" stroke="#1a1a1a" stroke-width="0.9"/>
<line x1="325.6" y1="159.4" x2="325.6" y2="167.7" stroke="#222" stroke-width="0.9"/>
<line x1="323.40000000000003" y1="159.4" x2="327.8" y2="159.4" stroke="#222" stroke-width="1.1"/>
<line x1="325.6" y1="181.0" x2="325.6" y2="189.6" stroke="#222" stroke-width="0.9"/>
<line x1="323.40000000000003" y1="181.0" x2="327.8" y2="181.0" stroke="#222" stroke-width="1.1"/>
<line x1="365.6" y1="172.5" x2="365.6" y2="183.0" stroke="#222" stroke-width="0.9"/>
<line x1="363.40000000000003" y1="172.5" x2="367.8" y2="172.5" stroke="#222" stroke-width="1.1"/>
<line x1="325.6" y1="199.4" x2="325.6" y2="209.0" stroke="#222" stroke-width="0.9"/>
<line x1="323.40000000000003" y1="199.4" x2="327.8" y2="199.4" stroke="#222" stroke-width="1.1"/>
<line x1="365.6" y1="205.6" x2="365.6" y2="208.7" stroke="#222" stroke-width="0.9"/>
<line x1="363.40000000000003" y1="205.6" x2="367.8" y2="205.6" stroke="#222" stroke-width="1.1"/>
<line x1="365.6" y1="212.5" x2="365.6" y2="220.0" stroke="#222" stroke-width="0.9"/>
<line x1="363.40000000000003" y1="212.5" x2="367.8" y2="212.5" stroke="#222" stroke-width="1.1"/>
<path d="M322.80 211.28L325.60 206.48L328.40 211.28Z" fill="#fff" stroke="#000" stroke-width="0.9"/>
<path d="M362.80 222.34L365.60 217.54L368.40 222.34Z" fill="#fff" stroke="#000" stroke-width="0.9"/>
<path d="M322.60 192.05L325.60 186.85L328.60 192.05Z" fill="#000"/>
<path d="M362.60 211.26L365.60 206.06L368.60 211.26Z" fill="#000"/>
<circle cx="325.60" cy="176.27" r="2.4" fill="#fff" stroke="#000" stroke-width="0.9"/>
<circle cx="365.60" cy="183.14" r="2.4" fill="#fff" stroke="#000" stroke-width="0.9"/>
<circle cx="325.60" cy="167.82" r="2.8" fill="#000"/>
<circle cx="365.60" cy="183.14" r="2.8" fill="#000"/>
<circle cx="285.50" cy="174.40" r="2.9" fill="#000"/>
<line x1="401.7" y1="144.0" x2="401.7" y2="250.2" stroke="#2a2a2a" stroke-width="1.1"/>
<line x1="401.7" y1="247.60" x2="519.0" y2="247.60" stroke="#2a2a2a" stroke-width="1.1"/>
<line x1="398.7" y1="230.00" x2="401.7" y2="230.00" stroke="#2a2a2a" stroke-width="1"/>
<text font-family="Liberation Sans, sans-serif" stroke="#111" stroke-width="0.12" font-size="9.4" fill="#111" x="394.4" y="233.20" text-anchor="end">20</text>
<line x1="398.7" y1="213.00" x2="401.7" y2="213.00" stroke="#2a2a2a" stroke-width="1"/>
<text font-family="Liberation Sans, sans-serif" stroke="#111" stroke-width="0.12" font-size="9.4" fill="#111" x="394.4" y="216.20" text-anchor="end">40</text>
<line x1="398.7" y1="196.00" x2="401.7" y2="196.00" stroke="#2a2a2a" stroke-width="1"/>
<text font-family="Liberation Sans, sans-serif" stroke="#111" stroke-width="0.12" font-size="9.4" fill="#111" x="394.4" y="199.20" text-anchor="end">60</text>
<line x1="398.7" y1="179.00" x2="401.7" y2="179.00" stroke="#2a2a2a" stroke-width="1"/>
<text font-family="Liberation Sans, sans-serif" stroke="#111" stroke-width="0.12" font-size="9.4" fill="#111" x="394.4" y="182.20" text-anchor="end">80</text>
<line x1="398.7" y1="162.00" x2="401.7" y2="162.00" stroke="#2a2a2a" stroke-width="1"/>
<text font-family="Liberation Sans, sans-serif" stroke="#111" stroke-width="0.12" font-size="9.4" fill="#111" x="394.4" y="165.20" text-anchor="end">100</text>
<line x1="398.7" y1="145.00" x2="401.7" y2="145.00" stroke="#2a2a2a" stroke-width="1"/>
<text font-family="Liberation Sans, sans-serif" stroke="#111" stroke-width="0.12" font-size="9.4" fill="#111" x="394.4" y="148.20" text-anchor="end">120</text>
<line x1="422.0" y1="247.0" x2="422.0" y2="249.50" stroke="#2a2a2a" stroke-width="1"/>
<text font-family="Liberation Sans, sans-serif" stroke="#111" stroke-width="0.12" font-size="9.4" fill="#111" x="420.5" y="263.8" text-anchor="middle">0</text>
<line x1="461.25" y1="247.0" x2="461.25" y2="249.50" stroke="#2a2a2a" stroke-width="1"/>
<text font-family="Liberation Sans, sans-serif" stroke="#111" stroke-width="0.12" font-size="9.4" fill="#111" x="460.5" y="263.8" text-anchor="middle">3</text>
<line x1="500.75" y1="247.0" x2="500.75" y2="249.50" stroke="#2a2a2a" stroke-width="1"/>
<text font-family="Liberation Sans, sans-serif" stroke="#111" stroke-width="0.12" font-size="9.4" fill="#111" x="500.0" y="263.8" text-anchor="middle">6</text>
<text font-family="Liberation Sans, sans-serif" stroke="#111" stroke-width="0.12" font-size="9.4" fill="#111" x="416.2" y="150.8">DN4</text>
<text font-family="Liberation Sans, sans-serif" stroke="#111" stroke-width="0.12" font-size="9.4" fill="#111" x="443.2" y="277.6" xml:space="preserve">Time (h)</text>
<polyline points="422.00,162.00 461.25,173.22 500.75,178.15" fill="none" stroke="#1a1a1a" stroke-width="0.9"/>
<polyline points="422.00,162.00 461.25,173.90 500.75,186.74" fill="none" stroke="#1a1a1a" stroke-width="1.3"/>
<polyline points="422.00,162.00 461.25,199.49 500.75,212.49" fill="none" stroke="#1a1a1a" stroke-width="1.3"/>
<polyline points="422.00,162.00 461.25,210.79 500.75,226.77" fill="none" stroke="#1a1a1a" stroke-width="0.9"/>
<line x1="461.25" y1="162.5" x2="461.25" y2="173.0" stroke="#222" stroke-width="0.9"/>
<line x1="459.05" y1="162.5" x2="463.45" y2="162.5" stroke="#222" stroke-width="1.1"/>
<line x1="461.25" y1="165.3" x2="461.25" y2="173.0" stroke="#222" stroke-width="0.9"/>
<line x1="459.05" y1="165.3" x2="463.45" y2="165.3" stroke="#222" stroke-width="1.1"/>
<line x1="500.75" y1="164.8" x2="500.75" y2="178.0" stroke="#222" stroke-width="0.9"/>
<line x1="498.55" y1="164.8" x2="502.95" y2="164.8" stroke="#222" stroke-width="1.1"/>
<line x1="500.75" y1="173.5" x2="500.75" y2="178.0" stroke="#222" stroke-width="0.9"/>
<line x1="498.55" y1="173.5" x2="502.95" y2="173.5" stroke="#222" stroke-width="1.1"/>
<line x1="461.25" y1="199.5" x2="461.25" y2="210.7" stroke="#222" stroke-width="0.9"/>
<line x1="459.05" y1="199.5" x2="463.45" y2="199.5" stroke="#222" stroke-width="1.1"/>
<line x1="500.75" y1="205.0" x2="500.75" y2="212.5" stroke="#222" stroke-width="0.9"/>
<line x1="498.55" y1="205.0" x2="502.95" y2="205.0" stroke="#222" stroke-width="1.1"/>
<line x1="500.75" y1="224.0" x2="500.75" y2="229.0" stroke="#222" stroke-width="0.9"/>
<line x1="498.55" y1="224.0" x2="502.95" y2="224.0" stroke="#222" stroke-width="1.1"/>
<path d="M458.25 213.19L461.25 207.99L464.25 213.19Z" fill="#000"/>
<path d="M497.75 229.17L500.75 223.97L503.75 229.17Z" fill="#000"/>
<path d="M458.45 201.69L461.25 196.89L464.05 201.69Z" fill="#fff" stroke="#000" stroke-width="0.9"/>
<path d="M497.95 214.69L500.75 209.89L503.55 214.69Z" fill="#fff" stroke="#000" stroke-width="0.9"/>
<circle cx="461.25" cy="173.90" r="2.4" fill="#fff" stroke="#000" stroke-width="0.9"/>
<circle cx="500.75" cy="186.74" r="2.4" fill="#fff" stroke="#000" stroke-width="0.9"/>
<circle cx="461.25" cy="173.22" r="2.8" fill="#000"/>
<circle cx="500.75" cy="178.15" r="2.8" fill="#000"/>
<circle cx="422.00" cy="162.00" r="2.9" fill="#000"/>
</svg>
</body></html>
